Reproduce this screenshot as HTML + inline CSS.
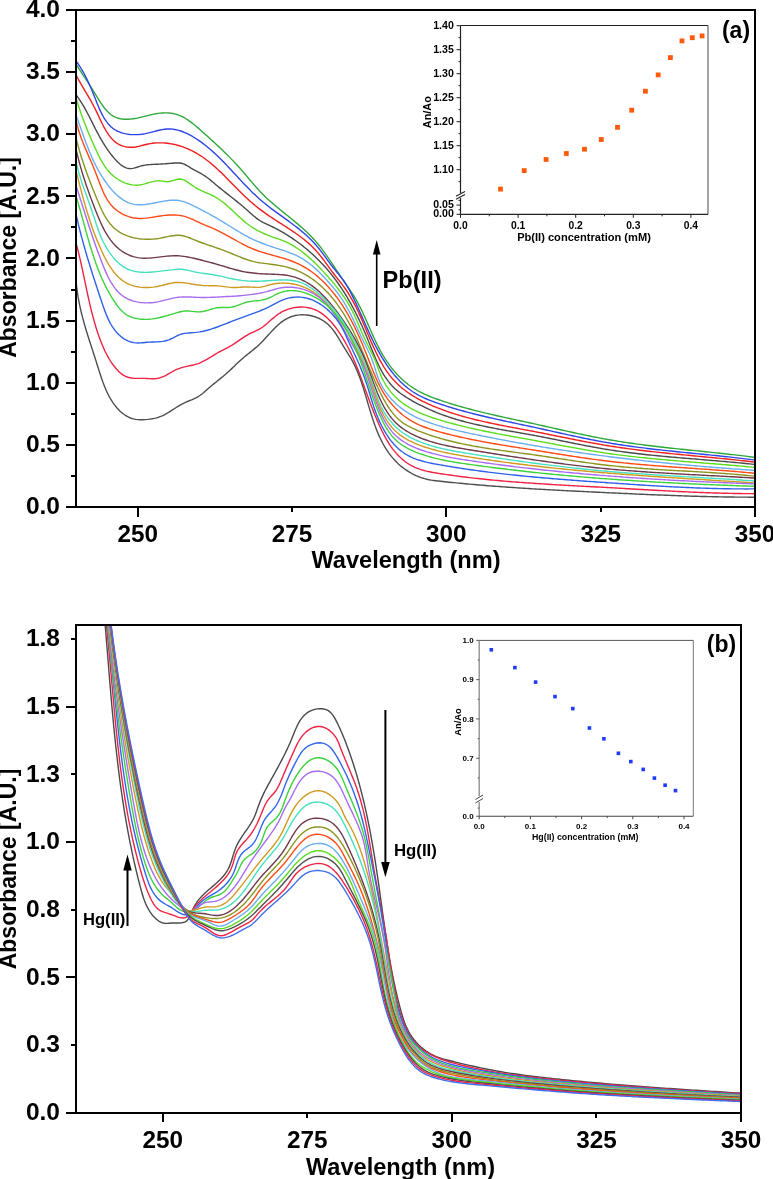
<!DOCTYPE html><html><head><meta charset="utf-8"><style>html,body{margin:0;padding:0;background:#fff;width:773px;height:1179px;overflow:hidden}</style></head><body><svg width="773" height="1179" viewBox="0 0 773 1179" style="display:block;will-change:transform;font-family:'Liberation Sans',sans-serif;font-weight:bold">
<rect width="773" height="1179" fill="#fff"/>
<g clip-path="url(#clipTop)" fill="none" stroke-width="1.4" stroke-linejoin="round">
<path d="M75.92,64.04 L77.13,65.90 L78.32,67.74 L79.50,69.54 L80.67,71.32 L81.83,73.08 L82.97,74.82 L84.11,76.55 L85.25,78.28 L86.37,80.00 L87.50,81.72 L88.62,83.45 L89.74,85.18 L90.86,86.94 L91.98,88.71 L93.11,90.50 L94.24,92.33 L95.38,94.18 L96.53,96.07 L97.69,97.97 L98.87,99.88 L100.07,101.77 L101.31,103.64 L102.58,105.47 L103.88,107.24 L105.24,108.94 L106.64,110.56 L108.10,112.07 L109.62,113.47 L111.20,114.74 L112.86,115.87 L114.59,116.83 L116.41,117.63 L118.30,118.25 L120.25,118.71 L122.26,119.03 L124.31,119.22 L126.40,119.27 L128.51,119.22 L130.64,119.06 L132.77,118.81 L134.90,118.48 L137.02,118.09 L139.13,117.64 L141.23,117.15 L143.33,116.63 L145.43,116.10 L147.53,115.57 L149.63,115.06 L151.73,114.58 L153.84,114.13 L155.96,113.75 L158.08,113.42 L160.20,113.17 L162.32,112.98 L164.43,112.89 L166.52,112.88 L168.60,112.96 L170.66,113.15 L172.69,113.45 L174.69,113.86 L176.65,114.40 L178.58,115.06 L180.48,115.83 L182.34,116.71 L184.17,117.68 L185.98,118.74 L187.76,119.88 L189.51,121.09 L191.24,122.36 L192.95,123.68 L194.64,125.05 L196.32,126.45 L197.98,127.88 L199.63,129.32 L201.26,130.77 L202.89,132.22 L204.51,133.67 L206.12,135.11 L207.72,136.55 L209.32,137.99 L210.90,139.43 L212.48,140.87 L214.05,142.30 L215.61,143.74 L217.16,145.18 L218.71,146.63 L220.24,148.07 L221.77,149.53 L223.28,150.98 L224.79,152.45 L226.29,153.91 L227.78,155.39 L229.26,156.88 L230.72,158.37 L232.18,159.87 L233.64,161.39 L235.08,162.92 L236.51,164.45 L237.93,166.01 L239.34,167.57 L240.74,169.15 L242.13,170.74 L243.52,172.35 L244.89,173.97 L246.27,175.59 L247.64,177.22 L249.02,178.85 L250.39,180.48 L251.77,182.11 L253.16,183.73 L254.56,185.35 L255.97,186.95 L257.39,188.54 L258.83,190.12 L260.28,191.68 L261.75,193.21 L263.25,194.73 L264.76,196.22 L266.30,197.69 L267.85,199.14 L269.42,200.57 L271.01,201.98 L272.61,203.38 L274.22,204.77 L275.85,206.14 L277.48,207.50 L279.12,208.86 L280.76,210.21 L282.42,211.55 L284.07,212.88 L285.73,214.22 L287.38,215.55 L289.04,216.88 L290.69,218.22 L292.34,219.55 L293.98,220.90 L295.62,222.25 L297.24,223.61 L298.86,224.97 L300.47,226.35 L302.06,227.74 L303.64,229.15 L305.20,230.57 L306.74,232.01 L308.27,233.47 L309.77,234.95 L311.25,236.45 L312.71,237.98 L314.15,239.53 L315.55,241.11 L316.93,242.71 L318.29,244.34 L319.61,246.00 L320.92,247.68 L322.21,249.37 L323.48,251.09 L324.73,252.82 L325.97,254.56 L327.19,256.32 L328.41,258.09 L329.61,259.86 L330.81,261.64 L332.00,263.42 L333.19,265.21 L334.38,266.99 L335.56,268.78 L336.75,270.55 L337.94,272.33 L339.14,274.09 L340.35,275.84 L341.56,277.59 L342.76,279.34 L343.97,281.07 L345.18,282.81 L346.38,284.55 L347.57,286.29 L348.75,288.04 L349.92,289.79 L351.07,291.55 L352.21,293.31 L353.32,295.09 L354.42,296.89 L355.49,298.69 L356.54,300.52 L357.56,302.36 L358.55,304.21 L359.53,306.08 L360.48,307.97 L361.41,309.87 L362.33,311.77 L363.23,313.69 L364.12,315.62 L365.00,317.55 L365.87,319.50 L366.74,321.44 L367.60,323.39 L368.45,325.35 L369.31,327.30 L370.17,329.26 L371.03,331.21 L371.89,333.17 L372.76,335.12 L373.64,337.06 L374.54,339.00 L375.44,340.94 L376.36,342.86 L377.30,344.78 L378.25,346.68 L379.23,348.58 L380.23,350.46 L381.26,352.33 L382.31,354.18 L383.39,356.02 L384.50,357.84 L385.64,359.64 L386.82,361.42 L388.04,363.18 L389.28,364.92 L390.57,366.63 L391.88,368.31 L393.24,369.97 L394.62,371.60 L396.04,373.20 L397.49,374.77 L398.97,376.30 L400.49,377.80 L402.04,379.26 L403.62,380.68 L405.23,382.07 L406.88,383.41 L408.55,384.71 L410.26,385.96 L412.00,387.17 L413.76,388.33 L415.56,389.44 L417.39,390.50 L419.24,391.52 L421.12,392.49 L423.02,393.42 L424.94,394.31 L426.89,395.17 L428.85,395.99 L430.82,396.79 L432.80,397.56 L434.80,398.30 L436.81,399.03 L438.82,399.74 L440.83,400.43 L442.85,401.12 L444.88,401.79 L446.90,402.44 L448.93,403.09 L450.96,403.73 L452.99,404.35 L455.03,404.96 L457.07,405.57 L459.11,406.16 L461.15,406.74 L463.20,407.32 L465.24,407.88 L467.29,408.44 L469.35,408.99 L471.40,409.53 L473.46,410.06 L475.51,410.59 L477.57,411.11 L479.63,411.62 L481.70,412.13 L483.76,412.63 L485.83,413.12 L487.89,413.61 L489.96,414.09 L492.03,414.57 L494.10,415.05 L496.17,415.52 L498.25,415.99 L500.32,416.45 L502.39,416.91 L504.47,417.37 L506.54,417.83 L508.62,418.28 L510.70,418.73 L512.77,419.18 L514.85,419.63 L516.93,420.08 L519.01,420.53 L521.08,420.98 L523.16,421.43 L525.24,421.88 L527.32,422.33 L529.40,422.78 L531.47,423.23 L533.55,423.69 L535.63,424.14 L537.70,424.60 L539.78,425.06 L541.85,425.53 L543.93,425.99 L546.00,426.46 L548.07,426.93 L550.15,427.39 L552.22,427.86 L554.29,428.33 L556.37,428.80 L558.44,429.27 L560.51,429.73 L562.59,430.20 L564.66,430.66 L566.74,431.13 L568.81,431.59 L570.89,432.05 L572.96,432.50 L575.04,432.96 L577.11,433.41 L579.19,433.85 L581.27,434.30 L583.35,434.74 L585.43,435.17 L587.50,435.60 L589.59,436.03 L591.67,436.45 L593.75,436.86 L595.83,437.27 L597.92,437.68 L600.00,438.07 L602.09,438.46 L604.18,438.85 L606.27,439.23 L608.36,439.60 L610.45,439.96 L612.54,440.31 L614.64,440.66 L616.73,441.01 L618.83,441.34 L620.93,441.67 L623.02,442.00 L625.12,442.32 L627.23,442.63 L629.33,442.94 L631.43,443.24 L633.53,443.54 L635.64,443.83 L637.74,444.12 L639.85,444.40 L641.96,444.68 L644.06,444.95 L646.17,445.22 L648.28,445.49 L650.39,445.75 L652.50,446.01 L654.61,446.26 L656.72,446.51 L658.83,446.76 L660.95,447.01 L663.06,447.25 L665.17,447.49 L667.29,447.72 L669.40,447.96 L671.51,448.19 L673.63,448.42 L675.74,448.65 L677.86,448.87 L679.98,449.10 L682.09,449.32 L684.21,449.54 L686.32,449.76 L688.44,449.98 L690.55,450.20 L692.67,450.42 L694.79,450.64 L696.90,450.86 L699.02,451.07 L701.13,451.29 L703.25,451.51 L705.36,451.73 L707.48,451.95 L709.59,452.17 L711.71,452.39 L713.82,452.61 L715.94,452.83 L718.05,453.06 L720.16,453.28 L722.28,453.51 L724.39,453.74 L726.50,453.97 L728.61,454.20 L730.72,454.44 L732.83,454.67 L734.94,454.91 L737.05,455.16 L739.16,455.40 L741.27,455.65 L743.38,455.91 L745.48,456.16 L747.59,456.42 L749.69,456.69 L751.80,456.95 L753.90,457.22 L756.00,457.50" stroke="#2FA83A"/>
<path d="M75.99,60.93 L77.31,62.76 L78.57,64.59 L79.78,66.42 L80.93,68.25 L82.04,70.09 L83.11,71.92 L84.13,73.77 L85.12,75.61 L86.07,77.47 L86.99,79.34 L87.89,81.21 L88.76,83.10 L89.61,85.00 L90.45,86.92 L91.27,88.85 L92.08,90.80 L92.89,92.77 L93.69,94.76 L94.49,96.76 L95.30,98.79 L96.11,100.85 L96.94,102.91 L97.79,104.99 L98.66,107.06 L99.55,109.11 L100.48,111.15 L101.45,113.15 L102.47,115.12 L103.53,117.03 L104.65,118.88 L105.83,120.67 L107.07,122.38 L108.38,124.00 L109.77,125.53 L111.24,126.95 L112.80,128.26 L114.45,129.45 L116.19,130.50 L118.03,131.42 L119.95,132.22 L121.93,132.89 L123.97,133.44 L126.06,133.88 L128.19,134.22 L130.33,134.45 L132.50,134.59 L134.66,134.63 L136.82,134.59 L138.97,134.46 L141.12,134.25 L143.26,133.96 L145.40,133.60 L147.53,133.17 L149.66,132.68 L151.78,132.15 L153.90,131.59 L156.01,131.04 L158.11,130.51 L160.21,130.02 L162.30,129.60 L164.39,129.27 L166.47,129.04 L168.55,128.94 L170.62,128.98 L172.68,129.15 L174.73,129.45 L176.77,129.87 L178.80,130.40 L180.81,131.03 L182.81,131.75 L184.78,132.56 L186.74,133.44 L188.68,134.40 L190.59,135.41 L192.48,136.48 L194.34,137.60 L196.17,138.75 L197.97,139.94 L199.75,141.15 L201.50,142.40 L203.22,143.68 L204.92,144.98 L206.60,146.31 L208.26,147.67 L209.89,149.04 L211.51,150.44 L213.10,151.87 L214.68,153.31 L216.25,154.77 L217.79,156.24 L219.33,157.73 L220.85,159.24 L222.36,160.76 L223.86,162.29 L225.35,163.83 L226.83,165.38 L228.31,166.94 L229.78,168.51 L231.24,170.08 L232.70,171.65 L234.16,173.23 L235.62,174.81 L237.08,176.39 L238.53,177.96 L239.99,179.54 L241.46,181.11 L242.93,182.68 L244.40,184.23 L245.88,185.78 L247.37,187.33 L248.87,188.86 L250.37,190.38 L251.89,191.88 L253.42,193.38 L254.97,194.85 L256.53,196.31 L258.10,197.75 L259.69,199.17 L261.30,200.57 L262.93,201.95 L264.58,203.31 L266.24,204.65 L267.92,205.98 L269.61,207.28 L271.31,208.58 L273.02,209.86 L274.74,211.14 L276.47,212.40 L278.20,213.66 L279.93,214.92 L281.67,216.17 L283.41,217.42 L285.14,218.67 L286.88,219.93 L288.61,221.18 L290.33,222.45 L292.05,223.72 L293.76,225.00 L295.45,226.30 L297.14,227.60 L298.81,228.92 L300.47,230.26 L302.11,231.62 L303.73,233.00 L305.33,234.39 L306.91,235.82 L308.47,237.26 L310.01,238.74 L311.52,240.24 L313.00,241.77 L314.45,243.34 L315.87,244.94 L317.26,246.57 L318.62,248.24 L319.97,249.93 L321.29,251.64 L322.59,253.36 L323.89,255.10 L325.17,256.85 L326.45,258.60 L327.73,260.34 L329.01,262.09 L330.30,263.82 L331.59,265.53 L332.90,267.23 L334.23,268.91 L335.57,270.56 L336.92,272.20 L338.27,273.84 L339.60,275.48 L340.91,277.13 L342.19,278.81 L343.43,280.52 L344.62,282.26 L345.78,284.03 L346.89,285.83 L347.98,287.66 L349.03,289.52 L350.05,291.39 L351.05,293.28 L352.02,295.19 L352.98,297.10 L353.92,299.03 L354.84,300.97 L355.76,302.91 L356.66,304.86 L357.56,306.81 L358.45,308.76 L359.34,310.72 L360.21,312.68 L361.09,314.64 L361.96,316.60 L362.83,318.57 L363.70,320.53 L364.57,322.50 L365.45,324.46 L366.32,326.42 L367.20,328.38 L368.09,330.33 L368.98,332.28 L369.88,334.23 L370.79,336.17 L371.71,338.11 L372.64,340.04 L373.58,341.96 L374.54,343.88 L375.51,345.78 L376.50,347.68 L377.51,349.57 L378.53,351.45 L379.58,353.32 L380.64,355.18 L381.73,357.03 L382.84,358.86 L383.97,360.68 L385.13,362.49 L386.32,364.28 L387.53,366.05 L388.77,367.80 L390.04,369.53 L391.33,371.24 L392.66,372.93 L394.01,374.58 L395.40,376.21 L396.81,377.81 L398.26,379.38 L399.73,380.91 L401.24,382.40 L402.78,383.86 L404.36,385.28 L405.97,386.66 L407.62,388.00 L409.30,389.29 L411.01,390.53 L412.76,391.72 L414.55,392.87 L416.38,393.96 L418.24,395.01 L420.13,396.00 L422.06,396.96 L424.01,397.87 L425.98,398.75 L427.97,399.59 L429.99,400.40 L432.01,401.18 L434.05,401.94 L436.10,402.67 L438.15,403.39 L440.21,404.09 L442.27,404.78 L444.33,405.45 L446.39,406.11 L448.46,406.76 L450.52,407.40 L452.58,408.02 L454.65,408.64 L456.72,409.24 L458.78,409.83 L460.85,410.42 L462.92,410.99 L464.99,411.55 L467.07,412.11 L469.14,412.66 L471.21,413.19 L473.29,413.72 L475.36,414.25 L477.44,414.76 L479.51,415.27 L481.59,415.77 L483.67,416.26 L485.75,416.75 L487.83,417.24 L489.91,417.71 L491.99,418.19 L494.07,418.66 L496.15,419.12 L498.23,419.58 L500.32,420.04 L502.40,420.50 L504.48,420.95 L506.57,421.40 L508.65,421.85 L510.74,422.29 L512.83,422.74 L514.91,423.18 L517.00,423.62 L519.09,424.07 L521.17,424.51 L523.26,424.95 L525.35,425.40 L527.44,425.84 L529.53,426.29 L531.62,426.74 L533.71,427.19 L535.80,427.64 L537.89,428.10 L539.98,428.56 L542.07,429.02 L544.16,429.48 L546.25,429.95 L548.34,430.41 L550.43,430.88 L552.53,431.34 L554.62,431.81 L556.71,432.28 L558.80,432.74 L560.90,433.21 L562.99,433.67 L565.09,434.14 L567.18,434.60 L569.28,435.06 L571.38,435.51 L573.47,435.97 L575.57,436.42 L577.67,436.87 L579.77,437.31 L581.87,437.75 L583.97,438.19 L586.07,438.62 L588.18,439.05 L590.28,439.47 L592.38,439.88 L594.49,440.30 L596.59,440.70 L598.70,441.10 L600.81,441.49 L602.92,441.88 L605.03,442.25 L607.14,442.62 L609.25,442.99 L611.36,443.34 L613.47,443.69 L615.59,444.03 L617.70,444.36 L619.82,444.69 L621.94,445.01 L624.06,445.33 L626.17,445.64 L628.29,445.94 L630.41,446.24 L632.54,446.53 L634.66,446.82 L636.78,447.10 L638.90,447.38 L641.03,447.65 L643.15,447.92 L645.28,448.18 L647.40,448.44 L649.53,448.70 L651.65,448.95 L653.78,449.20 L655.91,449.44 L658.04,449.68 L660.16,449.92 L662.29,450.15 L664.42,450.38 L666.55,450.61 L668.68,450.84 L670.81,451.06 L672.94,451.29 L675.07,451.51 L677.20,451.73 L679.33,451.94 L681.47,452.16 L683.60,452.37 L685.73,452.59 L687.86,452.80 L689.99,453.01 L692.12,453.22 L694.26,453.43 L696.39,453.64 L698.52,453.85 L700.65,454.06 L702.78,454.28 L704.92,454.49 L707.05,454.70 L709.18,454.91 L711.31,455.13 L713.44,455.34 L715.57,455.56 L717.70,455.78 L719.84,456.00 L721.97,456.22 L724.10,456.45 L726.23,456.68 L728.36,456.90 L730.48,457.14 L732.61,457.37 L734.74,457.61 L736.87,457.85 L739.00,458.10 L741.13,458.35 L743.25,458.60 L745.38,458.85 L747.50,459.11 L749.63,459.38 L751.75,459.65 L753.88,459.92 L756.00,460.20" stroke="#2E45E6"/>
<path d="M76.03,74.96 L77.03,76.87 L78.04,78.75 L79.07,80.62 L80.12,82.47 L81.18,84.31 L82.24,86.14 L83.31,87.97 L84.38,89.78 L85.46,91.59 L86.53,93.40 L87.60,95.22 L88.67,97.03 L89.72,98.85 L90.77,100.68 L91.80,102.51 L92.81,104.36 L93.80,106.22 L94.78,108.10 L95.73,110.00 L96.65,111.91 L97.57,113.84 L98.47,115.78 L99.37,117.72 L100.27,119.66 L101.19,121.60 L102.13,123.53 L103.10,125.45 L104.10,127.35 L105.14,129.23 L106.23,131.08 L107.38,132.89 L108.58,134.68 L109.86,136.41 L111.22,138.08 L112.65,139.65 L114.18,141.10 L115.80,142.42 L117.51,143.58 L119.30,144.58 L121.17,145.43 L123.10,146.12 L125.09,146.65 L127.12,147.02 L129.19,147.24 L131.28,147.30 L133.38,147.20 L135.49,146.95 L137.61,146.56 L139.72,146.09 L141.84,145.55 L143.95,145.00 L146.07,144.47 L148.19,144.00 L150.31,143.61 L152.43,143.30 L154.55,143.07 L156.66,142.92 L158.77,142.83 L160.88,142.83 L162.98,142.89 L165.07,143.02 L167.16,143.23 L169.23,143.49 L171.30,143.83 L173.35,144.23 L175.40,144.69 L177.43,145.21 L179.44,145.79 L181.44,146.42 L183.43,147.12 L185.39,147.86 L187.34,148.66 L189.27,149.51 L191.18,150.41 L193.07,151.36 L194.93,152.35 L196.77,153.39 L198.59,154.48 L200.38,155.60 L202.15,156.76 L203.89,157.97 L205.60,159.21 L207.29,160.48 L208.95,161.78 L210.60,163.12 L212.22,164.48 L213.83,165.87 L215.42,167.28 L216.99,168.71 L218.55,170.16 L220.09,171.63 L221.63,173.12 L223.15,174.61 L224.67,176.12 L226.17,177.64 L227.67,179.16 L229.17,180.69 L230.66,182.22 L232.15,183.75 L233.64,185.27 L235.14,186.80 L236.63,188.31 L238.13,189.82 L239.63,191.32 L241.13,192.81 L242.65,194.28 L244.17,195.73 L245.71,197.18 L247.25,198.60 L248.80,200.02 L250.37,201.41 L251.95,202.79 L253.54,204.15 L255.15,205.49 L256.77,206.82 L258.41,208.12 L260.07,209.41 L261.75,210.68 L263.45,211.92 L265.16,213.15 L266.89,214.36 L268.64,215.56 L270.39,216.74 L272.16,217.92 L273.94,219.08 L275.72,220.24 L277.51,221.39 L279.30,222.54 L281.10,223.69 L282.89,224.83 L284.69,225.98 L286.47,227.14 L288.26,228.30 L290.04,229.47 L291.81,230.64 L293.57,231.83 L295.31,233.04 L297.05,234.25 L298.76,235.49 L300.46,236.75 L302.14,238.02 L303.80,239.32 L305.44,240.65 L307.06,242.00 L308.64,243.37 L310.20,244.78 L311.73,246.23 L313.23,247.70 L314.70,249.21 L316.13,250.76 L317.52,252.35 L318.89,253.97 L320.23,255.62 L321.55,257.29 L322.84,258.99 L324.13,260.70 L325.40,262.42 L326.66,264.15 L327.92,265.89 L329.17,267.62 L330.43,269.35 L331.70,271.08 L332.98,272.79 L334.27,274.48 L335.58,276.16 L336.90,277.82 L338.22,279.46 L339.54,281.11 L340.84,282.76 L342.13,284.42 L343.38,286.09 L344.60,287.78 L345.79,289.50 L346.94,291.22 L348.07,292.97 L349.17,294.74 L350.24,296.52 L351.29,298.32 L352.31,300.13 L353.31,301.96 L354.29,303.80 L355.25,305.66 L356.20,307.53 L357.12,309.42 L358.03,311.32 L358.93,313.23 L359.81,315.16 L360.69,317.09 L361.55,319.04 L362.40,321.00 L363.25,322.97 L364.09,324.95 L364.93,326.93 L365.77,328.92 L366.60,330.92 L367.44,332.92 L368.28,334.91 L369.12,336.91 L369.97,338.91 L370.82,340.90 L371.68,342.89 L372.55,344.87 L373.44,346.84 L374.33,348.80 L375.24,350.76 L376.17,352.69 L377.11,354.62 L378.07,356.53 L379.06,358.42 L380.06,360.30 L381.09,362.15 L382.14,363.99 L383.22,365.80 L384.32,367.59 L385.46,369.35 L386.62,371.08 L387.82,372.78 L389.05,374.46 L390.32,376.10 L391.63,377.71 L392.97,379.28 L394.35,380.82 L395.77,382.32 L397.24,383.78 L398.75,385.20 L400.29,386.59 L401.88,387.94 L403.50,389.25 L405.15,390.53 L406.84,391.77 L408.56,392.98 L410.31,394.15 L412.08,395.30 L413.89,396.41 L415.72,397.50 L417.57,398.55 L419.44,399.58 L421.33,400.58 L423.25,401.55 L425.17,402.49 L427.12,403.41 L429.08,404.31 L431.05,405.18 L433.03,406.03 L435.02,406.86 L437.01,407.66 L439.02,408.45 L441.02,409.21 L443.03,409.96 L445.04,410.68 L447.06,411.39 L449.08,412.08 L451.10,412.76 L453.13,413.42 L455.16,414.06 L457.19,414.69 L459.22,415.30 L461.26,415.89 L463.29,416.48 L465.34,417.05 L467.38,417.60 L469.42,418.15 L471.47,418.68 L473.52,419.20 L475.57,419.70 L477.63,420.20 L479.69,420.69 L481.74,421.17 L483.80,421.64 L485.86,422.10 L487.93,422.55 L489.99,422.99 L492.06,423.43 L494.13,423.86 L496.19,424.28 L498.26,424.70 L500.34,425.12 L502.41,425.52 L504.48,425.93 L506.56,426.33 L508.63,426.73 L510.71,427.12 L512.79,427.51 L514.86,427.90 L516.94,428.29 L519.02,428.68 L521.10,429.07 L523.18,429.46 L525.26,429.85 L527.34,430.24 L529.42,430.63 L531.50,431.02 L533.58,431.42 L535.66,431.82 L537.74,432.22 L539.82,432.63 L541.90,433.04 L543.98,433.45 L546.06,433.86 L548.14,434.28 L550.22,434.69 L552.30,435.11 L554.38,435.53 L556.46,435.95 L558.54,436.37 L560.62,436.79 L562.70,437.21 L564.78,437.63 L566.86,438.05 L568.94,438.47 L571.03,438.89 L573.11,439.30 L575.19,439.71 L577.27,440.12 L579.36,440.53 L581.44,440.94 L583.53,441.34 L585.61,441.73 L587.70,442.13 L589.78,442.52 L591.87,442.90 L593.96,443.28 L596.05,443.66 L598.13,444.03 L600.22,444.39 L602.31,444.75 L604.41,445.10 L606.50,445.45 L608.59,445.79 L610.68,446.12 L612.78,446.45 L614.87,446.77 L616.97,447.08 L619.07,447.39 L621.16,447.70 L623.26,447.99 L625.36,448.29 L627.46,448.57 L629.56,448.85 L631.66,449.13 L633.76,449.40 L635.86,449.67 L637.96,449.94 L640.07,450.19 L642.17,450.45 L644.27,450.70 L646.38,450.95 L648.48,451.19 L650.59,451.43 L652.69,451.67 L654.80,451.90 L656.91,452.13 L659.01,452.36 L661.12,452.58 L663.23,452.81 L665.34,453.03 L667.44,453.24 L669.55,453.46 L671.66,453.67 L673.77,453.88 L675.88,454.09 L677.99,454.30 L680.10,454.51 L682.21,454.71 L684.32,454.92 L686.43,455.12 L688.54,455.32 L690.65,455.53 L692.76,455.73 L694.87,455.93 L696.98,456.13 L699.09,456.33 L701.20,456.53 L703.31,456.73 L705.42,456.94 L707.53,457.14 L709.64,457.34 L711.75,457.55 L713.86,457.75 L715.97,457.96 L718.08,458.16 L720.19,458.37 L722.30,458.58 L724.40,458.80 L726.51,459.01 L728.62,459.23 L730.73,459.45 L732.84,459.67 L734.95,459.89 L737.05,460.12 L739.16,460.35 L741.27,460.58 L743.37,460.81 L745.48,461.05 L747.58,461.29 L749.69,461.54 L751.79,461.79 L753.90,462.04 L756.00,462.30" stroke="#F01E1E"/>
<path d="M76.02,94.71 L77.25,96.38 L78.45,98.07 L79.62,99.80 L80.76,101.55 L81.87,103.33 L82.96,105.13 L84.02,106.95 L85.06,108.79 L86.09,110.65 L87.09,112.51 L88.09,114.39 L89.07,116.27 L90.03,118.16 L90.99,120.05 L91.95,121.94 L92.90,123.83 L93.85,125.72 L94.80,127.59 L95.75,129.46 L96.71,131.31 L97.67,133.15 L98.65,134.98 L99.64,136.80 L100.64,138.60 L101.67,140.40 L102.72,142.18 L103.80,143.94 L104.90,145.70 L106.04,147.45 L107.21,149.18 L108.42,150.90 L109.68,152.60 L110.97,154.30 L112.32,155.98 L113.71,157.65 L115.16,159.31 L116.66,160.94 L118.22,162.52 L119.84,163.99 L121.51,165.33 L123.24,166.49 L125.03,167.45 L126.87,168.15 L128.77,168.57 L130.74,168.67 L132.75,168.42 L134.82,167.92 L136.90,167.27 L139.00,166.58 L141.08,165.94 L143.15,165.45 L145.20,165.07 L147.24,164.80 L149.28,164.61 L151.32,164.48 L153.36,164.39 L155.41,164.32 L157.48,164.24 L159.57,164.14 L161.68,164.01 L163.80,163.85 L165.93,163.68 L168.06,163.51 L170.17,163.34 L172.28,163.19 L174.35,163.06 L176.40,162.96 L178.40,162.93 L180.36,163.06 L182.27,163.46 L184.12,164.12 L185.94,165.00 L187.75,166.03 L189.54,167.14 L191.35,168.30 L193.19,169.42 L195.05,170.48 L196.94,171.49 L198.82,172.49 L200.70,173.48 L202.54,174.51 L204.34,175.60 L206.08,176.77 L207.77,178.00 L209.43,179.30 L211.05,180.63 L212.65,181.98 L214.25,183.34 L215.85,184.69 L217.47,186.03 L219.08,187.36 L220.71,188.67 L222.34,189.98 L223.98,191.28 L225.62,192.58 L227.26,193.87 L228.91,195.16 L230.55,196.45 L232.20,197.75 L233.84,199.04 L235.48,200.35 L237.12,201.66 L238.75,202.99 L240.37,204.32 L241.99,205.67 L243.60,207.03 L245.20,208.41 L246.79,209.81 L248.37,211.23 L249.95,212.65 L251.53,214.07 L253.12,215.47 L254.74,216.82 L256.38,218.13 L258.06,219.36 L259.78,220.52 L261.56,221.57 L263.38,222.55 L265.23,223.46 L267.11,224.34 L269.00,225.21 L270.88,226.09 L272.76,227.00 L274.63,227.93 L276.48,228.89 L278.33,229.87 L280.17,230.88 L281.99,231.91 L283.81,232.97 L285.61,234.05 L287.41,235.16 L289.19,236.29 L290.95,237.44 L292.71,238.61 L294.45,239.81 L296.17,241.03 L297.89,242.26 L299.58,243.52 L301.27,244.81 L302.94,246.11 L304.59,247.43 L306.22,248.77 L307.84,250.13 L309.45,251.51 L311.03,252.91 L312.60,254.32 L314.15,255.76 L315.68,257.21 L317.20,258.67 L318.69,260.16 L320.17,261.66 L321.62,263.18 L323.06,264.71 L324.47,266.26 L325.87,267.82 L327.24,269.40 L328.59,270.99 L329.93,272.60 L331.24,274.22 L332.53,275.86 L333.81,277.50 L335.06,279.17 L336.30,280.84 L337.52,282.53 L338.72,284.23 L339.91,285.94 L341.07,287.67 L342.22,289.40 L343.35,291.15 L344.47,292.91 L345.57,294.68 L346.66,296.47 L347.73,298.26 L348.78,300.06 L349.82,301.88 L350.85,303.70 L351.86,305.54 L352.86,307.38 L353.84,309.24 L354.81,311.10 L355.77,312.97 L356.72,314.85 L357.65,316.74 L358.57,318.64 L359.48,320.55 L360.38,322.46 L361.27,324.38 L362.15,326.31 L363.01,328.25 L363.87,330.19 L364.72,332.14 L365.55,334.09 L366.38,336.06 L367.20,338.03 L368.01,340.00 L368.82,341.98 L369.62,343.96 L370.41,345.95 L371.21,347.93 L372.00,349.91 L372.81,351.89 L373.62,353.86 L374.44,355.83 L375.27,357.78 L376.11,359.72 L376.98,361.64 L377.86,363.55 L378.77,365.45 L379.70,367.32 L380.66,369.17 L381.65,370.99 L382.67,372.79 L383.72,374.56 L384.82,376.31 L385.95,378.01 L387.13,379.69 L388.35,381.33 L389.62,382.93 L390.94,384.50 L392.31,386.02 L393.74,387.49 L395.22,388.93 L396.77,390.31 L398.37,391.65 L400.02,392.95 L401.72,394.20 L403.45,395.42 L405.22,396.60 L407.03,397.75 L408.85,398.87 L410.70,399.96 L412.57,401.02 L414.44,402.05 L416.32,403.07 L418.21,404.06 L420.10,405.03 L422.00,405.98 L423.90,406.91 L425.80,407.82 L427.72,408.70 L429.64,409.57 L431.56,410.41 L433.49,411.24 L435.43,412.04 L437.37,412.82 L439.32,413.58 L441.27,414.32 L443.23,415.05 L445.20,415.75 L447.18,416.43 L449.16,417.10 L451.14,417.74 L453.13,418.37 L455.13,418.99 L457.13,419.58 L459.14,420.16 L461.15,420.73 L463.17,421.28 L465.19,421.82 L467.22,422.34 L469.25,422.85 L471.28,423.35 L473.32,423.84 L475.36,424.31 L477.41,424.78 L479.46,425.23 L481.51,425.68 L483.56,426.11 L485.62,426.54 L487.68,426.96 L489.74,427.37 L491.81,427.77 L493.87,428.17 L495.94,428.57 L498.01,428.95 L500.09,429.33 L502.16,429.71 L504.24,430.09 L506.31,430.46 L508.39,430.83 L510.47,431.19 L512.54,431.56 L514.62,431.92 L516.70,432.29 L518.78,432.65 L520.86,433.02 L522.93,433.38 L525.01,433.75 L527.09,434.12 L529.16,434.49 L531.24,434.87 L533.31,435.25 L535.38,435.63 L537.46,436.02 L539.52,436.41 L541.59,436.81 L543.66,437.21 L545.72,437.62 L547.79,438.03 L549.85,438.44 L551.91,438.85 L553.97,439.27 L556.03,439.68 L558.09,440.10 L560.15,440.52 L562.21,440.94 L564.27,441.36 L566.33,441.78 L568.39,442.20 L570.44,442.61 L572.50,443.03 L574.56,443.44 L576.62,443.85 L578.68,444.26 L580.73,444.67 L582.79,445.07 L584.85,445.47 L586.91,445.87 L588.97,446.26 L591.03,446.65 L593.10,447.03 L595.16,447.41 L597.22,447.78 L599.29,448.14 L601.35,448.50 L603.42,448.85 L605.49,449.19 L607.56,449.53 L609.63,449.86 L611.71,450.18 L613.78,450.49 L615.86,450.80 L617.93,451.10 L620.01,451.40 L622.09,451.68 L624.17,451.97 L626.25,452.24 L628.34,452.51 L630.42,452.78 L632.51,453.04 L634.59,453.29 L636.68,453.54 L638.77,453.78 L640.86,454.02 L642.95,454.25 L645.04,454.48 L647.13,454.71 L649.22,454.93 L651.31,455.14 L653.40,455.36 L655.50,455.57 L657.59,455.77 L659.69,455.97 L661.78,456.17 L663.88,456.37 L665.97,456.56 L668.07,456.75 L670.17,456.94 L672.26,457.13 L674.36,457.31 L676.46,457.49 L678.56,457.67 L680.66,457.85 L682.75,458.03 L684.85,458.21 L686.95,458.38 L689.05,458.55 L691.15,458.73 L693.25,458.90 L695.35,459.07 L697.44,459.24 L699.54,459.41 L701.64,459.58 L703.74,459.76 L705.83,459.93 L707.93,460.10 L710.03,460.27 L712.12,460.45 L714.22,460.62 L716.32,460.80 L718.41,460.98 L720.51,461.16 L722.60,461.34 L724.69,461.52 L726.79,461.70 L728.88,461.89 L730.97,462.08 L733.06,462.27 L735.15,462.47 L737.24,462.66 L739.33,462.86 L741.42,463.07 L743.50,463.28 L745.59,463.49 L747.67,463.70 L749.76,463.92 L751.84,464.14 L753.92,464.37 L756.00,464.60" stroke="#4A4A4A"/>
<path d="M76.02,98.00 L76.62,100.03 L77.23,102.04 L77.87,104.06 L78.51,106.07 L79.18,108.08 L79.86,110.09 L80.55,112.09 L81.26,114.10 L81.98,116.09 L82.71,118.09 L83.46,120.08 L84.22,122.07 L84.99,124.06 L85.77,126.04 L86.56,128.02 L87.36,129.99 L88.18,131.96 L89.00,133.93 L89.83,135.90 L90.66,137.86 L91.51,139.82 L92.36,141.77 L93.22,143.72 L94.09,145.67 L94.96,147.61 L95.84,149.55 L96.73,151.48 L97.63,153.40 L98.55,155.31 L99.49,157.20 L100.46,159.07 L101.47,160.91 L102.52,162.72 L103.61,164.49 L104.75,166.23 L105.96,167.93 L107.22,169.58 L108.55,171.18 L109.95,172.72 L111.43,174.21 L112.99,175.63 L114.64,176.99 L116.38,178.28 L118.21,179.49 L120.11,180.61 L122.07,181.63 L124.08,182.54 L126.13,183.34 L128.20,184.00 L130.30,184.53 L132.40,184.90 L134.50,185.12 L136.58,185.18 L138.63,185.05 L140.65,184.76 L142.66,184.35 L144.65,183.84 L146.63,183.27 L148.62,182.68 L150.63,182.11 L152.65,181.58 L154.69,181.14 L156.77,180.83 L158.86,180.71 L160.96,180.84 L163.07,181.17 L165.17,181.52 L167.26,181.69 L169.34,181.52 L171.42,181.05 L173.48,180.41 L175.53,179.76 L177.56,179.24 L179.58,179.01 L181.55,179.19 L183.48,179.81 L185.37,180.75 L187.22,181.90 L189.04,183.14 L190.83,184.38 L192.60,185.60 L194.38,186.78 L196.17,187.90 L198.00,188.97 L199.87,189.95 L201.79,190.86 L203.74,191.71 L205.72,192.53 L207.70,193.34 L209.66,194.17 L211.60,195.05 L213.49,196.00 L215.33,197.03 L217.13,198.12 L218.88,199.27 L220.61,200.48 L222.29,201.74 L223.95,203.05 L225.58,204.40 L227.19,205.78 L228.79,207.19 L230.37,208.62 L231.93,210.07 L233.50,211.53 L235.06,213.00 L236.62,214.47 L238.18,215.93 L239.76,217.38 L241.34,218.81 L242.94,220.22 L244.57,221.60 L246.21,222.95 L247.89,224.25 L249.60,225.51 L251.34,226.72 L253.11,227.88 L254.93,228.98 L256.77,230.03 L258.64,231.03 L260.54,231.98 L262.45,232.89 L264.39,233.76 L266.33,234.58 L268.29,235.37 L270.26,236.12 L272.23,236.84 L274.21,237.54 L276.18,238.22 L278.16,238.91 L280.13,239.62 L282.09,240.36 L284.04,241.13 L285.98,241.96 L287.90,242.85 L289.81,243.82 L291.70,244.86 L293.57,245.96 L295.41,247.10 L297.21,248.29 L298.98,249.51 L300.72,250.76 L302.43,252.03 L304.10,253.33 L305.75,254.66 L307.36,256.01 L308.96,257.38 L310.52,258.77 L312.07,260.18 L313.59,261.62 L315.10,263.07 L316.59,264.54 L318.06,266.03 L319.52,267.53 L320.96,269.05 L322.40,270.58 L323.83,272.13 L325.25,273.69 L326.66,275.26 L328.07,276.84 L329.47,278.43 L330.87,280.03 L332.25,281.65 L333.62,283.28 L334.98,284.92 L336.32,286.58 L337.64,288.24 L338.95,289.93 L340.23,291.63 L341.49,293.34 L342.73,295.07 L343.94,296.82 L345.12,298.58 L346.28,300.36 L347.40,302.15 L348.49,303.97 L349.55,305.80 L350.57,307.65 L351.55,309.52 L352.51,311.40 L353.43,313.30 L354.34,315.21 L355.22,317.14 L356.09,319.07 L356.94,321.01 L357.79,322.95 L358.62,324.90 L359.46,326.85 L360.29,328.81 L361.13,330.76 L361.98,332.71 L362.83,334.66 L363.71,336.60 L364.60,338.54 L365.51,340.46 L366.44,342.38 L367.39,344.29 L368.35,346.20 L369.31,348.10 L370.27,350.00 L371.22,351.91 L372.15,353.82 L373.06,355.73 L373.94,357.65 L374.78,359.58 L375.58,361.53 L376.35,363.48 L377.09,365.45 L377.82,367.42 L378.55,369.38 L379.29,371.35 L380.05,373.31 L380.85,375.26 L381.69,377.20 L382.60,379.13 L383.57,381.03 L384.61,382.91 L385.72,384.77 L386.90,386.60 L388.13,388.38 L389.43,390.13 L390.78,391.83 L392.18,393.49 L393.62,395.09 L395.12,396.63 L396.65,398.11 L398.22,399.53 L399.83,400.89 L401.48,402.20 L403.16,403.46 L404.88,404.66 L406.62,405.82 L408.40,406.93 L410.20,407.99 L412.03,409.02 L413.89,410.00 L415.77,410.94 L417.67,411.84 L419.60,412.71 L421.54,413.55 L423.50,414.35 L425.47,415.13 L427.46,415.88 L429.46,416.61 L431.47,417.31 L433.49,417.99 L435.51,418.65 L437.55,419.30 L439.58,419.93 L441.62,420.55 L443.67,421.15 L445.71,421.75 L447.76,422.33 L449.81,422.90 L451.86,423.46 L453.91,424.01 L455.96,424.55 L458.02,425.08 L460.08,425.60 L462.14,426.11 L464.20,426.62 L466.27,427.11 L468.33,427.59 L470.40,428.07 L472.47,428.54 L474.54,429.00 L476.61,429.45 L478.68,429.90 L480.76,430.34 L482.83,430.78 L484.91,431.21 L486.99,431.63 L489.07,432.05 L491.15,432.46 L493.23,432.87 L495.31,433.27 L497.39,433.67 L499.47,434.07 L501.56,434.46 L503.64,434.85 L505.73,435.24 L507.81,435.63 L509.90,436.01 L511.99,436.39 L514.07,436.77 L516.16,437.15 L518.25,437.53 L520.34,437.90 L522.43,438.28 L524.51,438.66 L526.60,439.04 L528.69,439.41 L530.78,439.79 L532.87,440.18 L534.95,440.56 L537.04,440.94 L539.13,441.33 L541.22,441.72 L543.30,442.10 L545.39,442.49 L547.48,442.89 L549.56,443.28 L551.65,443.67 L553.74,444.06 L555.83,444.45 L557.91,444.84 L560.00,445.23 L562.09,445.62 L564.17,446.01 L566.26,446.39 L568.35,446.78 L570.44,447.16 L572.53,447.54 L574.62,447.92 L576.71,448.30 L578.80,448.67 L580.89,449.04 L582.98,449.40 L585.07,449.77 L587.16,450.12 L589.25,450.48 L591.35,450.83 L593.44,451.17 L595.53,451.51 L597.63,451.85 L599.72,452.18 L601.82,452.50 L603.92,452.82 L606.02,453.13 L608.12,453.44 L610.22,453.74 L612.32,454.03 L614.42,454.32 L616.52,454.60 L618.63,454.87 L620.73,455.15 L622.84,455.41 L624.94,455.67 L627.05,455.93 L629.15,456.18 L631.26,456.42 L633.37,456.67 L635.48,456.90 L637.59,457.13 L639.70,457.36 L641.81,457.59 L643.92,457.81 L646.03,458.03 L648.14,458.24 L650.26,458.45 L652.37,458.65 L654.48,458.86 L656.60,459.06 L658.71,459.25 L660.82,459.45 L662.94,459.64 L665.05,459.83 L667.17,460.02 L669.28,460.20 L671.40,460.38 L673.52,460.56 L675.63,460.74 L677.75,460.92 L679.87,461.09 L681.98,461.27 L684.10,461.44 L686.22,461.61 L688.33,461.78 L690.45,461.95 L692.57,462.12 L694.69,462.29 L696.80,462.45 L698.92,462.62 L701.04,462.79 L703.15,462.95 L705.27,463.12 L707.39,463.29 L709.50,463.46 L711.62,463.62 L713.74,463.79 L715.85,463.96 L717.97,464.13 L720.09,464.30 L722.20,464.47 L724.32,464.65 L726.43,464.82 L728.55,465.00 L730.66,465.18 L732.78,465.36 L734.89,465.54 L737.00,465.72 L739.12,465.91 L741.23,466.10 L743.34,466.29 L745.45,466.48 L747.56,466.68 L749.67,466.88 L751.78,467.08 L753.89,467.29 L756.00,467.50" stroke="#5CDC1E"/>
<path d="M75.89,114.75 L76.61,116.71 L77.32,118.68 L78.02,120.65 L78.72,122.63 L79.42,124.60 L80.12,126.58 L80.82,128.56 L81.51,130.54 L82.22,132.52 L82.92,134.50 L83.63,136.48 L84.35,138.46 L85.08,140.43 L85.81,142.40 L86.55,144.36 L87.31,146.32 L88.08,148.28 L88.86,150.23 L89.66,152.17 L90.47,154.10 L91.30,156.03 L92.15,157.94 L93.02,159.85 L93.91,161.75 L94.83,163.63 L95.76,165.51 L96.73,167.37 L97.72,169.22 L98.73,171.05 L99.78,172.87 L100.85,174.68 L101.96,176.47 L103.10,178.24 L104.27,180.00 L105.48,181.74 L106.72,183.46 L108.01,185.16 L109.33,186.84 L110.69,188.50 L112.09,190.12 L113.53,191.70 L115.01,193.23 L116.53,194.70 L118.09,196.10 L119.70,197.43 L121.34,198.67 L123.03,199.83 L124.77,200.88 L126.54,201.82 L128.36,202.64 L130.23,203.34 L132.14,203.91 L134.09,204.33 L136.09,204.61 L138.13,204.75 L140.20,204.78 L142.31,204.70 L144.44,204.53 L146.60,204.28 L148.77,203.96 L150.96,203.60 L153.16,203.20 L155.36,202.77 L157.57,202.34 L159.77,201.91 L161.96,201.50 L164.14,201.12 L166.30,200.78 L168.45,200.51 L170.56,200.31 L172.65,200.20 L174.70,200.18 L176.72,200.28 L178.70,200.51 L180.64,200.86 L182.57,201.34 L184.49,201.93 L186.39,202.62 L188.28,203.39 L190.17,204.23 L192.05,205.11 L193.93,206.03 L195.80,206.97 L197.68,207.91 L199.55,208.86 L201.42,209.82 L203.29,210.79 L205.16,211.76 L207.02,212.75 L208.88,213.75 L210.73,214.77 L212.57,215.80 L214.41,216.84 L216.24,217.90 L218.06,218.98 L219.88,220.08 L221.69,221.18 L223.50,222.29 L225.30,223.41 L227.10,224.53 L228.90,225.65 L230.70,226.77 L232.50,227.89 L234.30,229.00 L236.10,230.10 L237.91,231.19 L239.72,232.27 L241.53,233.32 L243.35,234.36 L245.18,235.38 L247.02,236.38 L248.87,237.34 L250.72,238.28 L252.59,239.19 L254.47,240.06 L256.36,240.90 L258.27,241.71 L260.19,242.49 L262.11,243.24 L264.05,243.97 L266.00,244.69 L267.96,245.38 L269.93,246.06 L271.91,246.73 L273.90,247.39 L275.90,248.05 L277.90,248.70 L279.92,249.35 L281.94,250.01 L283.96,250.68 L285.97,251.36 L287.98,252.06 L289.97,252.80 L291.95,253.57 L293.90,254.37 L295.82,255.23 L297.70,256.14 L299.55,257.10 L301.36,258.12 L303.14,259.19 L304.88,260.31 L306.59,261.48 L308.27,262.70 L309.92,263.96 L311.54,265.25 L313.14,266.59 L314.71,267.96 L316.25,269.36 L317.78,270.79 L319.29,272.25 L320.77,273.73 L322.24,275.23 L323.70,276.75 L325.14,278.29 L326.57,279.85 L327.98,281.41 L329.38,283.00 L330.77,284.59 L332.14,286.20 L333.48,287.83 L334.81,289.47 L336.12,291.12 L337.40,292.79 L338.65,294.48 L339.88,296.19 L341.08,297.91 L342.25,299.65 L343.39,301.41 L344.50,303.19 L345.57,304.98 L346.62,306.79 L347.63,308.62 L348.63,310.46 L349.60,312.31 L350.55,314.17 L351.49,316.04 L352.41,317.92 L353.32,319.81 L354.22,321.71 L355.11,323.61 L355.99,325.51 L356.88,327.41 L357.76,329.32 L358.64,331.22 L359.53,333.13 L360.42,335.03 L361.33,336.93 L362.24,338.82 L363.17,340.70 L364.11,342.58 L365.06,344.46 L366.00,346.34 L366.94,348.21 L367.87,350.10 L368.78,351.99 L369.66,353.89 L370.51,355.80 L371.33,357.74 L372.10,359.69 L372.82,361.66 L373.50,363.65 L374.15,365.65 L374.79,367.67 L375.41,369.68 L376.05,371.69 L376.70,373.70 L377.37,375.69 L378.09,377.66 L378.86,379.61 L379.69,381.54 L380.59,383.43 L381.55,385.30 L382.57,387.13 L383.65,388.93 L384.79,390.69 L385.98,392.42 L387.23,394.12 L388.53,395.78 L389.88,397.40 L391.27,398.98 L392.71,400.52 L394.20,402.03 L395.73,403.49 L397.30,404.91 L398.91,406.29 L400.55,407.62 L402.23,408.91 L403.94,410.15 L405.69,411.34 L407.46,412.49 L409.27,413.59 L411.09,414.64 L412.95,415.64 L414.82,416.60 L416.71,417.51 L418.62,418.38 L420.55,419.22 L422.49,420.03 L424.44,420.80 L426.40,421.55 L428.37,422.28 L430.34,422.98 L432.32,423.66 L434.31,424.31 L436.31,424.95 L438.31,425.56 L440.32,426.16 L442.33,426.74 L444.35,427.30 L446.37,427.85 L448.40,428.38 L450.44,428.90 L452.47,429.41 L454.51,429.90 L456.56,430.38 L458.60,430.86 L460.65,431.32 L462.70,431.78 L464.76,432.23 L466.81,432.68 L468.86,433.12 L470.92,433.56 L472.98,433.99 L475.03,434.42 L477.09,434.85 L479.15,435.28 L481.21,435.70 L483.27,436.12 L485.33,436.54 L487.39,436.95 L489.45,437.36 L491.51,437.77 L493.57,438.17 L495.63,438.58 L497.69,438.98 L499.75,439.37 L501.82,439.77 L503.88,440.16 L505.95,440.55 L508.01,440.93 L510.08,441.32 L512.14,441.70 L514.21,442.07 L516.27,442.45 L518.34,442.82 L520.41,443.19 L522.48,443.56 L524.54,443.92 L526.61,444.28 L528.68,444.64 L530.75,445.00 L532.82,445.35 L534.89,445.70 L536.96,446.05 L539.03,446.40 L541.10,446.74 L543.18,447.08 L545.25,447.42 L547.32,447.75 L549.39,448.09 L551.47,448.42 L553.54,448.75 L555.62,449.07 L557.69,449.39 L559.77,449.71 L561.84,450.03 L563.92,450.35 L565.99,450.66 L568.07,450.97 L570.15,451.28 L572.22,451.59 L574.30,451.89 L576.38,452.19 L578.46,452.49 L580.53,452.78 L582.61,453.08 L584.69,453.37 L586.77,453.66 L588.85,453.95 L590.93,454.23 L593.01,454.51 L595.09,454.79 L597.18,455.07 L599.26,455.35 L601.34,455.62 L603.42,455.89 L605.50,456.16 L607.59,456.43 L609.67,456.69 L611.75,456.95 L613.84,457.22 L615.92,457.47 L618.00,457.73 L620.09,457.98 L622.17,458.23 L624.26,458.48 L626.34,458.73 L628.43,458.98 L630.51,459.22 L632.60,459.46 L634.69,459.70 L636.77,459.94 L638.86,460.17 L640.95,460.41 L643.03,460.64 L645.12,460.87 L647.21,461.09 L649.30,461.32 L651.38,461.54 L653.47,461.76 L655.56,461.98 L657.65,462.20 L659.74,462.41 L661.83,462.63 L663.92,462.84 L666.01,463.05 L668.10,463.26 L670.19,463.46 L672.28,463.67 L674.37,463.87 L676.46,464.07 L678.55,464.27 L680.64,464.47 L682.73,464.66 L684.82,464.85 L686.91,465.05 L689.01,465.24 L691.10,465.42 L693.19,465.61 L695.28,465.79 L697.37,465.98 L699.47,466.16 L701.56,466.34 L703.65,466.52 L705.74,466.69 L707.84,466.87 L709.93,467.04 L712.02,467.21 L714.12,467.38 L716.21,467.55 L718.30,467.72 L720.40,467.88 L722.49,468.04 L724.58,468.21 L726.68,468.37 L728.77,468.53 L730.87,468.68 L732.96,468.84 L735.06,468.99 L737.15,469.15 L739.24,469.30 L741.34,469.45 L743.43,469.60 L745.53,469.74 L747.62,469.89 L749.72,470.03 L751.81,470.18 L753.91,470.32 L756.00,470.46" stroke="#6AAEF0"/>
<path d="M76.04,119.95 L76.50,122.11 L76.99,124.23 L77.52,126.33 L78.09,128.40 L78.69,130.44 L79.32,132.47 L79.98,134.47 L80.66,136.46 L81.37,138.42 L82.11,140.38 L82.86,142.32 L83.63,144.25 L84.41,146.17 L85.21,148.08 L86.02,149.99 L86.84,151.89 L87.67,153.79 L88.50,155.70 L89.34,157.60 L90.17,159.51 L91.01,161.43 L91.84,163.35 L92.66,165.29 L93.48,167.24 L94.29,169.19 L95.08,171.17 L95.86,173.16 L96.62,175.17 L97.38,177.20 L98.13,179.23 L98.89,181.26 L99.66,183.29 L100.43,185.30 L101.23,187.31 L102.06,189.30 L102.91,191.26 L103.81,193.19 L104.74,195.09 L105.73,196.95 L106.77,198.76 L107.87,200.52 L109.03,202.22 L110.27,203.87 L111.58,205.45 L112.98,206.95 L114.46,208.38 L116.02,209.73 L117.66,211.00 L119.37,212.18 L121.14,213.27 L122.97,214.27 L124.86,215.16 L126.79,215.96 L128.77,216.66 L130.79,217.24 L132.84,217.71 L134.92,218.07 L137.02,218.31 L139.14,218.43 L141.27,218.44 L143.41,218.35 L145.56,218.17 L147.72,217.93 L149.87,217.64 L152.03,217.32 L154.18,216.98 L156.32,216.64 L158.45,216.30 L160.58,215.98 L162.70,215.68 L164.81,215.42 L166.92,215.20 L169.01,215.03 L171.10,214.93 L173.18,214.91 L175.25,214.96 L177.32,215.11 L179.37,215.35 L181.41,215.69 L183.44,216.13 L185.44,216.67 L187.42,217.31 L189.38,218.04 L191.31,218.84 L193.24,219.70 L195.16,220.59 L197.07,221.51 L198.98,222.42 L200.90,223.32 L202.83,224.19 L204.78,225.02 L206.72,225.82 L208.67,226.61 L210.62,227.41 L212.57,228.22 L214.50,229.06 L216.42,229.94 L218.32,230.85 L220.21,231.81 L222.09,232.78 L223.96,233.78 L225.82,234.80 L227.67,235.83 L229.51,236.87 L231.35,237.90 L233.18,238.94 L235.01,239.97 L236.85,240.99 L238.68,242.00 L240.52,243.00 L242.37,243.97 L244.23,244.93 L246.10,245.86 L247.98,246.76 L249.88,247.62 L251.80,248.46 L253.74,249.25 L255.70,250.00 L257.67,250.72 L259.67,251.40 L261.68,252.05 L263.70,252.68 L265.74,253.29 L267.78,253.88 L269.83,254.45 L271.88,255.02 L273.94,255.59 L275.99,256.16 L278.05,256.73 L280.09,257.31 L282.13,257.91 L284.17,258.52 L286.19,259.15 L288.19,259.81 L290.19,260.51 L292.16,261.23 L294.11,262.00 L296.04,262.81 L297.95,263.66 L299.83,264.57 L301.68,265.53 L303.51,266.53 L305.31,267.58 L307.09,268.68 L308.84,269.82 L310.56,271.00 L312.26,272.22 L313.94,273.48 L315.58,274.78 L317.21,276.12 L318.80,277.49 L320.37,278.90 L321.92,280.34 L323.44,281.81 L324.94,283.31 L326.41,284.84 L327.85,286.40 L329.27,287.98 L330.67,289.59 L332.04,291.22 L333.39,292.87 L334.71,294.55 L336.01,296.24 L337.28,297.95 L338.53,299.68 L339.75,301.42 L340.95,303.17 L342.13,304.94 L343.28,306.72 L344.41,308.50 L345.51,310.30 L346.60,312.11 L347.66,313.92 L348.70,315.75 L349.72,317.58 L350.72,319.42 L351.70,321.27 L352.66,323.13 L353.61,325.00 L354.54,326.87 L355.46,328.75 L356.36,330.64 L357.24,332.54 L358.12,334.44 L358.98,336.35 L359.83,338.27 L360.67,340.19 L361.50,342.12 L362.31,344.06 L363.13,346.00 L363.93,347.95 L364.72,349.90 L365.51,351.86 L366.30,353.82 L367.08,355.79 L367.85,357.77 L368.63,359.74 L369.40,361.73 L370.17,363.71 L370.94,365.70 L371.72,367.69 L372.50,369.67 L373.30,371.65 L374.10,373.62 L374.93,375.59 L375.77,377.54 L376.63,379.49 L377.51,381.42 L378.42,383.34 L379.35,385.23 L380.32,387.11 L381.32,388.97 L382.36,390.81 L383.43,392.62 L384.54,394.41 L385.70,396.17 L386.89,397.90 L388.12,399.60 L389.39,401.27 L390.70,402.91 L392.04,404.52 L393.42,406.09 L394.84,407.62 L396.30,409.12 L397.79,410.57 L399.32,411.99 L400.89,413.37 L402.49,414.70 L404.12,415.99 L405.79,417.24 L407.49,418.43 L409.23,419.59 L411.00,420.69 L412.80,421.74 L414.64,422.74 L416.51,423.69 L418.41,424.59 L420.33,425.44 L422.28,426.25 L424.25,427.02 L426.25,427.76 L428.26,428.46 L430.28,429.13 L432.32,429.77 L434.36,430.39 L436.42,430.99 L438.48,431.58 L440.54,432.14 L442.60,432.70 L444.66,433.25 L446.72,433.78 L448.78,434.30 L450.84,434.82 L452.91,435.32 L454.97,435.81 L457.03,436.30 L459.09,436.77 L461.16,437.24 L463.22,437.69 L465.29,438.14 L467.35,438.58 L469.41,439.01 L471.48,439.44 L473.55,439.86 L475.61,440.27 L477.68,440.67 L479.74,441.07 L481.81,441.46 L483.88,441.84 L485.95,442.22 L488.02,442.60 L490.08,442.97 L492.15,443.33 L494.22,443.69 L496.29,444.05 L498.36,444.40 L500.44,444.74 L502.51,445.09 L504.58,445.43 L506.65,445.77 L508.72,446.11 L510.80,446.44 L512.87,446.77 L514.95,447.10 L517.02,447.43 L519.10,447.76 L521.17,448.09 L523.25,448.41 L525.33,448.74 L527.41,449.07 L529.48,449.39 L531.56,449.72 L533.64,450.05 L535.72,450.38 L537.80,450.71 L539.88,451.04 L541.97,451.38 L544.05,451.71 L546.13,452.04 L548.22,452.38 L550.30,452.71 L552.38,453.05 L554.47,453.38 L556.56,453.71 L558.64,454.04 L560.73,454.38 L562.82,454.71 L564.90,455.03 L566.99,455.36 L569.08,455.69 L571.17,456.01 L573.26,456.33 L575.35,456.65 L577.44,456.97 L579.53,457.28 L581.62,457.59 L583.72,457.90 L585.81,458.20 L587.90,458.50 L589.99,458.79 L592.09,459.09 L594.18,459.37 L596.28,459.66 L598.37,459.93 L600.47,460.21 L602.56,460.47 L604.66,460.74 L606.75,460.99 L608.85,461.25 L610.95,461.49 L613.04,461.73 L615.14,461.97 L617.24,462.20 L619.34,462.43 L621.43,462.65 L623.53,462.87 L625.63,463.08 L627.73,463.29 L629.83,463.49 L631.93,463.69 L634.03,463.89 L636.13,464.08 L638.23,464.27 L640.33,464.46 L642.43,464.64 L644.53,464.82 L646.63,465.00 L648.73,465.17 L650.84,465.34 L652.94,465.51 L655.04,465.68 L657.14,465.84 L659.24,466.00 L661.35,466.16 L663.45,466.32 L665.55,466.47 L667.66,466.63 L669.76,466.78 L671.86,466.93 L673.96,467.08 L676.07,467.23 L678.17,467.38 L680.27,467.52 L682.38,467.67 L684.48,467.81 L686.59,467.96 L688.69,468.10 L690.79,468.25 L692.90,468.39 L695.00,468.54 L697.11,468.68 L699.21,468.83 L701.31,468.97 L703.42,469.12 L705.52,469.27 L707.63,469.42 L709.73,469.57 L711.83,469.72 L713.94,469.87 L716.04,470.02 L718.14,470.18 L720.25,470.33 L722.35,470.49 L724.46,470.65 L726.56,470.82 L728.66,470.98 L730.77,471.15 L732.87,471.32 L734.97,471.49 L737.08,471.67 L739.18,471.85 L741.28,472.03 L743.39,472.21 L745.49,472.40 L747.59,472.59 L749.69,472.79 L751.80,472.99 L753.90,473.19 L756.00,473.40" stroke="#FF4A14"/>
<path d="M76.02,137.95 L76.56,140.07 L77.10,142.17 L77.65,144.25 L78.22,146.32 L78.79,148.37 L79.38,150.40 L79.97,152.43 L80.58,154.43 L81.19,156.43 L81.81,158.42 L82.45,160.40 L83.09,162.37 L83.75,164.33 L84.41,166.28 L85.09,168.23 L85.77,170.18 L86.46,172.12 L87.16,174.06 L87.88,176.00 L88.60,177.93 L89.33,179.87 L90.07,181.81 L90.82,183.75 L91.58,185.70 L92.34,187.65 L93.12,189.61 L93.91,191.57 L94.70,193.54 L95.50,195.52 L96.32,197.51 L97.14,199.51 L97.97,201.51 L98.82,203.52 L99.68,205.53 L100.57,207.53 L101.49,209.51 L102.44,211.46 L103.42,213.39 L104.44,215.29 L105.51,217.14 L106.63,218.94 L107.79,220.70 L109.02,222.39 L110.30,224.02 L111.65,225.57 L113.07,227.05 L114.57,228.44 L116.13,229.74 L117.78,230.95 L119.49,232.08 L121.27,233.11 L123.10,234.06 L124.99,234.92 L126.92,235.70 L128.90,236.40 L130.91,237.02 L132.96,237.56 L135.03,238.02 L137.12,238.41 L139.23,238.73 L141.35,238.97 L143.47,239.15 L145.60,239.25 L147.73,239.29 L149.86,239.26 L151.99,239.16 L154.11,239.00 L156.23,238.78 L158.34,238.49 L160.44,238.14 L162.53,237.74 L164.61,237.31 L166.68,236.86 L168.73,236.43 L170.78,236.03 L172.81,235.70 L174.83,235.44 L176.83,235.30 L178.83,235.29 L180.81,235.43 L182.77,235.74 L184.73,236.21 L186.68,236.80 L188.62,237.50 L190.57,238.26 L192.52,239.07 L194.47,239.89 L196.44,240.70 L198.42,241.48 L200.40,242.24 L202.40,242.97 L204.40,243.69 L206.40,244.40 L208.40,245.09 L210.40,245.77 L212.40,246.45 L214.39,247.13 L216.37,247.82 L218.34,248.51 L220.31,249.20 L222.27,249.91 L224.22,250.64 L226.18,251.38 L228.13,252.14 L230.09,252.93 L232.05,253.73 L234.01,254.55 L235.97,255.36 L237.94,256.17 L239.91,256.97 L241.88,257.75 L243.87,258.50 L245.85,259.22 L247.85,259.90 L249.85,260.53 L251.87,261.11 L253.89,261.63 L255.92,262.08 L257.96,262.48 L260.01,262.83 L262.06,263.14 L264.13,263.42 L266.19,263.68 L268.26,263.93 L270.34,264.18 L272.41,264.44 L274.49,264.71 L276.57,265.01 L278.65,265.35 L280.72,265.73 L282.79,266.15 L284.85,266.62 L286.91,267.14 L288.95,267.71 L290.97,268.32 L292.97,268.99 L294.96,269.71 L296.91,270.48 L298.84,271.31 L300.74,272.19 L302.61,273.11 L304.45,274.09 L306.27,275.12 L308.05,276.19 L309.81,277.31 L311.54,278.48 L313.24,279.68 L314.92,280.93 L316.56,282.22 L318.18,283.54 L319.77,284.90 L321.34,286.30 L322.87,287.73 L324.38,289.20 L325.86,290.69 L327.32,292.22 L328.75,293.78 L330.15,295.36 L331.53,296.97 L332.88,298.60 L334.21,300.25 L335.50,301.93 L336.78,303.63 L338.02,305.34 L339.25,307.08 L340.44,308.83 L341.61,310.59 L342.76,312.37 L343.88,314.15 L344.98,315.95 L346.05,317.76 L347.10,319.58 L348.13,321.41 L349.14,323.25 L350.13,325.10 L351.10,326.95 L352.05,328.81 L352.99,330.68 L353.91,332.56 L354.82,334.45 L355.71,336.34 L356.59,338.24 L357.46,340.14 L358.32,342.05 L359.17,343.96 L360.00,345.88 L360.84,347.80 L361.66,349.73 L362.48,351.66 L363.30,353.59 L364.11,355.52 L364.91,357.46 L365.72,359.40 L366.53,361.34 L367.33,363.28 L368.14,365.22 L368.95,367.17 L369.76,369.11 L370.58,371.05 L371.40,372.99 L372.23,374.93 L373.06,376.87 L373.90,378.81 L374.76,380.75 L375.62,382.68 L376.49,384.61 L377.38,386.53 L378.28,388.45 L379.19,390.37 L380.12,392.29 L381.06,394.19 L382.02,396.09 L383.01,397.98 L384.02,399.85 L385.06,401.70 L386.12,403.52 L387.22,405.32 L388.35,407.09 L389.53,408.83 L390.74,410.53 L392.00,412.18 L393.30,413.80 L394.65,415.36 L396.05,416.87 L397.51,418.33 L399.02,419.73 L400.60,421.07 L402.23,422.34 L403.93,423.54 L405.70,424.67 L407.53,425.73 L409.41,426.72 L411.33,427.67 L413.28,428.57 L415.24,429.44 L417.20,430.28 L419.17,431.10 L421.14,431.89 L423.12,432.65 L425.10,433.40 L427.08,434.12 L429.07,434.82 L431.06,435.49 L433.06,436.15 L435.06,436.79 L437.06,437.41 L439.07,438.01 L441.08,438.60 L443.10,439.17 L445.12,439.72 L447.15,440.26 L449.17,440.78 L451.21,441.29 L453.24,441.79 L455.28,442.27 L457.32,442.74 L459.37,443.20 L461.41,443.64 L463.47,444.08 L465.52,444.50 L467.58,444.91 L469.64,445.31 L471.70,445.70 L473.76,446.08 L475.83,446.45 L477.90,446.81 L479.97,447.17 L482.04,447.51 L484.12,447.85 L486.20,448.19 L488.27,448.51 L490.35,448.83 L492.43,449.14 L494.52,449.45 L496.60,449.76 L498.69,450.06 L500.77,450.35 L502.86,450.64 L504.95,450.93 L507.04,451.22 L509.12,451.50 L511.21,451.78 L513.30,452.07 L515.39,452.35 L517.48,452.62 L519.57,452.90 L521.66,453.18 L523.75,453.46 L525.84,453.75 L527.93,454.03 L530.02,454.31 L532.11,454.60 L534.20,454.89 L536.28,455.19 L538.37,455.49 L540.45,455.79 L542.54,456.09 L544.62,456.40 L546.71,456.71 L548.79,457.02 L550.87,457.33 L552.95,457.64 L555.03,457.95 L557.11,458.27 L559.19,458.58 L561.27,458.90 L563.35,459.21 L565.43,459.53 L567.51,459.84 L569.59,460.16 L571.67,460.47 L573.75,460.78 L575.83,461.08 L577.91,461.39 L579.99,461.69 L582.07,461.99 L584.15,462.28 L586.23,462.58 L588.31,462.86 L590.39,463.15 L592.47,463.43 L594.55,463.70 L596.64,463.97 L598.72,464.24 L600.80,464.50 L602.89,464.75 L604.98,465.00 L607.06,465.23 L609.15,465.47 L611.24,465.70 L613.33,465.92 L615.42,466.13 L617.51,466.34 L619.60,466.54 L621.70,466.74 L623.79,466.94 L625.88,467.12 L627.98,467.31 L630.07,467.49 L632.17,467.66 L634.26,467.83 L636.36,468.00 L638.46,468.16 L640.56,468.32 L642.65,468.47 L644.75,468.62 L646.85,468.77 L648.95,468.91 L651.05,469.05 L653.15,469.19 L655.25,469.33 L657.35,469.46 L659.46,469.59 L661.56,469.72 L663.66,469.85 L665.76,469.98 L667.86,470.10 L669.97,470.23 L672.07,470.35 L674.17,470.47 L676.27,470.59 L678.38,470.71 L680.48,470.83 L682.58,470.95 L684.68,471.07 L686.79,471.18 L688.89,471.30 L690.99,471.42 L693.09,471.54 L695.20,471.66 L697.30,471.79 L699.40,471.91 L701.50,472.03 L703.60,472.16 L705.71,472.29 L707.81,472.42 L709.91,472.55 L712.01,472.68 L714.11,472.82 L716.21,472.95 L718.31,473.10 L720.41,473.24 L722.50,473.39 L724.60,473.54 L726.70,473.69 L728.80,473.85 L730.89,474.01 L732.99,474.17 L735.08,474.34 L737.18,474.52 L739.27,474.69 L741.37,474.88 L743.46,475.06 L745.55,475.26 L747.64,475.45 L749.73,475.66 L751.82,475.87 L753.91,476.08 L756.00,476.30" stroke="#8C9420"/>
<path d="M76.02,148.96 L76.50,151.09 L76.99,153.20 L77.50,155.30 L78.01,157.38 L78.54,159.45 L79.08,161.50 L79.62,163.54 L80.18,165.57 L80.75,167.59 L81.33,169.60 L81.92,171.60 L82.52,173.59 L83.14,175.57 L83.76,177.55 L84.39,179.52 L85.03,181.49 L85.68,183.45 L86.35,185.41 L87.02,187.37 L87.70,189.33 L88.39,191.29 L89.09,193.24 L89.80,195.20 L90.52,197.16 L91.25,199.13 L91.99,201.09 L92.74,203.07 L93.50,205.05 L94.26,207.03 L95.04,209.02 L95.82,211.02 L96.62,213.03 L97.43,215.04 L98.25,217.04 L99.09,219.04 L99.96,221.04 L100.85,223.01 L101.76,224.98 L102.70,226.92 L103.68,228.84 L104.69,230.73 L105.73,232.59 L106.82,234.42 L107.94,236.21 L109.11,237.96 L110.33,239.66 L111.59,241.31 L112.91,242.92 L114.28,244.46 L115.71,245.95 L117.19,247.37 L118.74,248.73 L120.36,250.01 L122.04,251.22 L123.78,252.36 L125.59,253.41 L127.45,254.37 L129.36,255.23 L131.32,255.99 L133.31,256.64 L135.34,257.18 L137.40,257.61 L139.48,257.91 L141.58,258.10 L143.70,258.20 L145.83,258.22 L147.96,258.16 L150.10,258.04 L152.24,257.86 L154.38,257.65 L156.51,257.41 L158.63,257.16 L160.75,256.89 L162.87,256.63 L164.97,256.39 L167.07,256.16 L169.16,255.97 L171.25,255.83 L173.33,255.74 L175.41,255.71 L177.47,255.76 L179.54,255.89 L181.59,256.08 L183.64,256.33 L185.69,256.64 L187.74,256.99 L189.78,257.39 L191.82,257.82 L193.86,258.28 L195.90,258.77 L197.94,259.27 L199.98,259.78 L202.02,260.29 L204.07,260.81 L206.11,261.34 L208.15,261.87 L210.19,262.42 L212.23,262.98 L214.26,263.54 L216.29,264.13 L218.32,264.72 L220.35,265.32 L222.37,265.92 L224.39,266.53 L226.41,267.14 L228.44,267.75 L230.46,268.35 L232.49,268.93 L234.52,269.50 L236.55,270.04 L238.60,270.55 L240.64,271.03 L242.70,271.46 L244.76,271.84 L246.82,272.19 L248.90,272.50 L250.97,272.78 L253.06,273.02 L255.14,273.24 L257.24,273.43 L259.33,273.59 L261.43,273.74 L263.53,273.86 L265.63,273.96 L267.73,274.06 L269.84,274.13 L271.94,274.21 L274.05,274.28 L276.15,274.36 L278.25,274.46 L280.34,274.59 L282.44,274.76 L284.52,274.99 L286.60,275.27 L288.67,275.63 L290.73,276.07 L292.78,276.59 L294.81,277.18 L296.82,277.86 L298.80,278.60 L300.76,279.42 L302.69,280.30 L304.59,281.25 L306.44,282.26 L308.26,283.33 L310.03,284.46 L311.76,285.64 L313.45,286.87 L315.11,288.15 L316.73,289.48 L318.31,290.85 L319.86,292.26 L321.38,293.70 L322.87,295.19 L324.33,296.70 L325.77,298.24 L327.18,299.81 L328.58,301.40 L329.95,303.02 L331.30,304.65 L332.63,306.29 L333.95,307.95 L335.25,309.62 L336.54,311.30 L337.82,312.98 L339.08,314.68 L340.33,316.38 L341.56,318.10 L342.78,319.82 L343.98,321.56 L345.17,323.30 L346.34,325.05 L347.49,326.82 L348.63,328.59 L349.75,330.37 L350.85,332.17 L351.94,333.97 L353.01,335.78 L354.06,337.60 L355.09,339.44 L356.10,341.28 L357.10,343.13 L358.07,345.00 L359.03,346.87 L359.97,348.76 L360.88,350.65 L361.78,352.56 L362.66,354.47 L363.51,356.40 L364.35,358.34 L365.16,360.29 L365.95,362.25 L366.73,364.22 L367.48,366.19 L368.23,368.18 L368.96,370.16 L369.69,372.16 L370.41,374.15 L371.12,376.15 L371.84,378.14 L372.55,380.13 L373.27,382.13 L374.00,384.11 L374.74,386.09 L375.48,388.06 L376.25,390.03 L377.02,391.98 L377.82,393.93 L378.64,395.86 L379.49,397.77 L380.36,399.67 L381.26,401.56 L382.19,403.42 L383.16,405.27 L384.16,407.10 L385.20,408.90 L386.29,410.68 L387.42,412.43 L388.60,414.16 L389.82,415.85 L391.10,417.51 L392.43,419.12 L393.81,420.68 L395.25,422.19 L396.75,423.64 L398.30,425.03 L399.89,426.36 L401.54,427.64 L403.23,428.86 L404.96,430.04 L406.74,431.16 L408.54,432.23 L410.38,433.26 L412.25,434.24 L414.15,435.18 L416.07,436.08 L418.01,436.94 L419.97,437.75 L421.94,438.53 L423.93,439.28 L425.93,439.99 L427.93,440.66 L429.94,441.31 L431.95,441.93 L433.97,442.52 L436.00,443.08 L438.04,443.62 L440.07,444.13 L442.12,444.62 L444.17,445.09 L446.22,445.55 L448.28,445.98 L450.34,446.40 L452.40,446.80 L454.47,447.19 L456.54,447.57 L458.61,447.94 L460.68,448.30 L462.76,448.65 L464.83,449.00 L466.91,449.34 L468.99,449.69 L471.07,450.02 L473.14,450.36 L475.22,450.70 L477.30,451.04 L479.38,451.38 L481.46,451.71 L483.54,452.05 L485.62,452.39 L487.70,452.72 L489.78,453.06 L491.86,453.39 L493.95,453.72 L496.03,454.05 L498.11,454.38 L500.19,454.71 L502.27,455.04 L504.35,455.36 L506.44,455.69 L508.52,456.01 L510.60,456.34 L512.69,456.66 L514.77,456.98 L516.85,457.30 L518.94,457.61 L521.02,457.93 L523.11,458.24 L525.19,458.55 L527.28,458.86 L529.36,459.17 L531.45,459.47 L533.53,459.78 L535.62,460.08 L537.71,460.38 L539.79,460.68 L541.88,460.97 L543.97,461.27 L546.06,461.56 L548.14,461.85 L550.23,462.13 L552.32,462.42 L554.41,462.70 L556.50,462.98 L558.59,463.25 L560.68,463.53 L562.77,463.80 L564.86,464.07 L566.95,464.33 L569.04,464.59 L571.13,464.85 L573.22,465.11 L575.31,465.36 L577.40,465.61 L579.50,465.86 L581.59,466.11 L583.68,466.35 L585.77,466.58 L587.87,466.82 L589.96,467.05 L592.06,467.28 L594.15,467.50 L596.25,467.72 L598.34,467.94 L600.44,468.15 L602.53,468.36 L604.63,468.56 L606.72,468.77 L608.82,468.96 L610.92,469.16 L613.02,469.35 L615.11,469.54 L617.21,469.72 L619.31,469.90 L621.41,470.08 L623.51,470.25 L625.61,470.42 L627.71,470.59 L629.81,470.75 L631.91,470.91 L634.01,471.07 L636.11,471.23 L638.21,471.38 L640.31,471.53 L642.41,471.68 L644.51,471.82 L646.61,471.97 L648.71,472.11 L650.82,472.25 L652.92,472.38 L655.02,472.52 L657.12,472.65 L659.23,472.78 L661.33,472.91 L663.43,473.04 L665.53,473.17 L667.64,473.29 L669.74,473.41 L671.84,473.53 L673.95,473.66 L676.05,473.77 L678.16,473.89 L680.26,474.01 L682.36,474.12 L684.47,474.24 L686.57,474.35 L688.68,474.47 L690.78,474.58 L692.88,474.69 L694.99,474.80 L697.09,474.92 L699.20,475.03 L701.30,475.14 L703.41,475.25 L705.51,475.36 L707.62,475.47 L709.72,475.58 L711.82,475.69 L713.93,475.80 L716.03,475.91 L718.14,476.02 L720.24,476.13 L722.35,476.25 L724.45,476.36 L726.55,476.47 L728.66,476.59 L730.76,476.70 L732.87,476.82 L734.97,476.94 L737.07,477.06 L739.18,477.18 L741.28,477.30 L743.38,477.42 L745.49,477.54 L747.59,477.67 L749.69,477.80 L751.80,477.93 L753.90,478.06 L756.00,478.19" stroke="#6E3A4A"/>
<path d="M76.00,160.50 L76.38,162.55 L76.81,164.59 L77.27,166.63 L77.76,168.67 L78.28,170.71 L78.84,172.75 L79.42,174.79 L80.03,176.82 L80.66,178.86 L81.31,180.89 L81.98,182.92 L82.66,184.95 L83.36,186.97 L84.07,189.00 L84.79,191.01 L85.51,193.03 L86.24,195.04 L86.98,197.05 L87.71,199.06 L88.44,201.06 L89.17,203.05 L89.89,205.04 L90.60,207.03 L91.30,209.01 L91.99,210.99 L92.66,212.96 L93.31,214.92 L93.95,216.88 L94.58,218.83 L95.21,220.79 L95.84,222.73 L96.48,224.68 L97.13,226.63 L97.80,228.57 L98.50,230.52 L99.23,232.47 L99.99,234.42 L100.79,236.37 L101.64,238.33 L102.54,240.30 L103.49,242.26 L104.50,244.22 L105.56,246.16 L106.67,248.09 L107.83,249.99 L109.04,251.85 L110.31,253.67 L111.63,255.44 L112.99,257.16 L114.41,258.81 L115.88,260.40 L117.40,261.91 L118.96,263.34 L120.58,264.68 L122.25,265.92 L123.96,267.05 L125.72,268.08 L127.53,268.99 L129.39,269.78 L131.29,270.44 L133.23,270.99 L135.21,271.44 L137.23,271.79 L139.28,272.04 L141.35,272.21 L143.45,272.30 L145.57,272.33 L147.71,272.29 L149.86,272.19 L152.02,272.05 L154.19,271.87 L156.36,271.66 L158.53,271.42 L160.70,271.16 L162.86,270.89 L165.01,270.61 L167.15,270.34 L169.27,270.08 L171.37,269.84 L173.45,269.63 L175.49,269.44 L177.51,269.30 L179.51,269.24 L181.49,269.28 L183.47,269.47 L185.46,269.78 L187.45,270.18 L189.46,270.64 L191.47,271.12 L193.51,271.61 L195.56,272.06 L197.64,272.47 L199.73,272.82 L201.84,273.14 L203.96,273.44 L206.08,273.72 L208.20,274.01 L210.32,274.30 L212.43,274.61 L214.54,274.95 L216.62,275.33 L218.69,275.74 L220.76,276.18 L222.81,276.64 L224.86,277.12 L226.91,277.59 L228.96,278.06 L231.01,278.52 L233.07,278.95 L235.14,279.36 L237.23,279.73 L239.32,280.06 L241.42,280.36 L243.52,280.61 L245.63,280.83 L247.74,281.01 L249.86,281.14 L251.97,281.23 L254.08,281.27 L256.19,281.27 L258.29,281.23 L260.39,281.15 L262.49,281.05 L264.60,280.93 L266.70,280.80 L268.80,280.65 L270.91,280.51 L273.02,280.37 L275.14,280.24 L277.26,280.12 L279.39,280.04 L281.52,279.98 L283.66,279.95 L285.80,279.98 L287.93,280.07 L290.05,280.22 L292.15,280.45 L294.23,280.78 L296.28,281.19 L298.30,281.72 L300.29,282.37 L302.24,283.12 L304.15,283.97 L306.02,284.91 L307.86,285.94 L309.67,287.04 L311.44,288.20 L313.18,289.43 L314.89,290.70 L316.57,292.01 L318.21,293.36 L319.82,294.73 L321.41,296.14 L322.97,297.58 L324.49,299.05 L325.99,300.54 L327.46,302.06 L328.91,303.61 L330.32,305.18 L331.71,306.77 L333.08,308.39 L334.42,310.02 L335.74,311.68 L337.03,313.36 L338.30,315.05 L339.55,316.76 L340.78,318.49 L341.98,320.23 L343.16,321.98 L344.33,323.75 L345.47,325.53 L346.59,327.32 L347.70,329.12 L348.78,330.93 L349.85,332.75 L350.90,334.58 L351.93,336.43 L352.94,338.28 L353.94,340.14 L354.92,342.01 L355.88,343.89 L356.83,345.78 L357.76,347.68 L358.67,349.58 L359.57,351.49 L360.45,353.41 L361.32,355.34 L362.18,357.27 L363.02,359.21 L363.85,361.16 L364.66,363.11 L365.47,365.07 L366.26,367.04 L367.03,369.00 L367.80,370.98 L368.55,372.96 L369.29,374.94 L370.02,376.92 L370.74,378.91 L371.45,380.91 L372.15,382.90 L372.84,384.90 L373.53,386.90 L374.20,388.91 L374.88,390.91 L375.57,392.90 L376.27,394.89 L376.99,396.86 L377.73,398.83 L378.50,400.78 L379.30,402.71 L380.15,404.62 L381.04,406.51 L381.98,408.38 L382.98,410.21 L384.05,412.02 L385.17,413.80 L386.34,415.55 L387.55,417.29 L388.80,418.99 L390.09,420.67 L391.42,422.31 L392.80,423.90 L394.23,425.44 L395.71,426.93 L397.25,428.35 L398.83,429.72 L400.47,431.03 L402.15,432.28 L403.88,433.48 L405.64,434.62 L407.44,435.72 L409.27,436.77 L411.14,437.77 L413.03,438.72 L414.95,439.64 L416.89,440.51 L418.85,441.34 L420.83,442.13 L422.81,442.89 L424.81,443.61 L426.82,444.30 L428.83,444.96 L430.85,445.59 L432.88,446.19 L434.91,446.76 L436.95,447.31 L438.99,447.83 L441.04,448.33 L443.09,448.81 L445.15,449.27 L447.21,449.71 L449.28,450.13 L451.34,450.54 L453.42,450.94 L455.49,451.32 L457.57,451.69 L459.65,452.05 L461.73,452.40 L463.81,452.75 L465.89,453.08 L467.98,453.42 L470.06,453.75 L472.15,454.08 L474.24,454.41 L476.32,454.74 L478.41,455.07 L480.50,455.39 L482.59,455.72 L484.67,456.04 L486.76,456.36 L488.85,456.68 L490.94,457.00 L493.03,457.31 L495.12,457.63 L497.21,457.94 L499.30,458.25 L501.39,458.56 L503.48,458.87 L505.58,459.17 L507.67,459.48 L509.76,459.78 L511.85,460.08 L513.95,460.38 L516.04,460.67 L518.13,460.97 L520.23,461.26 L522.32,461.55 L524.41,461.84 L526.51,462.13 L528.60,462.41 L530.70,462.70 L532.79,462.98 L534.89,463.25 L536.99,463.53 L539.08,463.80 L541.18,464.07 L543.28,464.34 L545.37,464.61 L547.47,464.88 L549.57,465.14 L551.67,465.40 L553.77,465.66 L555.87,465.91 L557.96,466.16 L560.06,466.41 L562.16,466.66 L564.26,466.91 L566.36,467.15 L568.46,467.39 L570.56,467.63 L572.66,467.86 L574.77,468.09 L576.87,468.32 L578.97,468.55 L581.07,468.77 L583.17,468.99 L585.27,469.21 L587.38,469.42 L589.48,469.64 L591.58,469.85 L593.69,470.05 L595.79,470.26 L597.89,470.46 L600.00,470.65 L602.10,470.85 L604.20,471.04 L606.31,471.23 L608.41,471.41 L610.52,471.59 L612.62,471.77 L614.73,471.95 L616.83,472.12 L618.94,472.29 L621.05,472.46 L623.15,472.63 L625.26,472.79 L627.36,472.95 L629.47,473.11 L631.58,473.27 L633.68,473.42 L635.79,473.57 L637.90,473.72 L640.01,473.87 L642.11,474.01 L644.22,474.16 L646.33,474.30 L648.44,474.44 L650.54,474.58 L652.65,474.72 L654.76,474.85 L656.87,474.99 L658.98,475.12 L661.08,475.25 L663.19,475.38 L665.30,475.51 L667.41,475.64 L669.52,475.77 L671.63,475.90 L673.74,476.02 L675.85,476.15 L677.95,476.27 L680.06,476.40 L682.17,476.52 L684.28,476.64 L686.39,476.76 L688.50,476.89 L690.61,477.01 L692.72,477.13 L694.83,477.25 L696.94,477.38 L699.05,477.50 L701.16,477.62 L703.27,477.74 L705.38,477.86 L707.49,477.99 L709.60,478.11 L711.71,478.24 L713.82,478.36 L715.93,478.49 L718.04,478.61 L720.14,478.74 L722.25,478.87 L724.36,478.99 L726.47,479.12 L728.58,479.25 L730.69,479.39 L732.80,479.52 L734.91,479.65 L737.02,479.79 L739.13,479.93 L741.24,480.07 L743.35,480.21 L745.46,480.35 L747.57,480.49 L749.68,480.64 L751.78,480.79 L753.89,480.94 L756.00,481.09" stroke="#45E0C0"/>
<path d="M75.91,170.21 L76.44,172.30 L76.96,174.39 L77.49,176.47 L78.02,178.54 L78.54,180.62 L79.07,182.68 L79.60,184.75 L80.13,186.81 L80.67,188.86 L81.21,190.91 L81.75,192.96 L82.29,195.00 L82.85,197.04 L83.40,199.07 L83.96,201.10 L84.53,203.13 L85.11,205.16 L85.70,207.18 L86.29,209.19 L86.89,211.21 L87.50,213.22 L88.12,215.23 L88.76,217.23 L89.40,219.24 L90.06,221.24 L90.72,223.24 L91.40,225.23 L92.10,227.23 L92.81,229.22 L93.53,231.21 L94.27,233.20 L95.02,235.18 L95.80,237.17 L96.58,239.15 L97.39,241.13 L98.21,243.11 L99.06,245.09 L99.92,247.07 L100.80,249.05 L101.70,251.03 L102.62,253.00 L103.57,254.97 L104.54,256.94 L105.54,258.88 L106.57,260.81 L107.63,262.71 L108.73,264.58 L109.87,266.42 L111.05,268.21 L112.28,269.95 L113.55,271.64 L114.87,273.28 L116.25,274.84 L117.68,276.34 L119.16,277.76 L120.71,279.10 L122.32,280.36 L124.00,281.52 L125.75,282.58 L127.56,283.54 L129.45,284.40 L131.41,285.14 L133.43,285.78 L135.50,286.32 L137.61,286.76 L139.76,287.09 L141.93,287.34 L144.13,287.48 L146.34,287.54 L148.55,287.50 L150.76,287.38 L152.95,287.17 L155.13,286.87 L157.28,286.50 L159.40,286.05 L161.49,285.56 L163.56,285.04 L165.62,284.51 L167.66,284.00 L169.69,283.53 L171.73,283.12 L173.76,282.79 L175.80,282.57 L177.85,282.48 L179.92,282.50 L181.99,282.61 L184.07,282.81 L186.16,283.08 L188.26,283.39 L190.36,283.73 L192.47,284.09 L194.58,284.44 L196.70,284.77 L198.82,285.07 L200.94,285.32 L203.06,285.49 L205.18,285.60 L207.30,285.66 L209.42,285.69 L211.53,285.71 L213.65,285.74 L215.76,285.80 L217.87,285.91 L219.98,286.09 L222.09,286.33 L224.19,286.59 L226.30,286.87 L228.40,287.13 L230.51,287.34 L232.62,287.48 L234.72,287.52 L236.84,287.46 L238.95,287.34 L241.07,287.18 L243.19,287.03 L245.31,286.93 L247.43,286.91 L249.55,287.00 L251.67,287.15 L253.78,287.30 L255.88,287.41 L257.96,287.42 L260.03,287.27 L262.08,286.93 L264.12,286.44 L266.15,285.86 L268.19,285.26 L270.24,284.68 L272.32,284.20 L274.41,283.80 L276.52,283.49 L278.64,283.26 L280.77,283.12 L282.90,283.07 L285.03,283.10 L287.16,283.22 L289.29,283.42 L291.40,283.70 L293.50,284.06 L295.58,284.50 L297.64,285.01 L299.68,285.61 L301.69,286.28 L303.66,287.03 L305.60,287.85 L307.51,288.74 L309.37,289.71 L311.19,290.75 L312.97,291.85 L314.71,293.01 L316.41,294.24 L318.07,295.52 L319.70,296.86 L321.30,298.25 L322.86,299.68 L324.39,301.16 L325.89,302.69 L327.36,304.25 L328.79,305.84 L330.20,307.47 L331.58,309.13 L332.94,310.82 L334.27,312.53 L335.58,314.26 L336.86,316.01 L338.12,317.77 L339.36,319.55 L340.58,321.33 L341.78,323.12 L342.96,324.92 L344.13,326.73 L345.27,328.54 L346.39,330.36 L347.50,332.19 L348.59,334.03 L349.66,335.87 L350.72,337.72 L351.75,339.57 L352.77,341.43 L353.77,343.30 L354.76,345.18 L355.73,347.06 L356.68,348.95 L357.62,350.84 L358.54,352.74 L359.45,354.65 L360.34,356.56 L361.22,358.48 L362.08,360.40 L362.93,362.33 L363.76,364.27 L364.59,366.21 L365.39,368.16 L366.19,370.11 L366.97,372.07 L367.73,374.03 L368.49,376.00 L369.23,377.97 L369.96,379.95 L370.68,381.94 L371.38,383.92 L372.08,385.92 L372.77,387.91 L373.45,389.91 L374.13,391.91 L374.81,393.91 L375.51,395.91 L376.21,397.91 L376.94,399.90 L377.68,401.89 L378.45,403.87 L379.25,405.84 L380.09,407.80 L380.97,409.75 L381.88,411.68 L382.85,413.61 L383.86,415.51 L384.93,417.39 L386.04,419.24 L387.21,421.05 L388.43,422.82 L389.70,424.55 L391.02,426.23 L392.40,427.85 L393.84,429.41 L395.33,430.90 L396.88,432.32 L398.48,433.67 L400.13,434.96 L401.83,436.18 L403.58,437.35 L405.36,438.45 L407.19,439.51 L409.04,440.51 L410.93,441.46 L412.85,442.36 L414.79,443.23 L416.76,444.05 L418.74,444.83 L420.75,445.58 L422.76,446.29 L424.78,446.98 L426.81,447.64 L428.85,448.27 L430.89,448.88 L432.94,449.46 L434.99,450.02 L437.05,450.56 L439.11,451.08 L441.17,451.58 L443.24,452.06 L445.32,452.52 L447.40,452.97 L449.48,453.40 L451.56,453.82 L453.65,454.22 L455.74,454.62 L457.83,455.00 L459.92,455.37 L462.02,455.74 L464.12,456.09 L466.21,456.44 L468.31,456.79 L470.41,457.13 L472.51,457.46 L474.61,457.79 L476.71,458.12 L478.82,458.45 L480.92,458.77 L483.02,459.09 L485.12,459.41 L487.22,459.72 L489.33,460.03 L491.43,460.33 L493.53,460.64 L495.64,460.94 L497.74,461.23 L499.85,461.53 L501.95,461.82 L504.06,462.10 L506.16,462.39 L508.27,462.67 L510.38,462.94 L512.48,463.22 L514.59,463.49 L516.70,463.76 L518.81,464.03 L520.91,464.29 L523.02,464.55 L525.13,464.81 L527.24,465.06 L529.35,465.32 L531.46,465.57 L533.57,465.81 L535.68,466.06 L537.79,466.30 L539.90,466.54 L542.01,466.78 L544.12,467.01 L546.24,467.24 L548.35,467.47 L550.46,467.70 L552.57,467.92 L554.69,468.15 L556.80,468.37 L558.91,468.58 L561.02,468.80 L563.14,469.01 L565.25,469.22 L567.37,469.43 L569.48,469.64 L571.60,469.84 L573.71,470.05 L575.83,470.25 L577.94,470.44 L580.06,470.64 L582.17,470.84 L584.29,471.03 L586.40,471.22 L588.52,471.41 L590.64,471.59 L592.75,471.78 L594.87,471.96 L596.99,472.14 L599.11,472.32 L601.22,472.50 L603.34,472.68 L605.46,472.85 L607.58,473.03 L609.69,473.20 L611.81,473.37 L613.93,473.54 L616.05,473.71 L618.17,473.87 L620.29,474.04 L622.41,474.20 L624.52,474.36 L626.64,474.52 L628.76,474.68 L630.88,474.84 L633.00,474.99 L635.12,475.15 L637.24,475.30 L639.36,475.46 L641.48,475.61 L643.60,475.76 L645.72,475.91 L647.84,476.06 L649.96,476.21 L652.08,476.35 L654.20,476.50 L656.32,476.64 L658.44,476.79 L660.57,476.93 L662.69,477.07 L664.81,477.22 L666.93,477.36 L669.05,477.50 L671.17,477.64 L673.29,477.77 L675.41,477.91 L677.53,478.05 L679.65,478.19 L681.78,478.32 L683.90,478.46 L686.02,478.60 L688.14,478.73 L690.26,478.87 L692.38,479.00 L694.50,479.13 L696.62,479.27 L698.75,479.40 L700.87,479.53 L702.99,479.67 L705.11,479.80 L707.23,479.93 L709.35,480.06 L711.47,480.20 L713.59,480.33 L715.72,480.46 L717.84,480.59 L719.96,480.72 L722.08,480.86 L724.20,480.99 L726.32,481.12 L728.44,481.25 L730.56,481.38 L732.68,481.52 L734.80,481.65 L736.92,481.78 L739.04,481.92 L741.16,482.05 L743.29,482.18 L745.41,482.32 L747.53,482.45 L749.65,482.59 L751.77,482.72 L753.89,482.86 L756.01,483.00" stroke="#D09A20"/>
<path d="M75.82,184.99 L76.49,187.06 L77.17,189.13 L77.83,191.19 L78.49,193.24 L79.15,195.29 L79.80,197.33 L80.45,199.36 L81.10,201.39 L81.74,203.42 L82.39,205.44 L83.03,207.45 L83.67,209.47 L84.31,211.48 L84.95,213.48 L85.59,215.48 L86.23,217.49 L86.87,219.48 L87.52,221.48 L88.17,223.48 L88.82,225.47 L89.47,227.47 L90.13,229.46 L90.79,231.46 L91.46,233.45 L92.13,235.45 L92.81,237.45 L93.50,239.45 L94.19,241.45 L94.89,243.45 L95.59,245.46 L96.31,247.47 L97.03,249.48 L97.76,251.50 L98.51,253.52 L99.26,255.55 L100.02,257.58 L100.79,259.62 L101.58,261.66 L102.38,263.71 L103.19,265.76 L104.02,267.81 L104.87,269.85 L105.75,271.87 L106.65,273.88 L107.58,275.86 L108.55,277.81 L109.56,279.73 L110.61,281.61 L111.71,283.44 L112.85,285.21 L114.05,286.93 L115.30,288.59 L116.61,290.18 L117.98,291.69 L119.42,293.13 L120.92,294.48 L122.50,295.74 L124.16,296.91 L125.89,297.97 L127.71,298.93 L129.61,299.78 L131.58,300.52 L133.62,301.15 L135.72,301.68 L137.86,302.11 L140.04,302.44 L142.25,302.67 L144.48,302.81 L146.72,302.86 L148.95,302.82 L151.18,302.70 L153.39,302.49 L155.57,302.20 L157.71,301.83 L159.81,301.39 L161.88,300.90 L163.92,300.39 L165.95,299.85 L167.96,299.32 L169.97,298.81 L171.98,298.34 L174.00,297.92 L176.04,297.57 L178.09,297.31 L180.16,297.13 L182.25,297.02 L184.35,296.97 L186.47,296.97 L188.59,297.00 L190.73,297.07 L192.87,297.15 L195.01,297.24 L197.16,297.33 L199.30,297.41 L201.44,297.46 L203.58,297.48 L205.71,297.46 L207.84,297.42 L209.96,297.36 L212.08,297.28 L214.20,297.18 L216.31,297.08 L218.43,296.97 L220.54,296.86 L222.65,296.76 L224.77,296.67 L226.89,296.57 L229.00,296.47 L231.12,296.36 L233.24,296.24 L235.36,296.10 L237.48,295.95 L239.60,295.78 L241.72,295.59 L243.83,295.38 L245.95,295.16 L248.07,294.92 L250.18,294.65 L252.29,294.37 L254.39,294.07 L256.49,293.75 L258.59,293.41 L260.67,293.03 L262.76,292.60 L264.83,292.13 L266.90,291.61 L268.95,291.03 L271.01,290.42 L273.06,289.80 L275.12,289.21 L277.18,288.65 L279.26,288.17 L281.35,287.77 L283.46,287.48 L285.58,287.28 L287.70,287.18 L289.83,287.18 L291.96,287.27 L294.08,287.45 L296.19,287.72 L298.28,288.08 L300.36,288.53 L302.42,289.06 L304.45,289.68 L306.45,290.38 L308.41,291.17 L310.34,292.03 L312.22,292.97 L314.05,293.99 L315.84,295.09 L317.57,296.26 L319.25,297.50 L320.87,298.80 L322.44,300.17 L323.97,301.60 L325.45,303.09 L326.89,304.63 L328.29,306.22 L329.65,307.85 L330.97,309.53 L332.27,311.24 L333.52,312.99 L334.75,314.78 L335.96,316.58 L337.14,318.42 L338.29,320.27 L339.43,322.14 L340.55,324.02 L341.65,325.92 L342.74,327.82 L343.82,329.72 L344.90,331.62 L345.96,333.51 L347.02,335.40 L348.08,337.28 L349.15,339.14 L350.21,340.98 L351.28,342.80 L352.34,344.61 L353.41,346.40 L354.46,348.20 L355.51,349.99 L356.54,351.79 L357.55,353.59 L358.54,355.41 L359.51,357.25 L360.45,359.11 L361.36,361.00 L362.24,362.92 L363.09,364.86 L363.91,366.82 L364.70,368.81 L365.48,370.81 L366.23,372.83 L366.96,374.85 L367.68,376.88 L368.38,378.92 L369.08,380.96 L369.76,383.00 L370.43,385.04 L371.10,387.07 L371.76,389.09 L372.43,391.10 L373.10,393.11 L373.77,395.12 L374.46,397.11 L375.16,399.11 L375.87,401.10 L376.61,403.08 L377.36,405.06 L378.14,407.03 L378.95,409.00 L379.79,410.97 L380.67,412.94 L381.58,414.89 L382.53,416.84 L383.52,418.77 L384.56,420.67 L385.64,422.55 L386.76,424.40 L387.94,426.21 L389.16,427.97 L390.44,429.68 L391.77,431.34 L393.16,432.94 L394.61,434.48 L396.12,435.94 L397.69,437.34 L399.31,438.66 L400.99,439.92 L402.72,441.12 L404.49,442.26 L406.30,443.33 L408.15,444.36 L410.04,445.33 L411.95,446.26 L413.90,447.13 L415.87,447.97 L417.86,448.76 L419.87,449.51 L421.89,450.23 L423.93,450.91 L425.97,451.57 L428.02,452.19 L430.07,452.79 L432.13,453.36 L434.19,453.91 L436.26,454.43 L438.33,454.93 L440.40,455.41 L442.48,455.87 L444.56,456.31 L446.65,456.74 L448.74,457.15 L450.83,457.54 L452.92,457.92 L455.02,458.28 L457.11,458.64 L459.21,458.98 L461.31,459.32 L463.42,459.65 L465.52,459.97 L467.63,460.29 L469.73,460.60 L471.84,460.91 L473.94,461.22 L476.05,461.52 L478.15,461.82 L480.26,462.12 L482.37,462.42 L484.48,462.71 L486.58,463.00 L488.69,463.29 L490.80,463.58 L492.91,463.86 L495.02,464.14 L497.13,464.42 L499.24,464.70 L501.35,464.97 L503.46,465.25 L505.57,465.52 L507.68,465.78 L509.79,466.05 L511.91,466.31 L514.02,466.57 L516.13,466.83 L518.24,467.08 L520.36,467.33 L522.47,467.58 L524.58,467.83 L526.70,468.08 L528.81,468.32 L530.93,468.56 L533.04,468.80 L535.16,469.04 L537.27,469.27 L539.39,469.50 L541.50,469.73 L543.62,469.96 L545.73,470.19 L547.85,470.41 L549.97,470.63 L552.08,470.85 L554.20,471.07 L556.32,471.28 L558.44,471.50 L560.56,471.71 L562.67,471.92 L564.79,472.12 L566.91,472.33 L569.03,472.53 L571.15,472.73 L573.27,472.93 L575.39,473.13 L577.51,473.32 L579.63,473.51 L581.75,473.70 L583.87,473.89 L585.99,474.08 L588.11,474.26 L590.23,474.45 L592.35,474.63 L594.47,474.81 L596.59,474.98 L598.72,475.16 L600.84,475.33 L602.96,475.50 L605.08,475.67 L607.20,475.84 L609.33,476.01 L611.45,476.17 L613.57,476.34 L615.69,476.50 L617.82,476.66 L619.94,476.81 L622.06,476.97 L624.19,477.12 L626.31,477.28 L628.44,477.43 L630.56,477.58 L632.68,477.72 L634.81,477.87 L636.93,478.01 L639.06,478.16 L641.18,478.30 L643.31,478.44 L645.43,478.57 L647.56,478.71 L649.68,478.85 L651.81,478.98 L653.93,479.11 L656.06,479.24 L658.18,479.37 L660.31,479.50 L662.43,479.62 L664.56,479.75 L666.68,479.87 L668.81,479.99 L670.94,480.11 L673.06,480.23 L675.19,480.35 L677.31,480.46 L679.44,480.58 L681.57,480.69 L683.69,480.80 L685.82,480.91 L687.95,481.02 L690.07,481.13 L692.20,481.24 L694.33,481.34 L696.45,481.45 L698.58,481.55 L700.71,481.65 L702.83,481.75 L704.96,481.85 L707.09,481.95 L709.21,482.04 L711.34,482.14 L713.47,482.23 L715.59,482.33 L717.72,482.42 L719.85,482.51 L721.97,482.60 L724.10,482.69 L726.23,482.78 L728.35,482.86 L730.48,482.95 L732.61,483.03 L734.74,483.12 L736.86,483.20 L738.99,483.28 L741.12,483.36 L743.24,483.44 L745.37,483.52 L747.50,483.60 L749.62,483.68 L751.75,483.75 L753.88,483.83 L756.00,483.90" stroke="#A86CF0"/>
<path d="M75.99,196.01 L76.62,198.03 L77.24,200.07 L77.86,202.11 L78.46,204.16 L79.06,206.21 L79.65,208.27 L80.24,210.33 L80.82,212.40 L81.40,214.47 L81.97,216.54 L82.54,218.62 L83.11,220.70 L83.68,222.78 L84.25,224.86 L84.83,226.95 L85.40,229.03 L85.97,231.12 L86.55,233.20 L87.14,235.29 L87.73,237.37 L88.32,239.46 L88.92,241.54 L89.53,243.61 L90.15,245.69 L90.77,247.76 L91.41,249.83 L92.05,251.90 L92.71,253.96 L93.38,256.01 L94.06,258.06 L94.76,260.10 L95.47,262.14 L96.19,264.17 L96.94,266.20 L97.70,268.21 L98.47,270.22 L99.27,272.22 L100.08,274.21 L100.92,276.19 L101.78,278.16 L102.66,280.12 L103.56,282.07 L104.48,284.01 L105.43,285.94 L106.40,287.85 L107.40,289.76 L108.43,291.65 L109.48,293.53 L110.57,295.39 L111.68,297.24 L112.82,299.07 L113.99,300.89 L115.19,302.69 L116.43,304.48 L117.71,306.22 L119.05,307.92 L120.46,309.54 L121.94,311.08 L123.51,312.52 L125.18,313.83 L126.96,315.01 L128.85,316.03 L130.86,316.90 L132.95,317.62 L135.11,318.21 L137.30,318.66 L139.51,318.99 L141.71,319.21 L143.89,319.32 L146.06,319.34 L148.20,319.27 L150.34,319.11 L152.46,318.87 L154.56,318.56 L156.66,318.19 L158.75,317.77 L160.83,317.29 L162.90,316.77 L164.97,316.22 L167.04,315.64 L169.11,315.04 L171.17,314.43 L173.24,313.81 L175.31,313.19 L177.39,312.58 L179.48,312.01 L181.57,311.51 L183.67,311.14 L185.78,310.94 L187.90,310.93 L190.03,311.09 L192.17,311.33 L194.31,311.60 L196.44,311.81 L198.56,311.89 L200.66,311.78 L202.75,311.48 L204.84,311.03 L206.91,310.48 L208.99,309.87 L211.06,309.25 L213.15,308.65 L215.23,308.14 L217.34,307.74 L219.46,307.51 L221.59,307.45 L223.73,307.48 L225.87,307.53 L227.99,307.52 L230.10,307.38 L232.18,307.05 L234.24,306.54 L236.27,305.90 L238.30,305.17 L240.33,304.41 L242.36,303.64 L244.40,302.92 L246.46,302.29 L248.54,301.79 L250.64,301.42 L252.76,301.13 L254.89,300.90 L257.02,300.69 L259.15,300.45 L261.27,300.16 L263.37,299.78 L265.46,299.26 L267.51,298.57 L269.54,297.73 L271.55,296.77 L273.55,295.75 L275.55,294.73 L277.55,293.74 L279.58,292.86 L281.62,292.11 L283.70,291.52 L285.79,291.08 L287.90,290.78 L290.02,290.62 L292.15,290.59 L294.28,290.69 L296.41,290.90 L298.53,291.22 L300.65,291.65 L302.75,292.18 L304.83,292.81 L306.89,293.52 L308.92,294.31 L310.92,295.18 L312.88,296.11 L314.80,297.11 L316.68,298.17 L318.51,299.28 L320.30,300.43 L322.04,301.64 L323.73,302.90 L325.38,304.20 L326.99,305.54 L328.56,306.93 L330.08,308.37 L331.57,309.84 L333.02,311.35 L334.43,312.91 L335.80,314.49 L337.14,316.12 L338.44,317.78 L339.71,319.47 L340.94,321.19 L342.14,322.95 L343.31,324.73 L344.45,326.54 L345.56,328.37 L346.65,330.24 L347.70,332.12 L348.73,334.03 L349.74,335.96 L350.71,337.90 L351.67,339.87 L352.60,341.85 L353.51,343.85 L354.40,345.86 L355.27,347.89 L356.12,349.92 L356.96,351.97 L357.77,354.02 L358.57,356.09 L359.36,358.16 L360.13,360.23 L360.89,362.31 L361.63,364.39 L362.37,366.47 L363.09,368.55 L363.80,370.62 L364.51,372.70 L365.21,374.77 L365.90,376.83 L366.59,378.88 L367.27,380.93 L367.94,382.97 L368.62,384.99 L369.29,387.01 L369.97,389.01 L370.64,391.00 L371.32,392.99 L372.01,394.96 L372.70,396.93 L373.40,398.90 L374.12,400.87 L374.85,402.84 L375.60,404.81 L376.37,406.79 L377.15,408.77 L377.96,410.76 L378.80,412.76 L379.66,414.76 L380.55,416.77 L381.48,418.77 L382.44,420.76 L383.43,422.73 L384.47,424.69 L385.55,426.61 L386.68,428.50 L387.86,430.35 L389.08,432.15 L390.37,433.90 L391.70,435.59 L393.10,437.22 L394.56,438.78 L396.08,440.26 L397.67,441.67 L399.31,443.01 L401.01,444.28 L402.77,445.48 L404.56,446.62 L406.41,447.70 L408.29,448.72 L410.21,449.68 L412.16,450.60 L414.14,451.47 L416.14,452.29 L418.17,453.07 L420.21,453.81 L422.27,454.52 L424.34,455.19 L426.41,455.83 L428.49,456.44 L430.57,457.02 L432.65,457.58 L434.74,458.11 L436.84,458.62 L438.94,459.11 L441.04,459.58 L443.14,460.02 L445.25,460.45 L447.36,460.86 L449.47,461.25 L451.59,461.63 L453.71,462.00 L455.83,462.35 L457.95,462.69 L460.07,463.03 L462.20,463.35 L464.32,463.67 L466.45,463.98 L468.58,464.28 L470.71,464.58 L472.83,464.88 L474.96,465.18 L477.09,465.47 L479.22,465.76 L481.35,466.05 L483.49,466.34 L485.62,466.62 L487.75,466.90 L489.88,467.18 L492.01,467.45 L494.15,467.73 L496.28,468.00 L498.41,468.27 L500.55,468.53 L502.68,468.79 L504.82,469.05 L506.95,469.31 L509.09,469.57 L511.22,469.82 L513.36,470.07 L515.50,470.32 L517.64,470.57 L519.77,470.81 L521.91,471.05 L524.05,471.29 L526.19,471.52 L528.33,471.76 L530.47,471.99 L532.60,472.22 L534.74,472.45 L536.88,472.67 L539.02,472.90 L541.17,473.12 L543.31,473.33 L545.45,473.55 L547.59,473.76 L549.73,473.98 L551.87,474.19 L554.02,474.39 L556.16,474.60 L558.30,474.80 L560.44,475.00 L562.59,475.20 L564.73,475.40 L566.88,475.59 L569.02,475.79 L571.16,475.98 L573.31,476.17 L575.45,476.35 L577.60,476.54 L579.74,476.72 L581.89,476.90 L584.04,477.08 L586.18,477.26 L588.33,477.43 L590.47,477.60 L592.62,477.78 L594.77,477.95 L596.91,478.11 L599.06,478.28 L601.21,478.44 L603.36,478.60 L605.50,478.77 L607.65,478.92 L609.80,479.08 L611.95,479.24 L614.10,479.39 L616.24,479.54 L618.39,479.69 L620.54,479.84 L622.69,479.98 L624.84,480.13 L626.99,480.27 L629.14,480.41 L631.29,480.55 L633.44,480.69 L635.59,480.83 L637.74,480.96 L639.89,481.10 L642.04,481.23 L644.18,481.36 L646.33,481.49 L648.49,481.61 L650.64,481.74 L652.79,481.86 L654.94,481.99 L657.09,482.11 L659.24,482.23 L661.39,482.35 L663.54,482.46 L665.69,482.58 L667.84,482.69 L669.99,482.81 L672.14,482.92 L674.29,483.03 L676.44,483.14 L678.59,483.24 L680.74,483.35 L682.89,483.45 L685.04,483.56 L687.20,483.66 L689.35,483.76 L691.50,483.86 L693.65,483.96 L695.80,484.06 L697.95,484.15 L700.10,484.25 L702.25,484.34 L704.40,484.44 L706.55,484.53 L708.70,484.62 L710.85,484.71 L713.00,484.80 L715.15,484.88 L717.30,484.97 L719.45,485.06 L721.60,485.14 L723.75,485.22 L725.90,485.30 L728.05,485.39 L730.20,485.47 L732.35,485.55 L734.50,485.62 L736.65,485.70 L738.80,485.78 L740.95,485.85 L743.10,485.93 L745.25,486.00 L747.40,486.07 L749.55,486.15 L751.70,486.22 L753.84,486.29 L755.99,486.36" stroke="#3CD23C"/>
<path d="M76.00,214.00 L76.49,216.18 L76.98,218.36 L77.49,220.52 L78.00,222.68 L78.51,224.83 L79.04,226.97 L79.57,229.11 L80.11,231.23 L80.65,233.36 L81.20,235.47 L81.76,237.58 L82.33,239.68 L82.90,241.78 L83.48,243.87 L84.06,245.96 L84.65,248.05 L85.25,250.13 L85.85,252.21 L86.46,254.28 L87.07,256.35 L87.69,258.42 L88.31,260.49 L88.94,262.56 L89.58,264.62 L90.22,266.68 L90.86,268.75 L91.51,270.81 L92.17,272.87 L92.83,274.94 L93.49,277.00 L94.16,279.07 L94.83,281.14 L95.50,283.21 L96.19,285.28 L96.87,287.35 L97.56,289.43 L98.25,291.51 L98.94,293.60 L99.64,295.69 L100.35,297.78 L101.05,299.88 L101.76,301.99 L102.47,304.10 L103.19,306.21 L103.93,308.31 L104.68,310.42 L105.46,312.50 L106.27,314.58 L107.13,316.63 L108.02,318.65 L108.96,320.64 L109.97,322.59 L111.03,324.51 L112.16,326.38 L113.37,328.19 L114.66,329.96 L116.03,331.66 L117.49,333.29 L119.03,334.83 L120.65,336.28 L122.34,337.62 L124.11,338.83 L125.95,339.91 L127.85,340.85 L129.82,341.63 L131.85,342.24 L133.94,342.66 L136.09,342.89 L138.28,342.94 L140.51,342.86 L142.77,342.70 L145.04,342.49 L147.30,342.29 L149.56,342.13 L151.79,342.04 L154.00,341.96 L156.19,341.89 L158.35,341.79 L160.48,341.63 L162.59,341.39 L164.67,341.03 L166.71,340.53 L168.72,339.86 L170.70,339.01 L172.66,338.04 L174.61,337.01 L176.57,336.00 L178.56,335.09 L180.58,334.33 L182.66,333.78 L184.77,333.40 L186.91,333.13 L189.07,332.93 L191.22,332.76 L193.38,332.60 L195.53,332.41 L197.67,332.17 L199.81,331.87 L201.93,331.49 L204.05,331.04 L206.16,330.53 L208.25,329.96 L210.34,329.35 L212.42,328.68 L214.50,327.98 L216.56,327.25 L218.63,326.49 L220.68,325.71 L222.74,324.92 L224.79,324.12 L226.83,323.31 L228.87,322.51 L230.91,321.72 L232.95,320.94 L234.99,320.17 L237.03,319.41 L239.06,318.65 L241.10,317.90 L243.14,317.16 L245.17,316.41 L247.21,315.67 L249.25,314.92 L251.30,314.17 L253.34,313.42 L255.38,312.65 L257.42,311.87 L259.45,311.08 L261.47,310.26 L263.49,309.42 L265.48,308.54 L267.46,307.63 L269.43,306.68 L271.37,305.69 L273.29,304.67 L275.20,303.62 L277.12,302.58 L279.06,301.58 L281.04,300.65 L283.06,299.80 L285.14,299.06 L287.26,298.43 L289.42,297.91 L291.60,297.51 L293.79,297.23 L295.98,297.08 L298.17,297.05 L300.33,297.15 L302.48,297.37 L304.60,297.72 L306.69,298.18 L308.76,298.75 L310.80,299.43 L312.81,300.21 L314.79,301.09 L316.73,302.07 L318.63,303.13 L320.50,304.28 L322.33,305.50 L324.11,306.81 L325.85,308.18 L327.54,309.62 L329.18,311.13 L330.78,312.69 L332.32,314.31 L333.81,315.97 L335.24,317.68 L336.61,319.43 L337.93,321.21 L339.18,323.03 L340.37,324.87 L341.49,326.73 L342.55,328.61 L343.53,330.51 L344.46,332.41 L345.35,334.33 L346.21,336.25 L347.07,338.19 L347.94,340.13 L348.83,342.08 L349.74,344.04 L350.67,346.01 L351.61,347.98 L352.56,349.96 L353.51,351.95 L354.46,353.95 L355.40,355.95 L356.34,357.96 L357.26,359.98 L358.16,362.00 L359.05,364.03 L359.92,366.07 L360.76,368.11 L361.59,370.15 L362.40,372.20 L363.19,374.25 L363.96,376.31 L364.71,378.36 L365.44,380.42 L366.15,382.48 L366.84,384.53 L367.50,386.59 L368.15,388.65 L368.79,390.70 L369.42,392.76 L370.04,394.81 L370.66,396.87 L371.29,398.93 L371.93,400.99 L372.57,403.05 L373.24,405.11 L373.92,407.18 L374.64,409.25 L375.38,411.32 L376.16,413.39 L376.97,415.46 L377.82,417.53 L378.71,419.60 L379.63,421.65 L380.59,423.69 L381.60,425.72 L382.64,427.72 L383.72,429.69 L384.85,431.64 L386.01,433.56 L387.22,435.44 L388.47,437.28 L389.76,439.08 L391.10,440.83 L392.48,442.53 L393.91,444.18 L395.38,445.77 L396.90,447.30 L398.47,448.77 L400.08,450.16 L401.74,451.49 L403.45,452.73 L405.21,453.90 L407.02,454.99 L408.88,456.00 L410.77,456.94 L412.71,457.81 L414.69,458.61 L416.70,459.35 L418.74,460.04 L420.81,460.68 L422.91,461.28 L425.03,461.83 L427.16,462.34 L429.32,462.83 L431.49,463.28 L433.66,463.71 L435.85,464.12 L438.04,464.52 L440.23,464.91 L442.42,465.29 L444.61,465.67 L446.80,466.04 L448.98,466.40 L451.17,466.76 L453.35,467.12 L455.54,467.46 L457.72,467.81 L459.90,468.14 L462.08,468.48 L464.26,468.80 L466.44,469.13 L468.62,469.44 L470.80,469.75 L472.97,470.06 L475.15,470.36 L477.33,470.66 L479.50,470.95 L481.67,471.24 L483.85,471.53 L486.02,471.80 L488.19,472.08 L490.36,472.35 L492.53,472.62 L494.70,472.88 L496.87,473.14 L499.04,473.39 L501.21,473.64 L503.38,473.89 L505.55,474.13 L507.71,474.37 L509.88,474.61 L512.05,474.84 L514.21,475.07 L516.38,475.29 L518.54,475.52 L520.71,475.73 L522.88,475.95 L525.04,476.16 L527.21,476.37 L529.37,476.58 L531.54,476.78 L533.70,476.98 L535.87,477.18 L538.03,477.38 L540.19,477.57 L542.36,477.76 L544.52,477.95 L546.69,478.14 L548.85,478.32 L551.02,478.50 L553.19,478.68 L555.35,478.86 L557.52,479.04 L559.68,479.21 L561.85,479.38 L564.02,479.55 L566.18,479.72 L568.35,479.89 L570.52,480.05 L572.68,480.22 L574.85,480.38 L577.02,480.54 L579.19,480.70 L581.36,480.86 L583.53,481.02 L585.70,481.18 L587.87,481.34 L590.05,481.49 L592.22,481.65 L594.39,481.80 L596.57,481.95 L598.74,482.11 L600.92,482.26 L603.09,482.41 L605.27,482.57 L607.45,482.72 L609.63,482.87 L611.81,483.02 L613.99,483.17 L616.17,483.32 L618.35,483.47 L620.53,483.62 L622.72,483.77 L624.90,483.92 L627.08,484.06 L629.27,484.21 L631.45,484.36 L633.64,484.50 L635.82,484.64 L638.01,484.79 L640.20,484.93 L642.38,485.07 L644.57,485.20 L646.76,485.34 L648.95,485.47 L651.14,485.61 L653.33,485.74 L655.52,485.87 L657.70,486.00 L659.89,486.13 L662.08,486.25 L664.27,486.37 L666.46,486.49 L668.65,486.61 L670.84,486.73 L673.03,486.84 L675.22,486.95 L677.41,487.06 L679.60,487.17 L681.79,487.28 L683.98,487.38 L686.17,487.48 L688.36,487.57 L690.55,487.67 L692.74,487.76 L694.93,487.85 L697.11,487.93 L699.30,488.02 L701.49,488.10 L703.68,488.17 L705.86,488.24 L708.05,488.31 L710.24,488.38 L712.42,488.44 L714.61,488.50 L716.79,488.56 L718.98,488.61 L721.16,488.66 L723.34,488.70 L725.52,488.74 L727.71,488.78 L729.89,488.81 L732.07,488.84 L734.25,488.87 L736.43,488.89 L738.60,488.90 L740.78,488.92 L742.96,488.92 L745.13,488.93 L747.31,488.93 L749.48,488.92 L751.65,488.91 L753.82,488.90 L755.99,488.88" stroke="#2F60E8"/>
<path d="M76.00,243.00 L76.59,245.15 L77.17,247.31 L77.73,249.47 L78.28,251.63 L78.81,253.79 L79.34,255.96 L79.85,258.13 L80.35,260.30 L80.85,262.47 L81.33,264.65 L81.81,266.83 L82.28,269.00 L82.75,271.18 L83.21,273.36 L83.67,275.54 L84.13,277.72 L84.58,279.90 L85.04,282.08 L85.49,284.26 L85.95,286.44 L86.40,288.62 L86.86,290.80 L87.33,292.97 L87.80,295.15 L88.27,297.32 L88.75,299.49 L89.24,301.66 L89.74,303.83 L90.24,306.00 L90.76,308.16 L91.29,310.32 L91.83,312.47 L92.38,314.62 L92.95,316.77 L93.53,318.92 L94.12,321.06 L94.74,323.19 L95.37,325.33 L96.02,327.45 L96.69,329.58 L97.37,331.69 L98.08,333.81 L98.82,335.91 L99.57,338.01 L100.35,340.11 L101.15,342.19 L101.99,344.27 L102.85,346.34 L103.75,348.39 L104.68,350.43 L105.65,352.44 L106.67,354.44 L107.73,356.41 L108.84,358.35 L110.00,360.26 L111.21,362.14 L112.49,363.98 L113.82,365.79 L115.22,367.55 L116.68,369.27 L118.21,370.93 L119.83,372.49 L121.52,373.91 L123.31,375.15 L125.20,376.18 L127.19,376.98 L129.26,377.56 L131.41,377.96 L133.61,378.21 L135.85,378.35 L138.11,378.40 L140.39,378.41 L142.68,378.40 L144.97,378.42 L147.26,378.50 L149.54,378.61 L151.79,378.69 L154.01,378.69 L156.19,378.55 L158.31,378.21 L160.38,377.65 L162.40,376.91 L164.39,376.02 L166.35,375.03 L168.30,373.96 L170.25,372.86 L172.20,371.75 L174.17,370.69 L176.17,369.69 L178.21,368.81 L180.29,368.06 L182.41,367.42 L184.56,366.88 L186.73,366.39 L188.90,365.93 L191.07,365.47 L193.23,364.98 L195.37,364.43 L197.47,363.80 L199.53,363.05 L201.54,362.19 L203.52,361.22 L205.47,360.18 L207.39,359.08 L209.30,357.93 L211.20,356.76 L213.10,355.58 L215.01,354.40 L216.92,353.25 L218.86,352.14 L220.81,351.08 L222.79,350.07 L224.78,349.09 L226.76,348.09 L228.71,347.07 L230.64,345.98 L232.52,344.83 L234.38,343.63 L236.22,342.39 L238.05,341.13 L239.87,339.86 L241.71,338.60 L243.56,337.37 L245.43,336.17 L247.34,335.03 L249.30,333.96 L251.30,332.96 L253.34,332.03 L255.38,331.10 L257.40,330.15 L259.36,329.12 L261.24,327.98 L263.05,326.73 L264.80,325.39 L266.50,323.99 L268.17,322.54 L269.83,321.07 L271.49,319.59 L273.16,318.12 L274.86,316.69 L276.61,315.32 L278.42,314.02 L280.30,312.81 L282.26,311.72 L284.30,310.73 L286.39,309.85 L288.53,309.09 L290.71,308.45 L292.93,307.92 L295.16,307.51 L297.41,307.23 L299.67,307.07 L301.91,307.03 L304.15,307.13 L306.35,307.35 L308.52,307.71 L310.65,308.20 L312.73,308.83 L314.75,309.60 L316.71,310.49 L318.62,311.50 L320.47,312.62 L322.27,313.85 L324.01,315.17 L325.71,316.59 L327.36,318.08 L328.96,319.65 L330.51,321.28 L332.02,322.97 L333.48,324.71 L334.90,326.50 L336.28,328.32 L337.62,330.17 L338.92,332.04 L340.18,333.92 L341.41,335.82 L342.60,337.73 L343.75,339.65 L344.88,341.59 L345.97,343.53 L347.03,345.49 L348.07,347.46 L349.07,349.43 L350.05,351.42 L351.01,353.42 L351.95,355.43 L352.86,357.44 L353.75,359.46 L354.63,361.49 L355.48,363.53 L356.32,365.58 L357.15,367.63 L357.96,369.68 L358.76,371.75 L359.55,373.81 L360.33,375.88 L361.11,377.96 L361.87,380.04 L362.63,382.12 L363.39,384.21 L364.15,386.30 L364.90,388.39 L365.66,390.48 L366.42,392.58 L367.18,394.67 L367.94,396.76 L368.71,398.86 L369.48,400.95 L370.26,403.04 L371.05,405.13 L371.85,407.21 L372.66,409.30 L373.47,411.37 L374.30,413.44 L375.14,415.51 L375.99,417.57 L376.86,419.62 L377.74,421.67 L378.64,423.70 L379.55,425.73 L380.48,427.75 L381.43,429.76 L382.40,431.75 L383.39,433.73 L384.41,435.70 L385.47,437.65 L386.55,439.58 L387.68,441.49 L388.85,443.37 L390.06,445.23 L391.33,447.06 L392.65,448.86 L394.02,450.62 L395.46,452.36 L396.95,454.05 L398.52,455.71 L400.14,457.31 L401.81,458.85 L403.54,460.32 L405.32,461.72 L407.15,463.03 L409.02,464.25 L410.93,465.37 L412.89,466.39 L414.88,467.32 L416.90,468.16 L418.95,468.93 L421.03,469.62 L423.14,470.24 L425.27,470.81 L427.41,471.32 L429.58,471.79 L431.75,472.22 L433.94,472.62 L436.14,472.99 L438.34,473.34 L440.55,473.69 L442.75,474.02 L444.96,474.35 L447.17,474.67 L449.37,474.99 L451.58,475.30 L453.79,475.60 L456.00,475.90 L458.21,476.19 L460.42,476.48 L462.63,476.76 L464.84,477.03 L467.05,477.30 L469.26,477.57 L471.48,477.83 L473.69,478.08 L475.90,478.33 L478.12,478.57 L480.33,478.81 L482.55,479.04 L484.76,479.27 L486.98,479.50 L489.19,479.72 L491.41,479.93 L493.63,480.14 L495.84,480.35 L498.06,480.55 L500.28,480.75 L502.50,480.95 L504.71,481.14 L506.93,481.33 L509.15,481.51 L511.37,481.69 L513.59,481.87 L515.81,482.04 L518.03,482.21 L520.25,482.38 L522.47,482.54 L524.69,482.71 L526.91,482.86 L529.13,483.02 L531.36,483.17 L533.58,483.32 L535.80,483.47 L538.02,483.62 L540.24,483.76 L542.47,483.91 L544.69,484.04 L546.91,484.18 L549.13,484.32 L551.36,484.45 L553.58,484.59 L555.80,484.72 L558.03,484.85 L560.25,484.97 L562.48,485.10 L564.70,485.23 L566.92,485.35 L569.15,485.48 L571.37,485.60 L573.59,485.72 L575.82,485.85 L578.04,485.97 L580.27,486.09 L582.49,486.21 L584.71,486.33 L586.94,486.45 L589.16,486.57 L591.39,486.69 L593.61,486.81 L595.83,486.93 L598.06,487.05 L600.28,487.17 L602.51,487.30 L604.73,487.42 L606.95,487.54 L609.18,487.67 L611.40,487.79 L613.62,487.92 L615.85,488.04 L618.07,488.17 L620.29,488.30 L622.51,488.42 L624.74,488.55 L626.96,488.68 L629.18,488.81 L631.41,488.93 L633.63,489.06 L635.85,489.19 L638.07,489.31 L640.30,489.44 L642.52,489.57 L644.74,489.69 L646.97,489.82 L649.19,489.94 L651.41,490.06 L653.63,490.19 L655.86,490.31 L658.08,490.43 L660.30,490.55 L662.53,490.67 L664.75,490.79 L666.97,490.90 L669.20,491.02 L671.42,491.13 L673.64,491.25 L675.86,491.36 L678.09,491.47 L680.31,491.57 L682.54,491.68 L684.76,491.78 L686.98,491.88 L689.21,491.98 L691.43,492.08 L693.66,492.18 L695.88,492.27 L698.10,492.36 L700.33,492.45 L702.55,492.54 L704.78,492.62 L707.00,492.70 L709.23,492.78 L711.45,492.86 L713.68,492.93 L715.90,493.00 L718.13,493.07 L720.36,493.13 L722.58,493.19 L724.81,493.25 L727.04,493.30 L729.26,493.36 L731.49,493.40 L733.72,493.45 L735.94,493.49 L738.17,493.53 L740.40,493.56 L742.63,493.59 L744.86,493.61 L747.08,493.64 L749.31,493.65 L751.54,493.67 L753.77,493.68 L756.00,493.68" stroke="#F02244"/>
<path d="M76.01,281.00 L76.25,283.45 L76.51,285.87 L76.81,288.27 L77.13,290.65 L77.47,293.00 L77.83,295.32 L78.22,297.63 L78.64,299.92 L79.07,302.18 L79.52,304.43 L79.99,306.66 L80.48,308.88 L80.99,311.08 L81.52,313.26 L82.06,315.44 L82.62,317.60 L83.19,319.75 L83.78,321.89 L84.38,324.02 L84.99,326.15 L85.61,328.27 L86.24,330.39 L86.88,332.50 L87.53,334.61 L88.19,336.72 L88.86,338.82 L89.53,340.93 L90.21,343.04 L90.89,345.16 L91.58,347.27 L92.27,349.40 L92.96,351.53 L93.66,353.66 L94.35,355.81 L95.04,357.96 L95.74,360.13 L96.43,362.30 L97.11,364.49 L97.80,366.70 L98.49,368.90 L99.19,371.12 L99.90,373.33 L100.62,375.55 L101.36,377.75 L102.12,379.95 L102.90,382.14 L103.72,384.31 L104.56,386.46 L105.44,388.59 L106.36,390.69 L107.33,392.76 L108.34,394.81 L109.40,396.81 L110.51,398.78 L111.68,400.71 L112.91,402.59 L114.21,404.42 L115.57,406.19 L117.01,407.92 L118.51,409.58 L120.10,411.16 L121.76,412.65 L123.49,414.03 L125.31,415.30 L127.20,416.43 L129.17,417.42 L131.22,418.25 L133.35,418.91 L135.56,419.38 L137.84,419.66 L140.18,419.78 L142.56,419.77 L144.95,419.63 L147.34,419.42 L149.70,419.14 L152.02,418.80 L154.29,418.37 L156.51,417.85 L158.66,417.21 L160.76,416.44 L162.79,415.54 L164.77,414.55 L166.71,413.48 L168.62,412.34 L170.52,411.15 L172.39,409.94 L174.27,408.72 L176.16,407.50 L178.06,406.31 L179.99,405.16 L181.95,404.08 L183.97,403.07 L186.02,402.15 L188.11,401.27 L190.20,400.41 L192.28,399.54 L194.34,398.62 L196.35,397.63 L198.30,396.52 L200.17,395.29 L201.97,393.94 L203.72,392.51 L205.45,391.02 L207.16,389.51 L208.87,388.01 L210.61,386.53 L212.35,385.07 L214.11,383.63 L215.88,382.20 L217.64,380.77 L219.41,379.35 L221.17,377.91 L222.93,376.47 L224.68,375.01 L226.41,373.52 L228.12,372.01 L229.81,370.46 L231.47,368.88 L233.12,367.27 L234.77,365.66 L236.41,364.05 L238.06,362.47 L239.73,360.93 L241.41,359.43 L243.12,357.98 L244.84,356.56 L246.58,355.16 L248.32,353.78 L250.06,352.39 L251.79,351.00 L253.52,349.60 L255.24,348.16 L256.94,346.69 L258.61,345.17 L260.27,343.60 L261.89,341.96 L263.50,340.29 L265.09,338.57 L266.67,336.84 L268.25,335.09 L269.83,333.35 L271.41,331.62 L273.02,329.91 L274.64,328.24 L276.28,326.62 L277.95,325.05 L279.67,323.56 L281.42,322.15 L283.22,320.83 L285.07,319.63 L286.98,318.53 L288.96,317.57 L291.00,316.75 L293.12,316.08 L295.29,315.55 L297.50,315.16 L299.75,314.91 L302.03,314.81 L304.32,314.84 L306.61,315.00 L308.89,315.31 L311.16,315.74 L313.39,316.30 L315.59,316.99 L317.74,317.81 L319.82,318.75 L321.83,319.82 L323.76,321.01 L325.59,322.32 L327.33,323.74 L328.97,325.27 L330.52,326.90 L332.00,328.61 L333.41,330.39 L334.76,332.24 L336.07,334.14 L337.33,336.09 L338.56,338.06 L339.77,340.06 L340.96,342.06 L342.15,344.07 L343.34,346.06 L344.55,348.03 L345.76,349.99 L346.97,351.93 L348.18,353.86 L349.36,355.79 L350.52,357.73 L351.64,359.68 L352.72,361.66 L353.76,363.65 L354.75,365.67 L355.70,367.70 L356.62,369.75 L357.50,371.82 L358.35,373.90 L359.17,376.00 L359.96,378.11 L360.73,380.24 L361.47,382.38 L362.19,384.53 L362.90,386.68 L363.59,388.85 L364.26,391.03 L364.93,393.21 L365.58,395.40 L366.23,397.60 L366.88,399.80 L367.52,402.00 L368.17,404.20 L368.82,406.41 L369.47,408.62 L370.14,410.82 L370.81,413.02 L371.50,415.23 L372.20,417.42 L372.92,419.61 L373.65,421.79 L374.41,423.96 L375.19,426.12 L376.00,428.27 L376.83,430.40 L377.69,432.51 L378.58,434.61 L379.51,436.68 L380.47,438.74 L381.47,440.76 L382.50,442.77 L383.58,444.74 L384.70,446.69 L385.86,448.60 L387.08,450.49 L388.34,452.34 L389.65,454.15 L391.02,455.92 L392.44,457.66 L393.91,459.35 L395.45,461.00 L397.05,462.61 L398.71,464.17 L400.43,465.68 L402.22,467.14 L404.05,468.54 L405.94,469.88 L407.88,471.16 L409.86,472.37 L411.88,473.51 L413.94,474.58 L416.03,475.57 L418.15,476.48 L420.30,477.30 L422.47,478.04 L424.66,478.68 L426.87,479.24 L429.09,479.70 L431.32,480.10 L433.56,480.44 L435.80,480.73 L438.05,481.00 L440.31,481.25 L442.56,481.49 L444.82,481.73 L447.07,481.97 L449.33,482.21 L451.58,482.44 L453.84,482.66 L456.10,482.89 L458.36,483.11 L460.62,483.32 L462.88,483.54 L465.14,483.75 L467.40,483.96 L469.66,484.16 L471.93,484.36 L474.19,484.56 L476.45,484.76 L478.72,484.95 L480.98,485.14 L483.25,485.32 L485.51,485.51 L487.78,485.69 L490.05,485.87 L492.31,486.05 L494.58,486.22 L496.85,486.39 L499.12,486.56 L501.39,486.73 L503.66,486.89 L505.93,487.05 L508.20,487.21 L510.47,487.37 L512.74,487.52 L515.01,487.67 L517.28,487.83 L519.55,487.97 L521.82,488.12 L524.09,488.27 L526.37,488.41 L528.64,488.55 L530.91,488.69 L533.18,488.83 L535.46,488.96 L537.73,489.10 L540.00,489.23 L542.28,489.36 L544.55,489.49 L546.83,489.62 L549.10,489.75 L551.37,489.87 L553.65,490.00 L555.92,490.12 L558.20,490.24 L560.47,490.36 L562.75,490.48 L565.02,490.60 L567.30,490.72 L569.57,490.83 L571.85,490.95 L574.12,491.06 L576.39,491.18 L578.67,491.29 L580.94,491.40 L583.22,491.52 L585.49,491.63 L587.77,491.74 L590.04,491.85 L592.32,491.96 L594.59,492.07 L596.86,492.18 L599.14,492.29 L601.41,492.39 L603.68,492.50 L605.96,492.61 L608.23,492.72 L610.50,492.83 L612.78,492.93 L615.05,493.04 L617.32,493.15 L619.59,493.25 L621.87,493.36 L624.14,493.46 L626.41,493.57 L628.68,493.67 L630.95,493.78 L633.22,493.88 L635.49,493.98 L637.77,494.08 L640.04,494.19 L642.31,494.28 L644.58,494.38 L646.85,494.48 L649.12,494.58 L651.39,494.68 L653.66,494.77 L655.94,494.86 L658.21,494.96 L660.48,495.05 L662.75,495.14 L665.02,495.23 L667.29,495.31 L669.56,495.40 L671.83,495.49 L674.10,495.57 L676.38,495.65 L678.65,495.73 L680.92,495.81 L683.19,495.89 L685.46,495.96 L687.74,496.03 L690.01,496.11 L692.28,496.18 L694.55,496.24 L696.82,496.31 L699.10,496.37 L701.37,496.44 L703.64,496.49 L705.92,496.55 L708.19,496.61 L710.46,496.66 L712.74,496.71 L715.01,496.76 L717.29,496.81 L719.56,496.85 L721.84,496.89 L724.11,496.93 L726.39,496.97 L728.66,497.00 L730.94,497.03 L733.22,497.06 L735.49,497.09 L737.77,497.11 L740.05,497.13 L742.33,497.15 L744.60,497.16 L746.88,497.17 L749.16,497.18 L751.44,497.19 L753.72,497.19 L756.00,497.19" stroke="#4E4E4E"/>
</g>
<defs><clipPath id="clipTop"><rect x="76.0" y="10.0" width="679.0" height="497.0"/></clipPath><clipPath id="clipBot"><rect x="76.0" y="625.4" width="665.0" height="487.4"/></clipPath></defs>
<rect x="76.0" y="10.0" width="679.0" height="497.0" fill="none" stroke="#000" stroke-width="2"/>
<line x1="66.0" y1="507" x2="76.0" y2="507" stroke="#000" stroke-width="2"/>
<text x="60" y="514.2" font-size="24.5" text-anchor="end" >0.0</text>
<line x1="71.0" y1="476" x2="76.0" y2="476" stroke="#000" stroke-width="2"/>
<line x1="66.0" y1="445" x2="76.0" y2="445" stroke="#000" stroke-width="2"/>
<text x="60" y="452.075" font-size="24.5" text-anchor="end" >0.5</text>
<line x1="71.0" y1="414" x2="76.0" y2="414" stroke="#000" stroke-width="2"/>
<line x1="66.0" y1="383" x2="76.0" y2="383" stroke="#000" stroke-width="2"/>
<text x="60" y="389.95" font-size="24.5" text-anchor="end" >1.0</text>
<line x1="71.0" y1="352" x2="76.0" y2="352" stroke="#000" stroke-width="2"/>
<line x1="66.0" y1="321" x2="76.0" y2="321" stroke="#000" stroke-width="2"/>
<text x="60" y="327.825" font-size="24.5" text-anchor="end" >1.5</text>
<line x1="71.0" y1="290" x2="76.0" y2="290" stroke="#000" stroke-width="2"/>
<line x1="66.0" y1="258" x2="76.0" y2="258" stroke="#000" stroke-width="2"/>
<text x="60" y="265.7" font-size="24.5" text-anchor="end" >2.0</text>
<line x1="71.0" y1="227" x2="76.0" y2="227" stroke="#000" stroke-width="2"/>
<line x1="66.0" y1="196" x2="76.0" y2="196" stroke="#000" stroke-width="2"/>
<text x="60" y="203.575" font-size="24.5" text-anchor="end" >2.5</text>
<line x1="71.0" y1="165" x2="76.0" y2="165" stroke="#000" stroke-width="2"/>
<line x1="66.0" y1="134" x2="76.0" y2="134" stroke="#000" stroke-width="2"/>
<text x="60" y="141.45" font-size="24.5" text-anchor="end" >3.0</text>
<line x1="71.0" y1="103" x2="76.0" y2="103" stroke="#000" stroke-width="2"/>
<line x1="66.0" y1="72" x2="76.0" y2="72" stroke="#000" stroke-width="2"/>
<text x="60" y="79.325" font-size="24.5" text-anchor="end" >3.5</text>
<line x1="71.0" y1="41" x2="76.0" y2="41" stroke="#000" stroke-width="2"/>
<line x1="66.0" y1="10" x2="76.0" y2="10" stroke="#000" stroke-width="2"/>
<text x="60" y="17.2" font-size="24.5" text-anchor="end" >4.0</text>
<line x1="138" y1="507.0" x2="138" y2="517.0" stroke="#000" stroke-width="2"/>
<text x="137.73" y="541.8" font-size="24.3" text-anchor="middle" >250</text>
<line x1="292" y1="507.0" x2="292" y2="512.0" stroke="#000" stroke-width="2"/>
<text x="292.05" y="541.8" font-size="24.3" text-anchor="middle" >275</text>
<line x1="446" y1="507.0" x2="446" y2="517.0" stroke="#000" stroke-width="2"/>
<text x="446.36" y="541.8" font-size="24.3" text-anchor="middle" >300</text>
<line x1="601" y1="507.0" x2="601" y2="512.0" stroke="#000" stroke-width="2"/>
<text x="600.68" y="541.8" font-size="24.3" text-anchor="middle" >325</text>
<line x1="755" y1="507.0" x2="755" y2="517.0" stroke="#000" stroke-width="2"/>
<text x="755.0" y="541.8" font-size="24.3" text-anchor="middle" >350</text>
<text x="406" y="568" font-size="23.6" text-anchor="middle" >Wavelength (nm)</text>
<text transform="translate(16.2,257.5) rotate(-90)" x="0" y="0" font-size="23" text-anchor="middle">Absorbance [A.U.]</text>
<text x="736" y="37.5" font-size="23" text-anchor="middle" >(a)</text>
<line x1="376.7" y1="326" x2="376.7" y2="252" stroke="#000" stroke-width="1.6"/>
<path d="M376.7,240 L380.5,254.5 L372.9,254.5 Z" fill="#000"/>
<text x="382.6" y="287.5" font-size="23.6" text-anchor="start" >Pb(II)</text>
<rect x="460.5" y="25.5" width="247.5" height="188.8" fill="#fff" stroke="none"/>
<line x1="460.5" y1="25.5" x2="708.0" y2="25.5" stroke="#222" stroke-width="1.2"/>
<line x1="708.0" y1="25.5" x2="708.0" y2="214.3" stroke="#666" stroke-width="1.2"/>
<line x1="460.5" y1="25.5" x2="460.5" y2="214.3" stroke="#222" stroke-width="1.2"/>
<line x1="460.5" y1="214.3" x2="708.0" y2="214.3" stroke="#222" stroke-width="1.2"/>
<line x1="456.5" y1="169.70" x2="460.5" y2="169.70" stroke="#222" stroke-width="1"/>
<text x="453.8" y="172.79999999999998" font-size="10.6" text-anchor="end" >1.10</text>
<line x1="456.5" y1="145.70" x2="460.5" y2="145.70" stroke="#222" stroke-width="1"/>
<text x="453.8" y="148.79999999999995" font-size="10.6" text-anchor="end" >1.15</text>
<line x1="456.5" y1="121.70" x2="460.5" y2="121.70" stroke="#222" stroke-width="1"/>
<text x="453.8" y="124.79999999999994" font-size="10.6" text-anchor="end" >1.20</text>
<line x1="456.5" y1="97.70" x2="460.5" y2="97.70" stroke="#222" stroke-width="1"/>
<text x="453.8" y="100.80000000000003" font-size="10.6" text-anchor="end" >1.25</text>
<line x1="456.5" y1="73.70" x2="460.5" y2="73.70" stroke="#222" stroke-width="1"/>
<text x="453.8" y="76.80000000000001" font-size="10.6" text-anchor="end" >1.30</text>
<line x1="456.5" y1="49.70" x2="460.5" y2="49.70" stroke="#222" stroke-width="1"/>
<text x="453.8" y="52.79999999999999" font-size="10.6" text-anchor="end" >1.35</text>
<line x1="456.5" y1="25.70" x2="460.5" y2="25.70" stroke="#222" stroke-width="1"/>
<text x="453.8" y="28.79999999999996" font-size="10.6" text-anchor="end" >1.40</text>
<line x1="458.5" y1="181.70" x2="460.5" y2="181.70" stroke="#222" stroke-width="1"/>
<line x1="458.5" y1="157.70" x2="460.5" y2="157.70" stroke="#222" stroke-width="1"/>
<line x1="458.5" y1="133.70" x2="460.5" y2="133.70" stroke="#222" stroke-width="1"/>
<line x1="458.5" y1="109.70" x2="460.5" y2="109.70" stroke="#222" stroke-width="1"/>
<line x1="458.5" y1="85.70" x2="460.5" y2="85.70" stroke="#222" stroke-width="1"/>
<line x1="458.5" y1="61.70" x2="460.5" y2="61.70" stroke="#222" stroke-width="1"/>
<line x1="458.5" y1="37.70" x2="460.5" y2="37.70" stroke="#222" stroke-width="1"/>
<line x1="456.5" y1="205.1" x2="460.5" y2="205.1" stroke="#222" stroke-width="1"/>
<text x="453.8" y="208.2" font-size="10.6" text-anchor="end" >0.05</text>
<line x1="456.5" y1="214.3" x2="460.5" y2="214.3" stroke="#222" stroke-width="1"/>
<text x="453.8" y="217.4" font-size="10.6" text-anchor="end" >0.00</text>
<line x1="458.5" y1="200.4" x2="460.5" y2="200.4" stroke="#222" stroke-width="1"/>
<line x1="458.5" y1="209.8" x2="460.5" y2="209.8" stroke="#222" stroke-width="1"/>
<rect x="456.5" y="193.2" width="8" height="4.8" fill="#fff"/>
<line x1="456.0" y1="196.2" x2="465.0" y2="191.4" stroke="#222" stroke-width="1.1"/>
<line x1="456.0" y1="199.2" x2="465.0" y2="194.4" stroke="#222" stroke-width="1.1"/>
<line x1="460.50" y1="214.3" x2="460.50" y2="217.8" stroke="#222" stroke-width="1"/>
<text x="460.5" y="228.5" font-size="10.3" text-anchor="middle" >0.0</text>
<line x1="489.30" y1="214.3" x2="489.30" y2="216.3" stroke="#222" stroke-width="1"/>
<line x1="518.10" y1="214.3" x2="518.10" y2="217.8" stroke="#222" stroke-width="1"/>
<text x="518.1" y="228.5" font-size="10.3" text-anchor="middle" >0.1</text>
<line x1="546.90" y1="214.3" x2="546.90" y2="216.3" stroke="#222" stroke-width="1"/>
<line x1="575.70" y1="214.3" x2="575.70" y2="217.8" stroke="#222" stroke-width="1"/>
<text x="575.7" y="228.5" font-size="10.3" text-anchor="middle" >0.2</text>
<line x1="604.50" y1="214.3" x2="604.50" y2="216.3" stroke="#222" stroke-width="1"/>
<line x1="633.30" y1="214.3" x2="633.30" y2="217.8" stroke="#222" stroke-width="1"/>
<text x="633.3" y="228.5" font-size="10.3" text-anchor="middle" >0.3</text>
<line x1="662.10" y1="214.3" x2="662.10" y2="216.3" stroke="#222" stroke-width="1"/>
<line x1="690.90" y1="214.3" x2="690.90" y2="217.8" stroke="#222" stroke-width="1"/>
<text x="690.9" y="228.5" font-size="10.3" text-anchor="middle" >0.4</text>
<text x="584" y="240.8" font-size="11.1" text-anchor="middle" >Pb(II) concentration (mM)</text>
<text transform="translate(431.2,112.2) rotate(-90)" font-size="10.9" text-anchor="middle">An/Ao</text>
<rect x="498.10" y="186.70" width="4.8" height="4.8" fill="#FF5A0A"/>
<rect x="521.80" y="168.20" width="4.8" height="4.8" fill="#FF5A0A"/>
<rect x="543.70" y="157.10" width="4.8" height="4.8" fill="#FF5A0A"/>
<rect x="563.90" y="151.10" width="4.8" height="4.8" fill="#FF5A0A"/>
<rect x="582.10" y="146.80" width="4.8" height="4.8" fill="#FF5A0A"/>
<rect x="598.90" y="137.10" width="4.8" height="4.8" fill="#FF5A0A"/>
<rect x="615.10" y="124.90" width="4.8" height="4.8" fill="#FF5A0A"/>
<rect x="629.30" y="107.80" width="4.8" height="4.8" fill="#FF5A0A"/>
<rect x="643.00" y="88.80" width="4.8" height="4.8" fill="#FF5A0A"/>
<rect x="655.80" y="72.50" width="4.8" height="4.8" fill="#FF5A0A"/>
<rect x="668.00" y="55.20" width="4.8" height="4.8" fill="#FF5A0A"/>
<rect x="679.60" y="38.50" width="4.8" height="4.8" fill="#FF5A0A"/>
<rect x="689.90" y="35.30" width="4.8" height="4.8" fill="#FF5A0A"/>
<rect x="699.70" y="33.50" width="4.8" height="4.8" fill="#FF5A0A"/>
<g clip-path="url(#clipBot)" fill="none" stroke-width="1.4" stroke-linejoin="round">
<path d="M102.97,599.93 L103.27,603.21 L103.56,606.49 L103.85,609.76 L104.14,613.04 L104.43,616.31 L104.71,619.58 L104.99,622.86 L105.26,626.13 L105.54,629.40 L105.81,632.67 L106.08,635.94 L106.34,639.20 L106.61,642.47 L106.88,645.74 L107.14,649.00 L107.41,652.26 L107.67,655.53 L107.93,658.79 L108.20,662.05 L108.46,665.31 L108.73,668.57 L108.99,671.83 L109.26,675.08 L109.52,678.34 L109.79,681.59 L110.06,684.85 L110.34,688.10 L110.61,691.36 L110.89,694.61 L111.17,697.86 L111.45,701.11 L111.73,704.36 L112.02,707.60 L112.31,710.85 L112.61,714.10 L112.91,717.34 L113.21,720.59 L113.52,723.83 L113.84,727.08 L114.15,730.32 L114.48,733.56 L114.81,736.80 L115.14,740.04 L115.48,743.28 L115.83,746.51 L116.18,749.75 L116.54,752.99 L116.91,756.22 L117.28,759.46 L117.66,762.69 L118.05,765.92 L118.44,769.16 L118.85,772.39 L119.26,775.62 L119.68,778.85 L120.11,782.07 L120.54,785.30 L120.99,788.53 L121.45,791.76 L121.91,794.98 L122.39,798.21 L122.87,801.43 L123.37,804.65 L123.88,807.88 L124.39,811.10 L124.92,814.32 L125.46,817.54 L126.01,820.76 L126.57,823.98 L127.15,827.19 L127.73,830.41 L128.33,833.63 L128.94,836.84 L129.57,840.06 L130.21,843.27 L130.86,846.48 L131.52,849.70 L132.20,852.91 L132.89,856.12 L133.60,859.33 L134.32,862.54 L135.06,865.75 L135.81,868.96 L136.57,872.16 L137.35,875.37 L138.15,878.58 L138.96,881.78 L139.79,884.99 L140.64,888.19 L141.51,891.39 L142.44,894.55 L143.43,897.68 L144.51,900.75 L145.71,903.75 L147.04,906.66 L148.53,909.47 L150.20,912.15 L152.06,914.70 L154.14,917.09 L156.47,919.31 L159.05,921.26 L161.88,922.70 L164.96,923.36 L168.26,923.29 L171.71,922.98 L175.22,922.88 L178.66,922.93 L181.89,922.79 L184.75,922.10 L187.10,920.55 L188.96,918.14 L190.50,915.13 L191.88,911.81 L193.28,908.46 L194.85,905.35 L196.61,902.50 L198.53,899.87 L200.61,897.44 L202.81,895.15 L205.11,892.96 L207.49,890.84 L209.94,888.75 L212.41,886.65 L214.88,884.52 L217.32,882.34 L219.68,880.09 L221.93,877.75 L224.04,875.31 L225.96,872.74 L227.67,870.02 L229.13,867.15 L230.36,864.13 L231.44,861.01 L232.43,857.83 L233.40,854.63 L234.42,851.45 L235.55,848.33 L236.86,845.32 L238.36,842.41 L240.01,839.60 L241.77,836.85 L243.61,834.15 L245.48,831.47 L247.34,828.80 L249.16,826.10 L250.89,823.37 L252.51,820.57 L253.96,817.69 L255.24,814.71 L256.40,811.67 L257.50,808.59 L258.59,805.50 L259.74,802.42 L260.99,799.38 L262.32,796.38 L263.73,793.42 L265.20,790.48 L266.72,787.57 L268.28,784.68 L269.86,781.81 L271.46,778.95 L273.06,776.11 L274.64,773.28 L276.21,770.45 L277.75,767.62 L279.28,764.78 L280.79,761.94 L282.27,759.08 L283.73,756.21 L285.16,753.31 L286.57,750.39 L287.95,747.43 L289.30,744.44 L290.63,741.41 L291.92,738.34 L293.18,735.22 L294.45,732.08 L295.75,728.97 L297.13,725.92 L298.64,722.98 L300.30,720.20 L302.17,717.62 L304.29,715.27 L306.69,713.20 L309.41,711.46 L312.46,710.08 L315.72,709.13 L319.06,708.66 L322.35,708.71 L325.48,709.36 L328.31,710.64 L330.74,712.60 L332.79,715.11 L334.58,717.96 L336.21,720.94 L337.74,723.94 L339.19,726.95 L340.57,729.96 L341.89,732.98 L343.15,736.00 L344.38,739.04 L345.57,742.08 L346.73,745.13 L347.87,748.19 L348.98,751.25 L350.06,754.33 L351.12,757.41 L352.16,760.50 L353.17,763.59 L354.16,766.70 L355.13,769.81 L356.08,772.92 L357.00,776.05 L357.90,779.18 L358.78,782.31 L359.65,785.45 L360.49,788.60 L361.31,791.75 L362.11,794.91 L362.89,798.08 L363.66,801.24 L364.41,804.42 L365.14,807.60 L365.85,810.78 L366.55,813.97 L367.23,817.16 L367.90,820.35 L368.55,823.55 L369.19,826.76 L369.81,829.96 L370.42,833.17 L371.02,836.39 L371.61,839.60 L372.18,842.82 L372.74,846.04 L373.29,849.27 L373.83,852.50 L374.36,855.72 L374.88,858.96 L375.39,862.19 L375.89,865.42 L376.38,868.66 L376.87,871.90 L377.35,875.13 L377.82,878.37 L378.28,881.61 L378.74,884.85 L379.20,888.09 L379.65,891.34 L380.10,894.58 L380.55,897.82 L381.00,901.06 L381.44,904.30 L381.89,907.55 L382.34,910.79 L382.79,914.03 L383.24,917.27 L383.70,920.51 L384.15,923.74 L384.62,926.98 L385.09,930.22 L385.56,933.45 L386.04,936.68 L386.53,939.91 L387.03,943.14 L387.54,946.37 L388.06,949.59 L388.58,952.81 L389.12,956.03 L389.67,959.25 L390.24,962.47 L390.81,965.68 L391.41,968.89 L392.01,972.09 L392.64,975.29 L393.28,978.49 L393.93,981.68 L394.61,984.88 L395.30,988.06 L396.01,991.25 L396.75,994.42 L397.50,997.60 L398.28,1000.77 L399.08,1003.93 L399.90,1007.09 L400.75,1010.25 L401.63,1013.39 L402.56,1016.52 L403.57,1019.62 L404.66,1022.68 L405.86,1025.69 L407.19,1028.65 L408.65,1031.55 L410.28,1034.37 L412.08,1037.11 L414.06,1039.76 L416.20,1042.30 L418.49,1044.72 L420.92,1047.00 L423.48,1049.14 L426.15,1051.11 L428.92,1052.90 L431.78,1054.50 L434.72,1055.89 L437.71,1057.10 L440.77,1058.16 L443.86,1059.10 L446.99,1059.96 L450.13,1060.77 L453.29,1061.55 L456.46,1062.33 L459.63,1063.10 L462.80,1063.85 L465.98,1064.60 L469.17,1065.33 L472.36,1066.05 L475.56,1066.76 L478.76,1067.45 L481.96,1068.12 L485.17,1068.78 L488.39,1069.42 L491.60,1070.04 L494.82,1070.64 L498.04,1071.22 L501.26,1071.78 L504.49,1072.32 L507.72,1072.83 L510.95,1073.33 L514.18,1073.81 L517.41,1074.27 L520.64,1074.72 L523.88,1075.16 L527.12,1075.58 L530.36,1075.99 L533.60,1076.38 L536.84,1076.77 L540.08,1077.15 L543.32,1077.52 L546.57,1077.88 L549.81,1078.24 L553.06,1078.59 L556.31,1078.94 L559.55,1079.28 L562.80,1079.62 L566.05,1079.95 L569.30,1080.28 L572.55,1080.60 L575.80,1080.92 L579.05,1081.23 L582.30,1081.54 L585.56,1081.85 L588.81,1082.15 L592.06,1082.44 L595.32,1082.73 L598.57,1083.02 L601.83,1083.31 L605.08,1083.59 L608.34,1083.86 L611.60,1084.14 L614.85,1084.41 L618.11,1084.67 L621.37,1084.94 L624.63,1085.19 L627.89,1085.45 L631.15,1085.71 L634.40,1085.96 L637.66,1086.20 L640.92,1086.45 L644.18,1086.69 L647.44,1086.93 L650.70,1087.17 L653.96,1087.40 L657.22,1087.64 L660.48,1087.87 L663.74,1088.10 L667.01,1088.33 L670.27,1088.55 L673.53,1088.77 L676.79,1089.00 L680.05,1089.22 L683.31,1089.44 L686.57,1089.65 L689.83,1089.87 L693.09,1090.09 L696.35,1090.30 L699.61,1090.51 L702.87,1090.73 L706.13,1090.94 L709.39,1091.15 L712.65,1091.36 L715.91,1091.57 L719.17,1091.78 L722.43,1091.99 L725.69,1092.20 L728.94,1092.41 L732.20,1092.62 L735.46,1092.83 L738.72,1093.04 L741.97,1093.25" stroke="#4A4A4A"/>
<path d="M103.52,600.05 L103.91,603.17 L104.28,606.29 L104.65,609.41 L105.01,612.53 L105.36,615.65 L105.71,618.78 L106.04,621.91 L106.38,625.03 L106.71,628.17 L107.03,631.30 L107.35,634.43 L107.66,637.56 L107.97,640.70 L108.27,643.84 L108.57,646.97 L108.87,650.11 L109.16,653.25 L109.45,656.39 L109.74,659.53 L110.03,662.68 L110.31,665.82 L110.60,668.96 L110.88,672.11 L111.16,675.25 L111.44,678.40 L111.72,681.54 L112.00,684.69 L112.28,687.83 L112.56,690.98 L112.84,694.12 L113.13,697.27 L113.41,700.42 L113.70,703.56 L113.99,706.71 L114.28,709.85 L114.57,713.00 L114.87,716.14 L115.17,719.29 L115.48,722.43 L115.79,725.58 L116.10,728.72 L116.42,731.86 L116.74,735.00 L117.07,738.14 L117.41,741.28 L117.75,744.42 L118.09,747.56 L118.45,750.69 L118.81,753.83 L119.18,756.96 L119.55,760.10 L119.94,763.23 L120.33,766.36 L120.73,769.49 L121.14,772.61 L121.56,775.74 L121.99,778.86 L122.43,781.98 L122.88,785.10 L123.34,788.22 L123.81,791.34 L124.29,794.45 L124.78,797.56 L125.28,800.67 L125.80,803.78 L126.33,806.89 L126.87,809.99 L127.43,813.09 L127.99,816.19 L128.58,819.28 L129.17,822.37 L129.78,825.47 L130.41,828.55 L131.05,831.64 L131.70,834.72 L132.37,837.80 L133.06,840.87 L133.76,843.95 L134.48,847.01 L135.22,850.08 L135.97,853.14 L136.74,856.20 L137.53,859.26 L138.34,862.31 L139.16,865.36 L140.01,868.41 L140.87,871.45 L141.76,874.49 L142.67,877.51 L143.62,880.53 L144.62,883.53 L145.67,886.52 L146.78,889.48 L147.96,892.42 L149.22,895.33 L150.56,898.21 L152.00,901.05 L153.55,903.82 L155.31,906.38 L157.35,908.56 L159.74,910.26 L162.46,911.57 L165.42,912.64 L168.55,913.64 L171.74,914.72 L174.92,915.94 L178.01,917.09 L180.94,917.88 L183.65,918.05 L186.07,917.30 L188.19,915.54 L190.12,913.12 L192.01,910.43 L193.97,907.81 L196.02,905.34 L198.15,902.99 L200.35,900.75 L202.61,898.60 L204.93,896.51 L207.29,894.47 L209.68,892.45 L212.10,890.44 L214.51,888.42 L216.90,886.36 L219.23,884.26 L221.49,882.10 L223.65,879.85 L225.67,877.51 L227.54,875.05 L229.23,872.47 L230.71,869.73 L231.95,866.83 L232.97,863.77 L233.85,860.62 L234.74,857.46 L235.75,854.38 L237.01,851.45 L238.62,848.75 L240.50,846.23 L242.56,843.83 L244.71,841.49 L246.86,839.15 L248.90,836.74 L250.79,834.24 L252.53,831.66 L254.15,828.99 L255.66,826.25 L257.08,823.46 L258.41,820.61 L259.69,817.73 L260.91,814.82 L262.11,811.89 L263.30,808.96 L264.55,806.06 L265.94,803.25 L267.54,800.59 L269.44,798.12 L271.55,795.79 L273.68,793.46 L275.62,791.01 L277.32,788.39 L278.80,785.62 L280.14,782.76 L281.38,779.84 L282.60,776.92 L283.82,774.01 L285.05,771.12 L286.29,768.23 L287.53,765.36 L288.79,762.48 L290.06,759.61 L291.35,756.73 L292.65,753.84 L293.96,750.93 L295.29,748.01 L296.68,745.11 L298.15,742.26 L299.76,739.49 L301.54,736.86 L303.54,734.39 L305.79,732.13 L308.33,730.12 L311.13,728.44 L314.08,727.20 L317.12,726.50 L320.16,726.46 L323.14,727.06 L326.01,728.23 L328.73,729.89 L331.25,731.95 L333.53,734.33 L335.53,736.95 L337.19,739.73 L338.51,742.58 L339.62,745.47 L340.71,748.38 L341.83,751.28 L342.99,754.19 L344.18,757.10 L345.39,760.02 L346.62,762.94 L347.85,765.86 L349.09,768.79 L350.32,771.73 L351.54,774.67 L352.74,777.62 L353.91,780.58 L355.04,783.54 L356.14,786.52 L357.19,789.50 L358.19,792.50 L359.14,795.50 L360.05,798.51 L360.92,801.53 L361.74,804.56 L362.53,807.60 L363.28,810.65 L364.00,813.70 L364.69,816.76 L365.35,819.83 L365.99,822.90 L366.60,825.98 L367.19,829.07 L367.76,832.16 L368.31,835.25 L368.85,838.35 L369.38,841.46 L369.90,844.57 L370.41,847.68 L370.91,850.80 L371.42,853.92 L371.92,857.05 L372.43,860.17 L372.94,863.30 L373.46,866.43 L373.98,869.56 L374.52,872.70 L375.07,875.83 L375.63,878.97 L376.20,882.10 L376.77,885.23 L377.35,888.37 L377.94,891.50 L378.52,894.63 L379.11,897.75 L379.70,900.88 L380.29,903.99 L380.87,907.11 L381.46,910.22 L382.03,913.32 L382.60,916.42 L383.17,919.51 L383.72,922.60 L384.27,925.68 L384.80,928.75 L385.32,931.81 L385.83,934.87 L386.32,937.91 L386.80,940.95 L387.26,943.97 L387.72,947.00 L388.17,950.02 L388.61,953.04 L389.06,956.05 L389.50,959.07 L389.95,962.10 L390.41,965.13 L390.88,968.16 L391.36,971.21 L391.85,974.26 L392.36,977.33 L392.90,980.41 L393.45,983.51 L394.03,986.62 L394.64,989.75 L395.29,992.90 L395.96,996.08 L396.67,999.28 L397.43,1002.50 L398.23,1005.73 L399.08,1008.96 L399.99,1012.18 L400.97,1015.37 L402.02,1018.52 L403.14,1021.63 L404.35,1024.68 L405.66,1027.66 L407.05,1030.55 L408.55,1033.35 L410.16,1036.05 L411.88,1038.62 L413.73,1041.07 L415.70,1043.38 L417.81,1045.53 L420.04,1047.54 L422.39,1049.41 L424.85,1051.15 L427.42,1052.76 L430.07,1054.26 L432.82,1055.66 L435.63,1056.95 L438.52,1058.15 L441.46,1059.27 L444.45,1060.32 L447.49,1061.30 L450.55,1062.22 L453.64,1063.10 L456.74,1063.93 L459.85,1064.73 L462.96,1065.50 L466.07,1066.25 L469.18,1066.97 L472.29,1067.66 L475.40,1068.33 L478.51,1068.98 L481.62,1069.61 L484.73,1070.21 L487.84,1070.79 L490.95,1071.35 L494.06,1071.89 L497.17,1072.42 L500.29,1072.92 L503.40,1073.41 L506.51,1073.88 L509.63,1074.34 L512.74,1074.78 L515.86,1075.21 L518.97,1075.62 L522.09,1076.03 L525.21,1076.42 L528.33,1076.80 L531.45,1077.17 L534.57,1077.53 L537.69,1077.88 L540.81,1078.22 L543.94,1078.56 L547.06,1078.89 L550.19,1079.21 L553.32,1079.53 L556.45,1079.85 L559.58,1080.16 L562.71,1080.47 L565.84,1080.78 L568.97,1081.08 L572.11,1081.38 L575.25,1081.67 L578.38,1081.97 L581.52,1082.26 L584.66,1082.55 L587.80,1082.83 L590.94,1083.11 L594.08,1083.39 L597.23,1083.67 L600.37,1083.94 L603.51,1084.21 L606.66,1084.47 L609.80,1084.74 L612.95,1085.00 L616.10,1085.26 L619.24,1085.52 L622.39,1085.77 L625.54,1086.02 L628.69,1086.27 L631.84,1086.51 L634.99,1086.76 L638.14,1087.00 L641.28,1087.24 L644.43,1087.47 L647.58,1087.70 L650.73,1087.94 L653.88,1088.16 L657.03,1088.39 L660.18,1088.61 L663.33,1088.84 L666.48,1089.06 L669.63,1089.27 L672.78,1089.49 L675.93,1089.70 L679.08,1089.91 L682.23,1090.12 L685.38,1090.33 L688.53,1090.53 L691.67,1090.74 L694.82,1090.94 L697.97,1091.14 L701.11,1091.33 L704.26,1091.53 L707.40,1091.72 L710.54,1091.92 L713.69,1092.11 L716.83,1092.30 L719.97,1092.48 L723.11,1092.67 L726.25,1092.85 L729.39,1093.03 L732.53,1093.21 L735.66,1093.39 L738.80,1093.57 L741.93,1093.75" stroke="#F02244"/>
<path d="M104.20,600.01 L104.61,603.05 L105.02,606.09 L105.42,609.13 L105.81,612.18 L106.19,615.22 L106.57,618.26 L106.93,621.31 L107.30,624.35 L107.65,627.40 L108.00,630.44 L108.35,633.49 L108.69,636.54 L109.02,639.58 L109.35,642.63 L109.68,645.68 L110.00,648.73 L110.32,651.78 L110.64,654.83 L110.95,657.88 L111.26,660.93 L111.56,663.98 L111.87,667.03 L112.17,670.08 L112.47,673.13 L112.77,676.18 L113.07,679.23 L113.37,682.28 L113.67,685.33 L113.97,688.38 L114.27,691.43 L114.57,694.48 L114.87,697.53 L115.18,700.57 L115.48,703.62 L115.79,706.67 L116.10,709.72 L116.41,712.76 L116.73,715.81 L117.04,718.86 L117.37,721.90 L117.69,724.95 L118.02,727.99 L118.36,731.03 L118.70,734.07 L119.04,737.12 L119.39,740.16 L119.75,743.20 L120.11,746.23 L120.48,749.27 L120.85,752.31 L121.24,755.34 L121.63,758.38 L122.02,761.41 L122.43,764.44 L122.84,767.47 L123.27,770.50 L123.70,773.53 L124.14,776.56 L124.59,779.58 L125.05,782.61 L125.52,785.63 L126.00,788.65 L126.49,791.67 L127.00,794.69 L127.51,797.70 L128.04,800.72 L128.58,803.73 L129.13,806.74 L129.70,809.75 L130.27,812.76 L130.86,815.76 L131.47,818.77 L132.09,821.77 L132.72,824.77 L133.37,827.77 L134.03,830.76 L134.71,833.75 L135.40,836.74 L136.11,839.73 L136.84,842.72 L137.58,845.70 L138.34,848.69 L139.12,851.66 L139.91,854.64 L140.72,857.62 L141.55,860.59 L142.40,863.56 L143.27,866.52 L144.16,869.49 L145.06,872.45 L145.99,875.41 L146.95,878.35 L147.96,881.27 L149.05,884.13 L150.24,886.92 L151.55,889.63 L153.01,892.22 L154.63,894.69 L156.45,897.00 L158.48,899.15 L160.75,901.12 L163.27,902.88 L166.00,904.49 L168.83,906.07 L171.65,907.72 L174.36,909.52 L177.00,911.32 L179.61,912.95 L182.25,914.22 L184.93,914.91 L187.55,914.73 L190.05,913.58 L192.38,911.72 L194.56,909.46 L196.65,907.00 L198.74,904.53 L200.92,902.23 L203.25,900.22 L205.70,898.46 L208.24,896.88 L210.83,895.39 L213.43,893.91 L216.01,892.38 L218.52,890.71 L220.95,888.88 L223.27,886.90 L225.47,884.76 L227.53,882.47 L229.42,880.05 L231.14,877.48 L232.67,874.78 L233.98,871.94 L235.09,869.00 L236.10,866.01 L237.09,863.03 L238.16,860.12 L239.40,857.35 L240.90,854.78 L242.76,852.46 L245.05,850.45 L247.63,848.63 L250.14,846.77 L252.32,844.66 L254.17,842.31 L255.74,839.75 L257.10,837.03 L258.32,834.20 L259.46,831.30 L260.58,828.38 L261.75,825.48 L263.04,822.65 L264.50,819.94 L266.21,817.38 L268.15,814.98 L270.22,812.67 L272.30,810.38 L274.27,808.03 L276.04,805.57 L277.61,803.00 L279.01,800.32 L280.28,797.58 L281.45,794.77 L282.55,791.92 L283.62,789.05 L284.69,786.18 L285.79,783.32 L286.95,780.48 L288.16,777.67 L289.41,774.89 L290.71,772.12 L292.04,769.37 L293.41,766.64 L294.80,763.92 L296.21,761.21 L297.63,758.51 L299.12,755.85 L300.74,753.28 L302.56,750.87 L304.67,748.66 L307.14,746.71 L310.04,745.07 L313.28,743.83 L316.66,743.04 L319.94,742.80 L322.93,743.16 L325.61,744.08 L328.00,745.50 L330.16,747.32 L332.12,749.48 L333.91,751.90 L335.58,754.50 L337.17,757.20 L338.70,759.94 L340.20,762.68 L341.66,765.44 L343.09,768.20 L344.47,770.97 L345.82,773.75 L347.13,776.55 L348.40,779.35 L349.64,782.16 L350.83,784.98 L351.99,787.82 L353.11,790.66 L354.19,793.52 L355.23,796.39 L356.24,799.27 L357.20,802.16 L358.13,805.07 L359.02,807.98 L359.88,810.91 L360.71,813.85 L361.51,816.79 L362.29,819.75 L363.04,822.71 L363.76,825.68 L364.47,828.66 L365.16,831.64 L365.83,834.62 L366.49,837.61 L367.14,840.61 L367.77,843.60 L368.40,846.60 L369.03,849.60 L369.65,852.60 L370.27,855.60 L370.88,858.60 L371.49,861.60 L372.10,864.60 L372.71,867.60 L373.31,870.61 L373.90,873.61 L374.50,876.61 L375.08,879.62 L375.67,882.62 L376.24,885.63 L376.82,888.63 L377.39,891.64 L377.95,894.65 L378.50,897.66 L379.05,900.67 L379.60,903.69 L380.14,906.70 L380.67,909.72 L381.19,912.73 L381.71,915.75 L382.22,918.77 L382.72,921.80 L383.22,924.82 L383.71,927.84 L384.19,930.87 L384.66,933.90 L385.12,936.93 L385.57,939.97 L386.02,943.00 L386.47,946.04 L386.91,949.07 L387.35,952.11 L387.79,955.15 L388.24,958.18 L388.69,961.22 L389.15,964.25 L389.62,967.28 L390.10,970.31 L390.59,973.33 L391.09,976.36 L391.62,979.37 L392.16,982.39 L392.72,985.40 L393.31,988.40 L393.92,991.40 L394.55,994.39 L395.22,997.38 L395.91,1000.36 L396.64,1003.33 L397.40,1006.29 L398.19,1009.25 L399.03,1012.19 L399.92,1015.12 L400.86,1018.03 L401.88,1020.92 L402.98,1023.77 L404.17,1026.58 L405.47,1029.35 L406.87,1032.07 L408.40,1034.74 L410.06,1037.35 L411.86,1039.89 L413.78,1042.34 L415.81,1044.70 L417.95,1046.94 L420.19,1049.06 L422.53,1051.04 L424.95,1052.86 L427.44,1054.55 L430.01,1056.10 L432.65,1057.53 L435.35,1058.84 L438.11,1060.05 L440.92,1061.15 L443.78,1062.17 L446.68,1063.11 L449.61,1063.97 L452.58,1064.77 L455.57,1065.51 L458.58,1066.21 L461.60,1066.87 L464.63,1067.49 L467.67,1068.10 L470.70,1068.69 L473.73,1069.27 L476.77,1069.83 L479.80,1070.39 L482.83,1070.92 L485.86,1071.45 L488.90,1071.96 L491.93,1072.46 L494.96,1072.95 L497.99,1073.43 L501.02,1073.89 L504.05,1074.35 L507.08,1074.79 L510.11,1075.23 L513.14,1075.65 L516.17,1076.07 L519.20,1076.47 L522.23,1076.87 L525.26,1077.26 L528.30,1077.64 L531.33,1078.01 L534.36,1078.38 L537.40,1078.73 L540.43,1079.08 L543.47,1079.43 L546.50,1079.76 L549.54,1080.10 L552.58,1080.42 L555.62,1080.74 L558.66,1081.06 L561.70,1081.37 L564.75,1081.67 L567.79,1081.97 L570.84,1082.27 L573.88,1082.56 L576.93,1082.84 L579.98,1083.13 L583.03,1083.40 L586.08,1083.68 L589.13,1083.95 L592.18,1084.21 L595.23,1084.47 L598.29,1084.73 L601.34,1084.99 L604.40,1085.24 L607.45,1085.48 L610.51,1085.73 L613.56,1085.97 L616.62,1086.21 L619.68,1086.44 L622.74,1086.67 L625.80,1086.90 L628.85,1087.13 L631.91,1087.35 L634.97,1087.57 L638.03,1087.79 L641.09,1088.00 L644.15,1088.22 L647.21,1088.43 L650.27,1088.64 L653.33,1088.84 L656.39,1089.05 L659.45,1089.25 L662.51,1089.46 L665.57,1089.66 L668.63,1089.86 L671.69,1090.05 L674.75,1090.25 L677.81,1090.45 L680.87,1090.64 L683.93,1090.83 L686.99,1091.03 L690.04,1091.22 L693.10,1091.41 L696.16,1091.60 L699.22,1091.79 L702.27,1091.98 L705.33,1092.17 L708.38,1092.36 L711.44,1092.55 L714.49,1092.74 L717.54,1092.93 L720.60,1093.12 L723.65,1093.32 L726.70,1093.51 L729.75,1093.70 L732.80,1093.89 L735.85,1094.09 L738.89,1094.28 L741.94,1094.48" stroke="#3366EE"/>
<path d="M105.20,599.99 L105.47,602.96 L105.75,605.94 L106.03,608.91 L106.31,611.88 L106.60,614.85 L106.89,617.82 L107.18,620.79 L107.47,623.76 L107.76,626.73 L108.06,629.71 L108.36,632.68 L108.66,635.65 L108.97,638.62 L109.28,641.60 L109.59,644.57 L109.90,647.54 L110.22,650.51 L110.54,653.48 L110.87,656.46 L111.19,659.43 L111.52,662.40 L111.85,665.37 L112.19,668.34 L112.53,671.31 L112.87,674.28 L113.21,677.26 L113.56,680.23 L113.91,683.20 L114.26,686.17 L114.62,689.14 L114.98,692.10 L115.35,695.07 L115.71,698.04 L116.08,701.01 L116.46,703.98 L116.84,706.94 L117.22,709.91 L117.60,712.88 L117.99,715.84 L118.38,718.81 L118.78,721.77 L119.18,724.73 L119.58,727.70 L119.99,730.66 L120.40,733.62 L120.81,736.58 L121.23,739.54 L121.65,742.50 L122.08,745.46 L122.51,748.41 L122.94,751.37 L123.38,754.33 L123.82,757.28 L124.26,760.24 L124.71,763.19 L125.17,766.14 L125.62,769.09 L126.08,772.04 L126.55,774.99 L127.02,777.94 L127.49,780.89 L127.97,783.83 L128.46,786.78 L128.94,789.72 L129.43,792.66 L129.93,795.60 L130.43,798.54 L130.94,801.48 L131.45,804.42 L131.96,807.35 L132.49,810.29 L133.02,813.22 L133.57,816.15 L134.12,819.08 L134.70,822.01 L135.28,824.93 L135.89,827.85 L136.51,830.77 L137.15,833.69 L137.81,836.60 L138.50,839.51 L139.21,842.42 L139.94,845.32 L140.70,848.22 L141.49,851.12 L142.31,854.01 L143.16,856.90 L144.05,859.79 L144.96,862.67 L145.92,865.55 L146.92,868.41 L147.97,871.25 L149.09,874.05 L150.28,876.81 L151.56,879.51 L152.93,882.15 L154.41,884.70 L156.00,887.17 L157.72,889.54 L159.57,891.79 L161.57,893.93 L163.72,895.94 L165.99,897.87 L168.33,899.79 L170.68,901.77 L173.00,903.89 L175.29,906.09 L177.62,908.16 L180.04,909.91 L182.63,911.13 L185.36,911.75 L188.15,911.78 L190.90,911.26 L193.52,910.21 L195.99,908.73 L198.36,906.94 L200.69,904.97 L203.01,902.94 L205.39,900.98 L207.86,899.22 L210.47,897.78 L213.26,896.76 L216.13,895.95 L218.89,895.02 L221.43,893.70 L223.72,891.98 L225.81,889.93 L227.74,887.62 L229.53,885.13 L231.22,882.54 L232.85,879.91 L234.46,877.31 L236.04,874.77 L237.49,872.19 L238.79,869.50 L240.01,866.77 L241.28,864.10 L242.74,861.60 L244.51,859.37 L246.67,857.47 L249.09,855.79 L251.58,854.14 L253.94,852.34 L256.04,850.27 L257.87,847.94 L259.47,845.40 L260.84,842.70 L262.04,839.88 L263.08,836.97 L264.07,834.07 L265.12,831.23 L266.36,828.55 L267.89,826.10 L269.81,823.94 L271.99,821.97 L274.25,820.04 L276.36,817.96 L278.19,815.65 L279.76,813.12 L281.12,810.42 L282.32,807.61 L283.40,804.74 L284.43,801.85 L285.45,798.99 L286.49,796.20 L287.56,793.46 L288.68,790.76 L289.85,788.10 L291.09,785.46 L292.40,782.83 L293.81,780.21 L295.31,777.57 L296.91,774.92 L298.64,772.25 L300.48,769.63 L302.44,767.12 L304.51,764.77 L306.71,762.66 L309.03,760.84 L311.47,759.37 L314.03,758.32 L316.71,757.75 L319.51,757.71 L322.42,758.25 L325.32,759.26 L328.11,760.67 L330.68,762.38 L332.98,764.31 L335.03,766.45 L336.86,768.76 L338.50,771.22 L339.99,773.80 L341.35,776.48 L342.61,779.23 L343.81,782.03 L344.97,784.85 L346.13,787.66 L347.29,790.46 L348.45,793.25 L349.61,796.02 L350.77,798.79 L351.92,801.55 L353.06,804.31 L354.18,807.06 L355.29,809.82 L356.37,812.58 L357.43,815.35 L358.46,818.12 L359.46,820.90 L360.42,823.70 L361.35,826.51 L362.23,829.33 L363.07,832.17 L363.86,835.04 L364.61,837.92 L365.31,840.82 L365.98,843.74 L366.61,846.67 L367.22,849.61 L367.80,852.56 L368.36,855.52 L368.91,858.48 L369.44,861.45 L369.97,864.42 L370.49,867.39 L371.02,870.35 L371.54,873.31 L372.08,876.27 L372.62,879.22 L373.16,882.17 L373.70,885.12 L374.25,888.06 L374.80,891.01 L375.36,893.94 L375.92,896.88 L376.48,899.81 L377.04,902.74 L377.61,905.67 L378.17,908.59 L378.74,911.52 L379.31,914.44 L379.88,917.36 L380.46,920.28 L381.03,923.20 L381.60,926.12 L382.17,929.04 L382.75,931.96 L383.32,934.87 L383.89,937.79 L384.46,940.71 L385.03,943.63 L385.60,946.54 L386.17,949.46 L386.73,952.38 L387.30,955.30 L387.86,958.23 L388.41,961.15 L388.97,964.08 L389.52,967.00 L390.07,969.93 L390.62,972.87 L391.16,975.80 L391.69,978.74 L392.23,981.68 L392.76,984.62 L393.28,987.57 L393.80,990.51 L394.31,993.47 L394.82,996.42 L395.32,999.39 L395.83,1002.35 L396.35,1005.31 L396.91,1008.26 L397.52,1011.20 L398.22,1014.11 L399.02,1017.00 L399.94,1019.86 L400.98,1022.67 L402.14,1025.45 L403.42,1028.17 L404.81,1030.84 L406.32,1033.46 L407.93,1036.00 L409.64,1038.48 L411.45,1040.89 L413.35,1043.21 L415.35,1045.45 L417.43,1047.59 L419.59,1049.64 L421.84,1051.59 L424.15,1053.43 L426.54,1055.17 L429.00,1056.78 L431.52,1058.27 L434.10,1059.65 L436.74,1060.93 L439.42,1062.10 L442.16,1063.18 L444.93,1064.17 L447.75,1065.08 L450.60,1065.92 L453.48,1066.70 L456.39,1067.41 L459.32,1068.07 L462.28,1068.69 L465.24,1069.27 L468.22,1069.82 L471.20,1070.34 L474.19,1070.84 L477.17,1071.33 L480.16,1071.82 L483.14,1072.29 L486.11,1072.76 L489.09,1073.21 L492.06,1073.67 L495.03,1074.11 L498.00,1074.54 L500.97,1074.97 L503.93,1075.39 L506.90,1075.80 L509.86,1076.21 L512.82,1076.60 L515.78,1077.00 L518.74,1077.38 L521.70,1077.76 L524.66,1078.13 L527.62,1078.49 L530.57,1078.85 L533.53,1079.20 L536.49,1079.55 L539.45,1079.89 L542.40,1080.22 L545.36,1080.55 L548.32,1080.87 L551.28,1081.19 L554.24,1081.50 L557.20,1081.81 L560.16,1082.11 L563.13,1082.41 L566.09,1082.70 L569.06,1082.99 L572.03,1083.27 L575.00,1083.55 L577.97,1083.82 L580.94,1084.09 L583.91,1084.36 L586.89,1084.62 L589.86,1084.88 L592.84,1085.13 L595.81,1085.38 L598.79,1085.63 L601.77,1085.87 L604.75,1086.11 L607.73,1086.34 L610.72,1086.58 L613.70,1086.80 L616.68,1087.03 L619.67,1087.25 L622.65,1087.47 L625.63,1087.69 L628.62,1087.91 L631.61,1088.12 L634.59,1088.33 L637.58,1088.54 L640.57,1088.74 L643.55,1088.94 L646.54,1089.14 L649.53,1089.34 L652.51,1089.54 L655.50,1089.74 L658.49,1089.93 L661.48,1090.12 L664.46,1090.31 L667.45,1090.50 L670.44,1090.69 L673.42,1090.88 L676.41,1091.06 L679.39,1091.25 L682.38,1091.43 L685.36,1091.61 L688.35,1091.79 L691.33,1091.98 L694.32,1092.16 L697.30,1092.34 L700.28,1092.52 L703.26,1092.70 L706.24,1092.88 L709.22,1093.06 L712.20,1093.24 L715.18,1093.42 L718.15,1093.60 L721.13,1093.78 L724.10,1093.97 L727.07,1094.15 L730.05,1094.33 L733.02,1094.52 L735.99,1094.70 L738.95,1094.89 L741.92,1095.07" stroke="#3CD23C"/>
<path d="M105.89,599.94 L106.15,602.87 L106.41,605.80 L106.67,608.72 L106.94,611.65 L107.22,614.57 L107.50,617.49 L107.78,620.41 L108.07,623.33 L108.37,626.25 L108.67,629.17 L108.97,632.08 L109.28,635.00 L109.59,637.91 L109.91,640.82 L110.23,643.73 L110.55,646.64 L110.88,649.55 L111.21,652.46 L111.55,655.36 L111.89,658.27 L112.24,661.17 L112.59,664.08 L112.95,666.98 L113.30,669.88 L113.67,672.78 L114.03,675.68 L114.40,678.58 L114.78,681.48 L115.16,684.38 L115.54,687.28 L115.93,690.18 L116.31,693.07 L116.71,695.97 L117.10,698.86 L117.51,701.76 L117.91,704.65 L118.32,707.55 L118.73,710.44 L119.14,713.33 L119.56,716.22 L119.98,719.11 L120.41,722.01 L120.84,724.90 L121.27,727.79 L121.70,730.68 L122.14,733.57 L122.58,736.46 L123.03,739.35 L123.47,742.24 L123.93,745.13 L124.38,748.02 L124.84,750.91 L125.30,753.80 L125.76,756.69 L126.22,759.58 L126.69,762.47 L127.16,765.36 L127.64,768.25 L128.11,771.13 L128.59,774.03 L129.07,776.92 L129.56,779.81 L130.05,782.70 L130.54,785.59 L131.03,788.48 L131.52,791.37 L132.02,794.26 L132.52,797.15 L133.02,800.05 L133.53,802.94 L134.04,805.83 L134.55,808.72 L135.07,811.61 L135.61,814.50 L136.16,817.39 L136.72,820.27 L137.30,823.14 L137.90,826.01 L138.51,828.88 L139.16,831.73 L139.82,834.58 L140.52,837.43 L141.24,840.26 L142.00,843.08 L142.78,845.89 L143.61,848.69 L144.47,851.48 L145.37,854.26 L146.32,857.02 L147.30,859.76 L148.34,862.49 L149.43,865.19 L150.57,867.87 L151.77,870.53 L153.03,873.15 L154.35,875.74 L155.74,878.30 L157.19,880.82 L158.72,883.30 L160.33,885.74 L162.01,888.13 L163.77,890.48 L165.61,892.77 L167.53,895.01 L169.54,897.18 L171.63,899.28 L173.79,901.31 L176.04,903.25 L178.37,905.11 L180.78,906.87 L183.27,908.54 L185.82,909.99 L188.38,911.00 L190.92,911.29 L193.37,910.63 L195.76,909.13 L198.15,907.16 L200.60,905.13 L203.19,903.43 L205.97,902.42 L208.90,901.97 L211.86,901.76 L214.77,901.42 L217.55,900.71 L220.20,899.65 L222.71,898.28 L225.11,896.63 L227.38,894.76 L229.53,892.71 L231.57,890.52 L233.50,888.24 L235.33,885.90 L237.07,883.52 L238.74,881.10 L240.34,878.65 L241.89,876.19 L243.42,873.71 L244.92,871.23 L246.43,868.74 L247.94,866.26 L249.48,863.80 L251.05,861.35 L252.67,858.93 L254.33,856.53 L256.01,854.14 L257.72,851.76 L259.44,849.40 L261.18,847.05 L262.92,844.70 L264.65,842.35 L266.39,840.00 L268.10,837.65 L269.80,835.29 L271.47,832.92 L273.11,830.55 L274.71,828.15 L276.26,825.71 L277.73,823.21 L279.13,820.63 L280.44,817.96 L281.68,815.24 L282.89,812.52 L284.11,809.87 L285.38,807.35 L286.71,804.98 L288.09,802.66 L289.48,800.29 L290.86,797.76 L292.23,795.09 L293.62,792.31 L295.05,789.50 L296.55,786.71 L298.13,783.98 L299.82,781.38 L301.63,778.97 L303.61,776.79 L305.75,774.91 L308.10,773.37 L310.66,772.24 L313.41,771.51 L316.27,771.18 L319.19,771.23 L322.11,771.64 L324.95,772.40 L327.65,773.48 L330.15,774.88 L332.41,776.57 L334.44,778.52 L336.27,780.69 L337.94,783.05 L339.46,785.57 L340.88,788.20 L342.20,790.92 L343.48,793.69 L344.73,796.48 L345.98,799.25 L347.24,801.98 L348.51,804.68 L349.79,807.36 L351.06,810.02 L352.32,812.66 L353.56,815.29 L354.78,817.92 L355.97,820.55 L357.13,823.18 L358.25,825.82 L359.32,828.47 L360.34,831.14 L361.30,833.84 L362.19,836.57 L363.01,839.33 L363.76,842.13 L364.43,844.97 L365.04,847.84 L365.60,850.73 L366.11,853.65 L366.60,856.58 L367.06,859.53 L367.52,862.48 L367.98,865.43 L368.45,868.38 L368.95,871.31 L369.47,874.23 L370.02,877.14 L370.59,880.04 L371.19,882.93 L371.80,885.80 L372.43,888.67 L373.07,891.53 L373.73,894.38 L374.39,897.23 L375.06,900.07 L375.74,902.91 L376.41,905.75 L377.09,908.58 L377.76,911.41 L378.43,914.25 L379.09,917.08 L379.74,919.91 L380.38,922.75 L381.00,925.59 L381.60,928.44 L382.18,931.29 L382.75,934.14 L383.28,937.01 L383.79,939.88 L384.28,942.76 L384.74,945.65 L385.19,948.54 L385.63,951.43 L386.06,954.33 L386.47,957.23 L386.89,960.13 L387.30,963.04 L387.71,965.94 L388.12,968.85 L388.54,971.75 L388.98,974.65 L389.42,977.55 L389.88,980.44 L390.36,983.33 L390.86,986.21 L391.39,989.09 L391.94,991.96 L392.53,994.82 L393.15,997.68 L393.80,1000.52 L394.50,1003.35 L395.24,1006.17 L396.02,1008.98 L396.85,1011.78 L397.73,1014.56 L398.67,1017.33 L399.67,1020.08 L400.72,1022.82 L401.84,1025.54 L403.03,1028.24 L404.29,1030.92 L405.62,1033.56 L407.03,1036.16 L408.53,1038.70 L410.12,1041.17 L411.81,1043.57 L413.61,1045.87 L415.51,1048.08 L417.52,1050.16 L419.65,1052.13 L421.90,1053.96 L424.26,1055.67 L426.71,1057.26 L429.24,1058.73 L431.83,1060.10 L434.47,1061.37 L437.15,1062.54 L439.86,1063.63 L442.60,1064.64 L445.37,1065.57 L448.15,1066.43 L450.96,1067.23 L453.78,1067.97 L456.63,1068.66 L459.48,1069.30 L462.35,1069.90 L465.23,1070.47 L468.11,1071.01 L471.00,1071.52 L473.89,1072.02 L476.79,1072.51 L479.68,1072.99 L482.58,1073.46 L485.47,1073.91 L488.37,1074.36 L491.27,1074.80 L494.16,1075.23 L497.06,1075.65 L499.96,1076.06 L502.86,1076.47 L505.76,1076.86 L508.66,1077.25 L511.56,1077.63 L514.47,1078.00 L517.37,1078.36 L520.27,1078.72 L523.18,1079.07 L526.08,1079.41 L528.99,1079.75 L531.89,1080.08 L534.80,1080.41 L537.70,1080.72 L540.61,1081.04 L543.52,1081.34 L546.43,1081.65 L549.34,1081.94 L552.25,1082.24 L555.16,1082.53 L558.07,1082.81 L560.98,1083.09 L563.89,1083.37 L566.80,1083.64 L569.72,1083.91 L572.63,1084.17 L575.54,1084.43 L578.46,1084.69 L581.37,1084.95 L584.29,1085.20 L587.20,1085.45 L590.12,1085.69 L593.04,1085.93 L595.95,1086.17 L598.87,1086.41 L601.79,1086.64 L604.71,1086.87 L607.62,1087.10 L610.54,1087.32 L613.46,1087.54 L616.38,1087.76 L619.30,1087.98 L622.22,1088.19 L625.14,1088.41 L628.06,1088.62 L630.98,1088.82 L633.90,1089.03 L636.82,1089.23 L639.74,1089.43 L642.66,1089.63 L645.59,1089.83 L648.51,1090.02 L651.43,1090.21 L654.35,1090.41 L657.27,1090.59 L660.19,1090.78 L663.12,1090.97 L666.04,1091.15 L668.96,1091.34 L671.88,1091.52 L674.80,1091.70 L677.73,1091.88 L680.65,1092.05 L683.57,1092.23 L686.49,1092.41 L689.41,1092.58 L692.33,1092.75 L695.26,1092.93 L698.18,1093.10 L701.10,1093.27 L704.02,1093.44 L706.94,1093.61 L709.86,1093.78 L712.78,1093.95 L715.70,1094.11 L718.62,1094.28 L721.54,1094.45 L724.46,1094.62 L727.38,1094.78 L730.30,1094.95 L733.22,1095.12 L736.14,1095.28 L739.06,1095.45 L741.98,1095.62" stroke="#A86CF0"/>
<path d="M106.51,599.97 L106.80,602.80 L107.09,605.63 L107.38,608.47 L107.68,611.30 L107.98,614.13 L108.28,616.96 L108.59,619.79 L108.89,622.62 L109.21,625.45 L109.52,628.28 L109.84,631.11 L110.16,633.94 L110.49,636.77 L110.81,639.60 L111.14,642.42 L111.48,645.25 L111.82,648.08 L112.16,650.90 L112.50,653.73 L112.85,656.55 L113.20,659.38 L113.56,662.20 L113.91,665.02 L114.28,667.85 L114.64,670.67 L115.01,673.49 L115.38,676.31 L115.76,679.13 L116.14,681.95 L116.52,684.77 L116.91,687.59 L117.30,690.41 L117.69,693.22 L118.09,696.04 L118.50,698.86 L118.90,701.67 L119.31,704.49 L119.73,707.30 L120.14,710.11 L120.57,712.93 L120.99,715.74 L121.42,718.55 L121.86,721.36 L122.30,724.17 L122.74,726.98 L123.18,729.79 L123.64,732.60 L124.09,735.41 L124.55,738.21 L125.01,741.02 L125.48,743.82 L125.95,746.63 L126.43,749.43 L126.91,752.24 L127.40,755.04 L127.89,757.84 L128.38,760.64 L128.88,763.44 L129.39,766.24 L129.89,769.04 L130.41,771.84 L130.93,774.63 L131.45,777.43 L131.97,780.23 L132.51,783.02 L133.04,785.81 L133.58,788.61 L134.13,791.40 L134.68,794.19 L135.24,796.98 L135.80,799.77 L136.37,802.56 L136.94,805.35 L137.52,808.13 L138.11,810.92 L138.70,813.70 L139.32,816.48 L139.94,819.26 L140.58,822.03 L141.23,824.80 L141.90,827.56 L142.59,830.32 L143.30,833.08 L144.02,835.83 L144.78,838.57 L145.55,841.31 L146.35,844.05 L147.18,846.77 L148.03,849.49 L148.92,852.20 L149.83,854.91 L150.78,857.60 L151.75,860.29 L152.77,862.96 L153.82,865.62 L154.93,868.26 L156.09,870.87 L157.31,873.44 L158.61,875.96 L159.98,878.43 L161.43,880.85 L162.98,883.19 L164.63,885.46 L166.39,887.65 L168.25,889.76 L170.19,891.83 L172.14,893.92 L174.07,896.10 L175.91,898.42 L177.62,900.93 L179.25,903.53 L180.88,906.01 L182.58,908.16 L184.46,909.79 L186.58,910.72 L188.94,910.98 L191.51,910.72 L194.24,910.10 L197.09,909.28 L200.01,908.39 L202.96,907.60 L205.91,907.06 L208.81,906.86 L211.65,906.86 L214.40,906.84 L217.05,906.58 L219.59,905.93 L222.03,904.94 L224.38,903.63 L226.64,902.05 L228.81,900.24 L230.91,898.25 L232.94,896.12 L234.91,893.88 L236.82,891.57 L238.68,889.25 L240.49,886.94 L242.27,884.64 L244.02,882.35 L245.75,880.08 L247.45,877.82 L249.15,875.57 L250.84,873.33 L252.53,871.10 L254.23,868.88 L255.94,866.67 L257.67,864.47 L259.43,862.28 L261.22,860.09 L263.04,857.91 L264.91,855.74 L266.78,853.56 L268.67,851.37 L270.53,849.17 L272.37,846.95 L274.15,844.71 L275.88,842.42 L277.52,840.11 L279.07,837.74 L280.51,835.33 L281.85,832.87 L283.11,830.37 L284.31,827.84 L285.47,825.30 L286.61,822.74 L287.77,820.18 L288.94,817.62 L290.17,815.08 L291.47,812.57 L292.86,810.08 L294.36,807.64 L295.99,805.25 L297.78,802.91 L299.73,800.66 L301.82,798.54 L304.04,796.59 L306.37,794.85 L308.79,793.36 L311.30,792.16 L313.87,791.30 L316.49,790.82 L319.14,790.76 L321.80,791.15 L324.45,791.96 L327.05,793.15 L329.56,794.66 L331.95,796.45 L334.18,798.48 L336.22,800.70 L338.02,803.05 L339.57,805.50 L340.89,808.01 L342.06,810.56 L343.17,813.11 L344.30,815.64 L345.55,818.13 L346.95,820.57 L348.38,823.01 L349.77,825.47 L351.09,827.97 L352.37,830.49 L353.59,833.04 L354.77,835.61 L355.90,838.20 L356.98,840.82 L358.02,843.46 L359.03,846.11 L360.00,848.78 L360.93,851.47 L361.83,854.17 L362.70,856.88 L363.54,859.61 L364.35,862.34 L365.14,865.08 L365.91,867.83 L366.66,870.58 L367.39,873.34 L368.11,876.09 L368.81,878.86 L369.49,881.62 L370.16,884.39 L370.81,887.16 L371.45,889.94 L372.08,892.72 L372.70,895.50 L373.30,898.28 L373.90,901.07 L374.48,903.85 L375.05,906.64 L375.62,909.43 L376.17,912.22 L376.72,915.02 L377.26,917.81 L377.79,920.61 L378.32,923.41 L378.85,926.21 L379.37,929.00 L379.88,931.80 L380.40,934.60 L380.91,937.40 L381.41,940.21 L381.92,943.01 L382.43,945.81 L382.93,948.61 L383.44,951.41 L383.95,954.21 L384.46,957.01 L384.98,959.80 L385.49,962.60 L386.02,965.40 L386.54,968.19 L387.07,970.98 L387.61,973.78 L388.16,976.56 L388.71,979.35 L389.27,982.14 L389.84,984.92 L390.41,987.70 L391.00,990.48 L391.60,993.26 L392.21,996.03 L392.83,998.80 L393.47,1001.57 L394.12,1004.33 L394.80,1007.09 L395.51,1009.83 L396.26,1012.56 L397.05,1015.28 L397.89,1017.98 L398.79,1020.66 L399.74,1023.32 L400.77,1025.96 L401.87,1028.57 L403.06,1031.15 L404.33,1033.70 L405.69,1036.21 L407.15,1038.69 L408.71,1041.13 L410.37,1043.50 L412.12,1045.81 L413.97,1048.04 L415.91,1050.19 L417.93,1052.23 L420.04,1054.17 L422.24,1055.98 L424.53,1057.66 L426.89,1059.20 L429.33,1060.60 L431.84,1061.88 L434.40,1063.04 L437.02,1064.10 L439.67,1065.08 L442.35,1065.99 L445.05,1066.84 L447.77,1067.64 L450.51,1068.40 L453.25,1069.11 L456.01,1069.79 L458.78,1070.42 L461.56,1071.02 L464.35,1071.59 L467.15,1072.14 L469.95,1072.65 L472.76,1073.15 L475.57,1073.62 L478.39,1074.08 L481.21,1074.52 L484.03,1074.96 L486.85,1075.38 L489.67,1075.80 L492.49,1076.21 L495.31,1076.61 L498.13,1077.00 L500.95,1077.38 L503.78,1077.75 L506.60,1078.12 L509.42,1078.48 L512.25,1078.83 L515.07,1079.18 L517.90,1079.52 L520.72,1079.85 L523.55,1080.17 L526.37,1080.49 L529.20,1080.81 L532.03,1081.12 L534.85,1081.42 L537.68,1081.71 L540.51,1082.01 L543.34,1082.29 L546.17,1082.58 L549.00,1082.85 L551.83,1083.13 L554.66,1083.40 L557.49,1083.66 L560.32,1083.92 L563.15,1084.18 L565.98,1084.43 L568.81,1084.69 L571.65,1084.94 L574.48,1085.18 L577.31,1085.42 L580.15,1085.67 L582.98,1085.90 L585.82,1086.14 L588.65,1086.37 L591.49,1086.60 L594.32,1086.83 L597.16,1087.06 L600.00,1087.28 L602.83,1087.50 L605.67,1087.72 L608.51,1087.94 L611.35,1088.15 L614.18,1088.37 L617.02,1088.58 L619.86,1088.78 L622.70,1088.99 L625.54,1089.19 L628.38,1089.40 L631.22,1089.60 L634.06,1089.79 L636.89,1089.99 L639.73,1090.18 L642.57,1090.37 L645.41,1090.57 L648.25,1090.75 L651.10,1090.94 L653.94,1091.12 L656.78,1091.31 L659.62,1091.49 L662.46,1091.67 L665.30,1091.85 L668.14,1092.02 L670.98,1092.20 L673.82,1092.37 L676.66,1092.54 L679.50,1092.71 L682.34,1092.88 L685.18,1093.05 L688.03,1093.22 L690.87,1093.38 L693.71,1093.55 L696.55,1093.71 L699.39,1093.87 L702.23,1094.03 L705.07,1094.19 L707.91,1094.35 L710.75,1094.50 L713.59,1094.66 L716.43,1094.81 L719.27,1094.97 L722.11,1095.12 L724.95,1095.27 L727.79,1095.42 L730.63,1095.57 L733.47,1095.72 L736.31,1095.87 L739.14,1096.01 L741.98,1096.16" stroke="#D09A20"/>
<path d="M107.07,599.93 L107.35,602.74 L107.63,605.54 L107.92,608.34 L108.21,611.14 L108.50,613.94 L108.80,616.74 L109.11,619.54 L109.41,622.33 L109.73,625.13 L110.04,627.92 L110.36,630.71 L110.69,633.50 L111.02,636.29 L111.35,639.08 L111.69,641.86 L112.03,644.65 L112.38,647.44 L112.73,650.22 L113.08,653.00 L113.44,655.78 L113.81,658.56 L114.17,661.34 L114.54,664.12 L114.92,666.90 L115.30,669.68 L115.69,672.45 L116.07,675.23 L116.47,678.00 L116.86,680.77 L117.26,683.55 L117.67,686.32 L118.08,689.09 L118.49,691.86 L118.91,694.63 L119.33,697.40 L119.76,700.16 L120.19,702.93 L120.62,705.70 L121.06,708.46 L121.50,711.23 L121.95,713.99 L122.40,716.76 L122.85,719.52 L123.31,722.28 L123.77,725.05 L124.24,727.81 L124.71,730.57 L125.18,733.33 L125.66,736.09 L126.14,738.85 L126.63,741.61 L127.12,744.37 L127.62,747.13 L128.11,749.89 L128.62,752.65 L129.12,755.40 L129.63,758.16 L130.15,760.92 L130.67,763.68 L131.19,766.43 L131.71,769.19 L132.24,771.95 L132.78,774.70 L133.31,777.46 L133.86,780.22 L134.40,782.97 L134.95,785.73 L135.50,788.48 L136.06,791.24 L136.62,794.00 L137.18,796.75 L137.75,799.51 L138.33,802.27 L138.90,805.02 L139.49,807.78 L140.08,810.53 L140.68,813.28 L141.29,816.03 L141.91,818.77 L142.55,821.51 L143.20,824.24 L143.87,826.97 L144.56,829.70 L145.27,832.41 L145.99,835.12 L146.74,837.82 L147.52,840.51 L148.32,843.19 L149.14,845.86 L150.00,848.52 L150.88,851.17 L151.80,853.81 L152.74,856.44 L153.73,859.05 L154.74,861.64 L155.80,864.23 L156.89,866.80 L158.02,869.35 L159.18,871.89 L160.39,874.42 L161.63,876.94 L162.92,879.44 L164.24,881.93 L165.61,884.41 L167.02,886.88 L168.47,889.33 L169.97,891.78 L171.51,894.21 L173.09,896.63 L174.73,899.00 L176.43,901.29 L178.21,903.46 L180.08,905.46 L182.06,907.25 L184.14,908.79 L186.36,910.04 L188.71,910.96 L191.21,911.50 L193.87,911.65 L196.66,911.47 L199.55,911.09 L202.49,910.65 L205.45,910.27 L208.39,910.08 L211.27,910.06 L214.10,910.08 L216.85,909.96 L219.53,909.59 L222.11,908.92 L224.62,907.99 L227.04,906.81 L229.37,905.42 L231.63,903.84 L233.79,902.09 L235.88,900.20 L237.88,898.19 L239.80,896.10 L241.64,893.94 L243.40,891.72 L245.11,889.47 L246.76,887.17 L248.37,884.85 L249.94,882.51 L251.50,880.15 L253.05,877.79 L254.61,875.44 L256.17,873.09 L257.76,870.77 L259.39,868.47 L261.06,866.21 L262.78,864.00 L264.56,861.82 L266.37,859.67 L268.20,857.54 L270.04,855.42 L271.87,853.30 L273.68,851.17 L275.45,849.01 L277.18,846.83 L278.84,844.60 L280.42,842.31 L281.92,839.98 L283.36,837.60 L284.76,835.18 L286.12,832.74 L287.46,830.28 L288.81,827.82 L290.18,825.37 L291.58,822.93 L293.03,820.51 L294.54,818.13 L296.14,815.80 L297.84,813.52 L299.65,811.30 L301.59,809.17 L303.67,807.20 L305.90,805.46 L308.29,804.03 L310.84,802.98 L313.51,802.33 L316.27,802.04 L319.06,802.11 L321.85,802.51 L324.57,803.23 L327.19,804.25 L329.65,805.54 L331.93,807.09 L334.01,808.87 L335.93,810.85 L337.69,813.01 L339.31,815.31 L340.83,817.72 L342.25,820.22 L343.59,822.78 L344.88,825.37 L346.12,827.95 L347.35,830.51 L348.55,833.06 L349.74,835.59 L350.90,838.11 L352.03,840.62 L353.15,843.14 L354.25,845.66 L355.32,848.19 L356.38,850.74 L357.41,853.30 L358.42,855.87 L359.41,858.46 L360.39,861.06 L361.34,863.67 L362.27,866.29 L363.18,868.92 L364.08,871.57 L364.95,874.22 L365.81,876.89 L366.65,879.56 L367.46,882.25 L368.27,884.94 L369.05,887.64 L369.81,890.35 L370.56,893.07 L371.29,895.79 L372.00,898.52 L372.70,901.25 L373.38,904.00 L374.04,906.74 L374.69,909.49 L375.32,912.25 L375.93,915.01 L376.53,917.77 L377.12,920.54 L377.68,923.31 L378.24,926.08 L378.78,928.85 L379.30,931.63 L379.81,934.41 L380.30,937.18 L380.79,939.96 L381.26,942.73 L381.72,945.51 L382.17,948.28 L382.62,951.06 L383.06,953.83 L383.50,956.60 L383.94,959.37 L384.38,962.14 L384.83,964.91 L385.28,967.67 L385.74,970.43 L386.20,973.19 L386.68,975.95 L387.17,978.70 L387.68,981.45 L388.20,984.20 L388.74,986.94 L389.29,989.68 L389.88,992.41 L390.48,995.14 L391.11,997.86 L391.77,1000.58 L392.46,1003.30 L393.17,1006.00 L393.93,1008.71 L394.71,1011.40 L395.54,1014.09 L396.41,1016.76 L397.32,1019.42 L398.29,1022.06 L399.31,1024.67 L400.39,1027.26 L401.53,1029.82 L402.74,1032.34 L404.01,1034.83 L405.37,1037.28 L406.80,1039.69 L408.31,1042.05 L409.90,1044.36 L411.59,1046.62 L413.37,1048.82 L415.23,1050.95 L417.18,1053.00 L419.21,1054.96 L421.32,1056.83 L423.51,1058.59 L425.78,1060.24 L428.12,1061.76 L430.53,1063.16 L433.01,1064.41 L435.56,1065.52 L438.16,1066.51 L440.82,1067.38 L443.51,1068.17 L446.23,1068.88 L448.97,1069.53 L451.72,1070.15 L454.47,1070.75 L457.23,1071.33 L459.99,1071.89 L462.75,1072.43 L465.51,1072.96 L468.27,1073.47 L471.03,1073.96 L473.79,1074.45 L476.56,1074.91 L479.33,1075.37 L482.10,1075.81 L484.87,1076.24 L487.64,1076.66 L490.41,1077.07 L493.19,1077.46 L495.96,1077.85 L498.74,1078.23 L501.52,1078.60 L504.30,1078.97 L507.08,1079.32 L509.86,1079.67 L512.64,1080.00 L515.43,1080.33 L518.21,1080.66 L521.00,1080.97 L523.78,1081.28 L526.57,1081.58 L529.36,1081.88 L532.15,1082.17 L534.94,1082.46 L537.73,1082.74 L540.52,1083.01 L543.31,1083.28 L546.11,1083.55 L548.90,1083.81 L551.69,1084.06 L554.49,1084.31 L557.28,1084.56 L560.07,1084.81 L562.87,1085.05 L565.66,1085.29 L568.46,1085.53 L571.26,1085.76 L574.05,1086.00 L576.85,1086.23 L579.64,1086.46 L582.44,1086.69 L585.24,1086.91 L588.03,1087.13 L590.83,1087.36 L593.63,1087.58 L596.42,1087.79 L599.22,1088.01 L602.02,1088.22 L604.81,1088.43 L607.61,1088.64 L610.41,1088.85 L613.20,1089.06 L616.00,1089.26 L618.80,1089.47 L621.60,1089.67 L624.40,1089.87 L627.19,1090.07 L629.99,1090.26 L632.79,1090.45 L635.59,1090.65 L638.39,1090.84 L641.18,1091.03 L643.98,1091.21 L646.78,1091.40 L649.58,1091.58 L652.38,1091.76 L655.18,1091.94 L657.98,1092.12 L660.78,1092.30 L663.58,1092.47 L666.38,1092.64 L669.18,1092.82 L671.98,1092.99 L674.77,1093.15 L677.57,1093.32 L680.37,1093.49 L683.17,1093.65 L685.98,1093.81 L688.78,1093.97 L691.58,1094.13 L694.38,1094.29 L697.18,1094.44 L699.98,1094.59 L702.78,1094.75 L705.58,1094.90 L708.38,1095.05 L711.18,1095.19 L713.98,1095.34 L716.78,1095.48 L719.59,1095.63 L722.39,1095.77 L725.19,1095.91 L727.99,1096.05 L730.79,1096.18 L733.59,1096.32 L736.40,1096.45 L739.20,1096.58 L742.00,1096.72" stroke="#45E0C0"/>
<path d="M107.38,599.92 L107.66,602.68 L107.95,605.43 L108.23,608.17 L108.53,610.92 L108.82,613.67 L109.13,616.41 L109.43,619.16 L109.74,621.90 L110.06,624.64 L110.37,627.38 L110.70,630.11 L111.02,632.85 L111.35,635.59 L111.69,638.32 L112.03,641.05 L112.37,643.78 L112.72,646.51 L113.07,649.24 L113.43,651.97 L113.79,654.70 L114.15,657.42 L114.52,660.15 L114.89,662.87 L115.27,665.59 L115.65,668.31 L116.03,671.04 L116.42,673.75 L116.82,676.47 L117.21,679.19 L117.61,681.91 L118.02,684.62 L118.43,687.34 L118.84,690.05 L119.26,692.77 L119.68,695.48 L120.11,698.19 L120.54,700.90 L120.97,703.61 L121.41,706.32 L121.85,709.03 L122.30,711.74 L122.75,714.45 L123.20,717.16 L123.66,719.86 L124.12,722.57 L124.59,725.28 L125.06,727.98 L125.53,730.69 L126.01,733.39 L126.49,736.09 L126.98,738.80 L127.47,741.50 L127.96,744.20 L128.46,746.90 L128.96,749.61 L129.47,752.31 L129.98,755.01 L130.49,757.71 L131.01,760.41 L131.53,763.11 L132.06,765.81 L132.59,768.51 L133.12,771.22 L133.66,773.92 L134.20,776.62 L134.75,779.32 L135.30,782.02 L135.85,784.72 L136.41,787.42 L136.97,790.12 L137.53,792.82 L138.10,795.52 L138.68,798.22 L139.25,800.92 L139.83,803.62 L140.42,806.32 L141.01,809.02 L141.62,811.71 L142.23,814.41 L142.85,817.10 L143.48,819.79 L144.13,822.47 L144.79,825.15 L145.46,827.82 L146.16,830.48 L146.87,833.14 L147.60,835.79 L148.35,838.43 L149.13,841.07 L149.92,843.69 L150.74,846.31 L151.59,848.91 L152.47,851.50 L153.37,854.08 L154.30,856.65 L155.27,859.20 L156.26,861.74 L157.29,864.27 L158.36,866.78 L159.45,869.27 L160.59,871.75 L161.76,874.22 L162.97,876.68 L164.21,879.12 L165.49,881.56 L166.81,883.98 L168.17,886.40 L169.56,888.81 L170.99,891.21 L172.46,893.61 L173.97,896.00 L175.53,898.37 L177.14,900.68 L178.83,902.91 L180.60,905.00 L182.48,906.93 L184.48,908.66 L186.60,910.14 L188.88,911.35 L191.31,912.25 L193.92,912.81 L196.67,913.10 L199.50,913.27 L202.36,913.46 L205.18,913.81 L207.95,914.32 L210.66,914.86 L213.33,915.32 L215.95,915.56 L218.53,915.48 L221.07,915.05 L223.56,914.32 L226.00,913.31 L228.39,912.06 L230.71,910.61 L232.97,908.97 L235.16,907.18 L237.27,905.29 L239.31,903.31 L241.27,901.27 L243.16,899.17 L244.99,897.04 L246.77,894.88 L248.52,892.69 L250.23,890.49 L251.93,888.29 L253.61,886.09 L255.30,883.91 L257.00,881.76 L258.71,879.64 L260.46,877.57 L262.24,875.55 L264.04,873.57 L265.86,871.61 L267.69,869.67 L269.53,867.73 L271.37,865.78 L273.19,863.82 L275.00,861.83 L276.78,859.79 L278.53,857.71 L280.24,855.56 L281.90,853.33 L283.51,851.02 L285.06,848.61 L286.56,846.13 L288.03,843.59 L289.48,841.04 L290.93,838.48 L292.40,835.96 L293.91,833.51 L295.47,831.13 L297.11,828.88 L298.83,826.77 L300.65,824.83 L302.60,823.09 L304.69,821.58 L306.94,820.32 L309.36,819.35 L311.94,818.67 L314.63,818.28 L317.40,818.18 L320.17,818.36 L322.91,818.81 L325.56,819.53 L328.08,820.51 L330.42,821.75 L332.58,823.22 L334.57,824.90 L336.41,826.78 L338.12,828.82 L339.71,831.01 L341.20,833.33 L342.60,835.74 L343.93,838.24 L345.20,840.79 L346.42,843.37 L347.62,845.97 L348.81,848.56 L349.98,851.15 L351.13,853.73 L352.27,856.31 L353.39,858.89 L354.49,861.46 L355.58,864.03 L356.65,866.60 L357.71,869.17 L358.75,871.74 L359.77,874.30 L360.77,876.87 L361.76,879.43 L362.73,882.00 L363.68,884.57 L364.61,887.13 L365.53,889.70 L366.43,892.27 L367.30,894.85 L368.16,897.43 L369.00,900.01 L369.83,902.59 L370.63,905.18 L371.41,907.77 L372.18,910.37 L372.92,912.97 L373.65,915.58 L374.35,918.20 L375.04,920.82 L375.70,923.45 L376.34,926.08 L376.97,928.73 L377.57,931.38 L378.15,934.04 L378.71,936.71 L379.25,939.39 L379.77,942.08 L380.28,944.77 L380.77,947.48 L381.24,950.18 L381.71,952.90 L382.17,955.62 L382.63,958.34 L383.08,961.06 L383.53,963.79 L383.98,966.52 L384.43,969.25 L384.89,971.98 L385.36,974.71 L385.83,977.44 L386.32,980.16 L386.82,982.88 L387.34,985.60 L387.87,988.31 L388.42,991.02 L389.00,993.72 L389.60,996.42 L390.23,999.11 L390.89,1001.79 L391.57,1004.46 L392.29,1007.11 L393.05,1009.76 L393.84,1012.40 L394.68,1015.02 L395.55,1017.63 L396.48,1020.22 L397.45,1022.79 L398.47,1025.33 L399.55,1027.85 L400.68,1030.35 L401.88,1032.81 L403.14,1035.25 L404.46,1037.65 L405.85,1040.01 L407.32,1042.34 L408.85,1044.63 L410.47,1046.88 L412.16,1049.08 L413.93,1051.22 L415.78,1053.30 L417.70,1055.29 L419.71,1057.19 L421.78,1059.00 L423.94,1060.70 L426.17,1062.28 L428.47,1063.73 L430.85,1065.05 L433.31,1066.22 L435.83,1067.25 L438.41,1068.17 L441.03,1068.99 L443.69,1069.73 L446.38,1070.40 L449.08,1071.03 L451.78,1071.63 L454.49,1072.20 L457.20,1072.76 L459.91,1073.29 L462.62,1073.81 L465.33,1074.31 L468.04,1074.79 L470.75,1075.25 L473.46,1075.70 L476.18,1076.14 L478.89,1076.56 L481.61,1076.97 L484.33,1077.37 L487.05,1077.76 L489.77,1078.14 L492.49,1078.51 L495.21,1078.87 L497.93,1079.23 L500.66,1079.58 L503.39,1079.92 L506.11,1080.25 L508.84,1080.58 L511.57,1080.90 L514.30,1081.21 L517.04,1081.52 L519.77,1081.82 L522.50,1082.12 L525.24,1082.41 L527.97,1082.69 L530.71,1082.97 L533.44,1083.25 L536.18,1083.52 L538.92,1083.78 L541.66,1084.05 L544.40,1084.30 L547.14,1084.56 L549.88,1084.80 L552.62,1085.05 L555.36,1085.29 L558.10,1085.53 L560.84,1085.77 L563.58,1086.00 L566.32,1086.23 L569.06,1086.46 L571.81,1086.69 L574.55,1086.91 L577.29,1087.13 L580.03,1087.35 L582.78,1087.57 L585.52,1087.79 L588.26,1088.00 L591.00,1088.22 L593.75,1088.43 L596.49,1088.64 L599.23,1088.84 L601.97,1089.05 L604.72,1089.25 L607.46,1089.46 L610.20,1089.65 L612.95,1089.85 L615.69,1090.05 L618.43,1090.24 L621.18,1090.44 L623.92,1090.63 L626.67,1090.82 L629.41,1091.00 L632.15,1091.19 L634.90,1091.37 L637.64,1091.55 L640.39,1091.73 L643.13,1091.91 L645.88,1092.09 L648.62,1092.26 L651.36,1092.44 L654.11,1092.61 L656.85,1092.78 L659.60,1092.95 L662.35,1093.12 L665.09,1093.28 L667.84,1093.45 L670.58,1093.61 L673.33,1093.77 L676.07,1093.93 L678.82,1094.09 L681.56,1094.24 L684.31,1094.40 L687.06,1094.55 L689.80,1094.70 L692.55,1094.85 L695.30,1095.00 L698.04,1095.15 L700.79,1095.29 L703.54,1095.44 L706.28,1095.58 L709.03,1095.72 L711.78,1095.86 L714.52,1096.00 L717.27,1096.14 L720.02,1096.28 L722.77,1096.41 L725.51,1096.54 L728.26,1096.68 L731.01,1096.81 L733.76,1096.94 L736.51,1097.07 L739.25,1097.19 L742.00,1097.32" stroke="#6E3A4A"/>
<path d="M107.53,599.95 L107.81,602.67 L108.10,605.38 L108.39,608.09 L108.69,610.80 L108.99,613.51 L109.29,616.22 L109.60,618.93 L109.91,621.64 L110.23,624.34 L110.55,627.05 L110.88,629.76 L111.20,632.46 L111.54,635.17 L111.87,637.87 L112.21,640.58 L112.56,643.28 L112.90,645.98 L113.26,648.69 L113.61,651.39 L113.97,654.09 L114.34,656.79 L114.71,659.49 L115.08,662.19 L115.45,664.88 L115.83,667.58 L116.22,670.28 L116.61,672.97 L117.00,675.67 L117.39,678.36 L117.79,681.06 L118.20,683.75 L118.61,686.44 L119.02,689.14 L119.44,691.83 L119.86,694.52 L120.28,697.21 L120.71,699.90 L121.14,702.59 L121.58,705.27 L122.02,707.96 L122.46,710.65 L122.91,713.33 L123.36,716.02 L123.82,718.70 L124.28,721.39 L124.75,724.07 L125.22,726.75 L125.69,729.43 L126.17,732.11 L126.65,734.79 L127.13,737.47 L127.62,740.15 L128.12,742.83 L128.61,745.51 L129.12,748.18 L129.62,750.86 L130.13,753.53 L130.65,756.21 L131.17,758.88 L131.69,761.55 L132.21,764.22 L132.75,766.90 L133.28,769.57 L133.82,772.24 L134.36,774.90 L134.91,777.57 L135.46,780.24 L136.02,782.90 L136.58,785.57 L137.14,788.24 L137.71,790.90 L138.28,793.56 L138.86,796.22 L139.44,798.89 L140.02,801.55 L140.61,804.21 L141.21,806.86 L141.81,809.52 L142.42,812.18 L143.04,814.83 L143.67,817.48 L144.31,820.12 L144.97,822.77 L145.64,825.40 L146.32,828.04 L147.02,830.67 L147.73,833.29 L148.47,835.91 L149.22,838.53 L149.99,841.14 L150.78,843.74 L151.60,846.33 L152.44,848.92 L153.30,851.50 L154.20,854.07 L155.11,856.64 L156.06,859.19 L157.03,861.74 L158.04,864.28 L159.07,866.80 L160.14,869.32 L161.24,871.82 L162.38,874.32 L163.55,876.79 L164.75,879.25 L165.99,881.69 L167.27,884.11 L168.59,886.50 L169.94,888.88 L171.34,891.23 L172.78,893.55 L174.25,895.85 L175.78,898.11 L177.36,900.32 L179.00,902.46 L180.72,904.51 L182.53,906.47 L184.44,908.31 L186.45,910.01 L188.58,911.56 L190.84,912.94 L193.24,914.13 L195.78,915.14 L198.41,915.98 L201.12,916.69 L203.88,917.27 L206.64,917.76 L209.40,918.15 L212.13,918.43 L214.84,918.54 L217.51,918.47 L220.13,918.17 L222.70,917.64 L225.21,916.89 L227.67,915.93 L230.06,914.78 L232.40,913.47 L234.67,911.99 L236.87,910.39 L239.01,908.66 L241.08,906.83 L243.07,904.92 L245.00,902.93 L246.87,900.89 L248.68,898.79 L250.44,896.66 L252.17,894.49 L253.87,892.31 L255.55,890.13 L257.22,887.94 L258.88,885.77 L260.55,883.62 L262.23,881.50 L263.93,879.43 L265.66,877.41 L267.42,875.45 L269.20,873.52 L271.00,871.61 L272.80,869.71 L274.61,867.80 L276.42,865.88 L278.22,863.92 L280.00,861.92 L281.76,859.86 L283.49,857.73 L285.19,855.52 L286.85,853.22 L288.50,850.86 L290.13,848.47 L291.77,846.07 L293.43,843.70 L295.11,841.37 L296.84,839.13 L298.63,836.99 L300.49,834.98 L302.43,833.14 L304.47,831.48 L306.62,830.05 L308.88,828.85 L311.29,827.93 L313.81,827.29 L316.41,826.95 L319.05,826.91 L321.69,827.17 L324.29,827.75 L326.80,828.65 L329.19,829.88 L331.43,831.41 L333.54,833.19 L335.51,835.18 L337.35,837.32 L339.07,839.56 L340.68,841.84 L342.19,844.14 L343.61,846.46 L344.97,848.79 L346.27,851.14 L347.54,853.50 L348.79,855.88 L350.01,858.27 L351.22,860.68 L352.41,863.10 L353.58,865.53 L354.73,867.98 L355.86,870.43 L356.97,872.90 L358.06,875.39 L359.13,877.88 L360.18,880.39 L361.21,882.90 L362.22,885.43 L363.21,887.97 L364.18,890.52 L365.13,893.07 L366.05,895.64 L366.96,898.22 L367.84,900.80 L368.71,903.39 L369.55,905.99 L370.37,908.60 L371.16,911.22 L371.94,913.84 L372.69,916.47 L373.42,919.11 L374.13,921.75 L374.82,924.40 L375.48,927.05 L376.12,929.71 L376.74,932.37 L377.34,935.04 L377.91,937.71 L378.46,940.39 L378.99,943.07 L379.50,945.75 L379.99,948.43 L380.48,951.12 L380.95,953.81 L381.41,956.49 L381.87,959.18 L382.32,961.87 L382.77,964.56 L383.22,967.25 L383.67,969.94 L384.12,972.63 L384.58,975.31 L385.05,977.99 L385.53,980.67 L386.03,983.35 L386.53,986.02 L387.06,988.69 L387.60,991.35 L388.17,994.01 L388.76,996.67 L389.37,999.31 L390.02,1001.95 L390.69,1004.59 L391.39,1007.21 L392.13,1009.83 L392.91,1012.44 L393.73,1015.04 L394.58,1017.63 L395.48,1020.20 L396.43,1022.75 L397.43,1025.29 L398.48,1027.80 L399.58,1030.29 L400.74,1032.75 L401.96,1035.19 L403.24,1037.59 L404.58,1039.97 L405.99,1042.31 L407.46,1044.61 L409.01,1046.87 L410.64,1049.09 L412.33,1051.26 L414.10,1053.36 L415.94,1055.39 L417.86,1057.33 L419.85,1059.19 L421.92,1060.94 L424.07,1062.57 L426.29,1064.09 L428.60,1065.48 L430.98,1066.72 L433.43,1067.83 L435.95,1068.82 L438.52,1069.71 L441.13,1070.50 L443.78,1071.23 L446.44,1071.89 L449.12,1072.51 L451.80,1073.10 L454.48,1073.67 L457.16,1074.21 L459.84,1074.73 L462.53,1075.22 L465.21,1075.69 L467.90,1076.14 L470.59,1076.58 L473.28,1077.00 L475.97,1077.40 L478.66,1077.79 L481.36,1078.17 L484.05,1078.54 L486.75,1078.90 L489.45,1079.25 L492.15,1079.59 L494.85,1079.93 L497.55,1080.27 L500.25,1080.59 L502.95,1080.91 L505.65,1081.23 L508.36,1081.54 L511.06,1081.84 L513.77,1082.14 L516.48,1082.44 L519.18,1082.73 L521.89,1083.01 L524.60,1083.29 L527.31,1083.57 L530.02,1083.84 L532.73,1084.10 L535.44,1084.37 L538.15,1084.63 L540.86,1084.88 L543.58,1085.13 L546.29,1085.38 L549.00,1085.62 L551.72,1085.87 L554.43,1086.10 L557.15,1086.34 L559.86,1086.57 L562.58,1086.80 L565.29,1087.03 L568.01,1087.25 L570.72,1087.48 L573.44,1087.70 L576.15,1087.91 L578.87,1088.13 L581.58,1088.34 L584.30,1088.56 L587.02,1088.77 L589.73,1088.97 L592.45,1089.18 L595.17,1089.38 L597.88,1089.59 L600.60,1089.79 L603.32,1089.98 L606.03,1090.18 L608.75,1090.37 L611.47,1090.57 L614.18,1090.76 L616.90,1090.94 L619.62,1091.13 L622.34,1091.32 L625.05,1091.50 L627.77,1091.68 L630.49,1091.86 L633.21,1092.04 L635.92,1092.21 L638.64,1092.39 L641.36,1092.56 L644.08,1092.73 L646.80,1092.90 L649.52,1093.07 L652.24,1093.23 L654.95,1093.40 L657.67,1093.56 L660.39,1093.72 L663.11,1093.88 L665.83,1094.04 L668.55,1094.20 L671.27,1094.35 L673.99,1094.50 L676.71,1094.66 L679.43,1094.81 L682.15,1094.96 L684.87,1095.10 L687.59,1095.25 L690.31,1095.40 L693.03,1095.54 L695.75,1095.68 L698.47,1095.83 L701.19,1095.97 L703.91,1096.10 L706.63,1096.24 L709.35,1096.38 L712.07,1096.51 L714.79,1096.65 L717.51,1096.78 L720.23,1096.91 L722.95,1097.04 L725.67,1097.17 L728.39,1097.30 L731.11,1097.43 L733.84,1097.56 L736.56,1097.68 L739.28,1097.80 L742.00,1097.93" stroke="#8C9420"/>
<path d="M107.67,599.94 L107.95,602.64 L108.24,605.34 L108.52,608.03 L108.82,610.73 L109.11,613.43 L109.41,616.12 L109.72,618.82 L110.03,621.51 L110.34,624.20 L110.66,626.89 L110.98,629.58 L111.31,632.27 L111.64,634.96 L111.98,637.64 L112.32,640.33 L112.66,643.02 L113.01,645.70 L113.36,648.38 L113.72,651.07 L114.08,653.75 L114.45,656.43 L114.82,659.11 L115.19,661.79 L115.57,664.46 L115.95,667.14 L116.34,669.82 L116.73,672.49 L117.12,675.17 L117.52,677.84 L117.92,680.51 L118.33,683.19 L118.74,685.86 L119.16,688.53 L119.58,691.20 L120.00,693.87 L120.43,696.54 L120.86,699.20 L121.30,701.87 L121.74,704.54 L122.18,707.20 L122.63,709.87 L123.08,712.53 L123.54,715.20 L124.00,717.86 L124.46,720.52 L124.93,723.18 L125.40,725.84 L125.88,728.50 L126.36,731.16 L126.84,733.82 L127.33,736.48 L127.82,739.14 L128.32,741.79 L128.82,744.45 L129.32,747.11 L129.83,749.76 L130.34,752.42 L130.86,755.07 L131.38,757.73 L131.90,760.38 L132.43,763.03 L132.96,765.68 L133.49,768.34 L134.03,770.99 L134.57,773.64 L135.12,776.29 L135.67,778.94 L136.23,781.59 L136.78,784.24 L137.35,786.89 L137.91,789.53 L138.48,792.18 L139.05,794.83 L139.63,797.48 L140.21,800.12 L140.80,802.77 L141.39,805.42 L141.98,808.06 L142.59,810.70 L143.20,813.34 L143.82,815.98 L144.45,818.61 L145.09,821.25 L145.75,823.87 L146.42,826.49 L147.10,829.11 L147.81,831.72 L148.53,834.33 L149.26,836.93 L150.02,839.52 L150.80,842.11 L151.60,844.69 L152.43,847.26 L153.28,849.82 L154.15,852.37 L155.05,854.91 L155.98,857.45 L156.94,859.97 L157.93,862.48 L158.95,864.98 L160.00,867.47 L161.08,869.95 L162.20,872.41 L163.34,874.86 L164.52,877.30 L165.73,879.73 L166.97,882.14 L168.23,884.54 L169.53,886.93 L170.85,889.31 L172.21,891.67 L173.59,894.01 L174.99,896.35 L176.44,898.66 L177.93,900.92 L179.48,903.13 L181.11,905.25 L182.82,907.27 L184.65,909.17 L186.59,910.94 L188.66,912.54 L190.87,913.97 L193.25,915.20 L195.77,916.25 L198.41,917.16 L201.11,917.99 L203.83,918.80 L206.53,919.63 L209.19,920.48 L211.80,921.29 L214.35,921.94 L216.86,922.35 L219.31,922.43 L221.72,922.10 L224.08,921.41 L226.42,920.43 L228.76,919.24 L231.10,917.90 L233.45,916.49 L235.81,915.03 L238.16,913.50 L240.47,911.91 L242.73,910.24 L244.91,908.50 L246.99,906.67 L248.95,904.76 L250.77,902.76 L252.46,900.68 L254.04,898.54 L255.56,896.35 L257.05,894.16 L258.56,891.97 L260.11,889.82 L261.74,887.71 L263.44,885.65 L265.20,883.63 L267.01,881.64 L268.86,879.68 L270.73,877.73 L272.62,875.79 L274.53,873.85 L276.42,871.91 L278.31,869.95 L280.17,867.98 L282.00,865.98 L283.79,863.95 L285.53,861.88 L287.21,859.77 L288.85,857.63 L290.47,855.48 L292.09,853.32 L293.72,851.17 L295.38,849.04 L297.09,846.94 L298.85,844.88 L300.70,842.87 L302.64,840.94 L304.69,839.14 L306.86,837.54 L309.17,836.21 L311.62,835.20 L314.20,834.56 L316.84,834.28 L319.51,834.38 L322.15,834.84 L324.75,835.63 L327.28,836.71 L329.70,838.06 L331.99,839.64 L334.13,841.41 L336.08,843.34 L337.83,845.41 L339.40,847.58 L340.83,849.83 L342.16,852.16 L343.42,854.53 L344.66,856.93 L345.90,859.33 L347.15,861.75 L348.41,864.17 L349.67,866.59 L350.92,869.02 L352.16,871.46 L353.39,873.90 L354.60,876.36 L355.78,878.82 L356.93,881.29 L358.05,883.77 L359.14,886.26 L360.19,888.76 L361.22,891.27 L362.23,893.78 L363.20,896.30 L364.15,898.83 L365.07,901.37 L365.97,903.91 L366.84,906.46 L367.69,909.02 L368.52,911.59 L369.33,914.16 L370.11,916.74 L370.88,919.32 L371.62,921.91 L372.35,924.50 L373.06,927.10 L373.76,929.71 L374.44,932.31 L375.10,934.93 L375.75,937.55 L376.38,940.17 L377.01,942.79 L377.62,945.42 L378.22,948.06 L378.81,950.69 L379.39,953.33 L379.96,955.98 L380.52,958.62 L381.08,961.27 L381.63,963.92 L382.17,966.57 L382.71,969.22 L383.24,971.88 L383.78,974.53 L384.31,977.19 L384.84,979.85 L385.37,982.50 L385.89,985.16 L386.42,987.82 L386.95,990.48 L387.49,993.14 L388.03,995.80 L388.57,998.45 L389.11,1001.11 L389.68,1003.76 L390.26,1006.40 L390.88,1009.04 L391.54,1011.65 L392.26,1014.25 L393.05,1016.82 L393.90,1019.36 L394.84,1021.88 L395.85,1024.37 L396.93,1026.84 L398.07,1029.29 L399.25,1031.72 L400.48,1034.15 L401.74,1036.57 L403.04,1038.99 L404.37,1041.40 L405.74,1043.78 L407.16,1046.13 L408.63,1048.43 L410.17,1050.68 L411.78,1052.86 L413.47,1054.96 L415.25,1056.96 L417.12,1058.87 L419.10,1060.65 L421.18,1062.32 L423.37,1063.85 L425.66,1065.27 L428.02,1066.58 L430.45,1067.78 L432.93,1068.89 L435.45,1069.92 L438.01,1070.86 L440.58,1071.73 L443.16,1072.53 L445.76,1073.27 L448.37,1073.96 L451.00,1074.58 L453.64,1075.16 L456.28,1075.70 L458.94,1076.19 L461.60,1076.65 L464.27,1077.08 L466.95,1077.48 L469.63,1077.86 L472.31,1078.22 L475.00,1078.57 L477.68,1078.91 L480.37,1079.24 L483.06,1079.57 L485.74,1079.90 L488.43,1080.22 L491.12,1080.54 L493.81,1080.86 L496.50,1081.17 L499.19,1081.47 L501.88,1081.78 L504.56,1082.08 L507.25,1082.37 L509.94,1082.66 L512.63,1082.95 L515.32,1083.24 L518.01,1083.52 L520.70,1083.80 L523.39,1084.07 L526.09,1084.34 L528.78,1084.61 L531.47,1084.87 L534.16,1085.13 L536.85,1085.39 L539.54,1085.64 L542.24,1085.89 L544.93,1086.14 L547.62,1086.39 L550.32,1086.63 L553.01,1086.87 L555.70,1087.10 L558.40,1087.34 L561.09,1087.57 L563.79,1087.79 L566.48,1088.02 L569.18,1088.24 L571.87,1088.46 L574.57,1088.68 L577.27,1088.89 L579.96,1089.10 L582.66,1089.31 L585.36,1089.52 L588.05,1089.72 L590.75,1089.93 L593.45,1090.13 L596.15,1090.32 L598.84,1090.52 L601.54,1090.71 L604.24,1090.90 L606.94,1091.09 L609.64,1091.28 L612.34,1091.46 L615.04,1091.65 L617.74,1091.83 L620.44,1092.00 L623.14,1092.18 L625.84,1092.36 L628.54,1092.53 L631.24,1092.70 L633.94,1092.87 L636.64,1093.04 L639.34,1093.20 L642.04,1093.37 L644.74,1093.53 L647.44,1093.69 L650.14,1093.85 L652.84,1094.00 L655.54,1094.16 L658.25,1094.31 L660.95,1094.47 L663.65,1094.62 L666.35,1094.77 L669.05,1094.92 L671.75,1095.07 L674.45,1095.21 L677.16,1095.36 L679.86,1095.50 L682.56,1095.64 L685.26,1095.79 L687.96,1095.93 L690.67,1096.07 L693.37,1096.20 L696.07,1096.34 L698.77,1096.48 L701.47,1096.61 L704.17,1096.75 L706.88,1096.88 L709.58,1097.01 L712.28,1097.15 L714.98,1097.28 L717.68,1097.41 L720.38,1097.54 L723.08,1097.67 L725.78,1097.80 L728.49,1097.93 L731.19,1098.05 L733.89,1098.18 L736.59,1098.31 L739.29,1098.43 L741.99,1098.56" stroke="#FF4A14"/>
<path d="M107.81,599.91 L108.09,602.60 L108.37,605.28 L108.65,607.96 L108.94,610.64 L109.24,613.32 L109.54,616.00 L109.84,618.68 L110.15,621.35 L110.46,624.02 L110.77,626.69 L111.10,629.36 L111.42,632.03 L111.75,634.70 L112.09,637.36 L112.43,640.03 L112.77,642.69 L113.12,645.35 L113.47,648.01 L113.83,650.67 L114.19,653.33 L114.55,655.99 L114.92,658.64 L115.30,661.30 L115.68,663.95 L116.06,666.60 L116.45,669.25 L116.84,671.90 L117.23,674.55 L117.63,677.20 L118.04,679.84 L118.44,682.49 L118.86,685.14 L119.27,687.78 L119.69,690.42 L120.12,693.07 L120.55,695.71 L120.98,698.35 L121.42,700.99 L121.86,703.63 L122.31,706.26 L122.75,708.90 L123.21,711.54 L123.67,714.18 L124.13,716.81 L124.59,719.45 L125.06,722.08 L125.54,724.72 L126.01,727.35 L126.49,729.98 L126.98,732.62 L127.47,735.25 L127.96,737.88 L128.46,740.51 L128.96,743.14 L129.46,745.77 L129.97,748.40 L130.48,751.03 L131.00,753.66 L131.52,756.29 L132.04,758.92 L132.57,761.55 L133.10,764.18 L133.63,766.81 L134.17,769.44 L134.71,772.07 L135.26,774.70 L135.81,777.33 L136.36,779.96 L136.92,782.59 L137.48,785.21 L138.04,787.84 L138.61,790.47 L139.18,793.10 L139.75,795.73 L140.33,798.36 L140.91,800.99 L141.49,803.62 L142.08,806.25 L142.68,808.88 L143.28,811.51 L143.89,814.13 L144.51,816.75 L145.15,819.37 L145.79,821.98 L146.45,824.59 L147.12,827.19 L147.80,829.79 L148.51,832.38 L149.23,834.97 L149.97,837.54 L150.73,840.11 L151.51,842.67 L152.31,845.22 L153.14,847.76 L153.99,850.29 L154.86,852.81 L155.76,855.31 L156.70,857.81 L157.66,860.29 L158.65,862.75 L159.67,865.21 L160.72,867.65 L161.81,870.07 L162.92,872.48 L164.06,874.89 L165.23,877.29 L166.43,879.68 L167.65,882.06 L168.89,884.45 L170.16,886.83 L171.44,889.21 L172.75,891.60 L174.07,893.99 L175.41,896.38 L176.77,898.77 L178.17,901.12 L179.63,903.43 L181.15,905.66 L182.77,907.78 L184.48,909.78 L186.31,911.64 L188.26,913.33 L190.37,914.82 L192.63,916.09 L195.06,917.15 L197.61,918.07 L200.24,918.93 L202.91,919.80 L205.56,920.79 L208.17,921.93 L210.73,923.15 L213.24,924.32 L215.71,925.30 L218.14,925.95 L220.53,926.14 L222.90,925.79 L225.25,924.96 L227.59,923.80 L229.93,922.43 L232.28,920.98 L234.63,919.51 L236.97,918.04 L239.29,916.54 L241.57,915.01 L243.80,913.44 L245.95,911.81 L248.02,910.11 L249.99,908.34 L251.85,906.48 L253.62,904.55 L255.33,902.57 L257.02,900.57 L258.70,898.55 L260.41,896.53 L262.18,894.54 L263.98,892.56 L265.82,890.60 L267.69,888.65 L269.58,886.71 L271.47,884.78 L273.36,882.85 L275.24,880.92 L277.10,878.98 L278.93,877.04 L280.73,875.09 L282.51,873.12 L284.27,871.14 L286.01,869.13 L287.73,867.11 L289.44,865.06 L291.14,862.98 L292.84,860.86 L294.53,858.72 L296.24,856.58 L297.99,854.47 L299.79,852.45 L301.68,850.53 L303.66,848.78 L305.77,847.21 L308.03,845.88 L310.45,844.82 L313.02,844.05 L315.72,843.58 L318.47,843.42 L321.22,843.56 L323.93,844.01 L326.53,844.77 L328.98,845.83 L331.24,847.20 L333.32,848.82 L335.24,850.66 L337.03,852.66 L338.70,854.79 L340.28,857.00 L341.77,859.24 L343.20,861.52 L344.56,863.82 L345.87,866.15 L347.12,868.50 L348.34,870.88 L349.51,873.27 L350.65,875.68 L351.76,878.11 L352.86,880.54 L353.94,882.99 L355.02,885.44 L356.09,887.90 L357.17,890.36 L358.24,892.82 L359.31,895.29 L360.38,897.76 L361.44,900.24 L362.49,902.72 L363.53,905.21 L364.55,907.70 L365.56,910.19 L366.56,912.69 L367.54,915.20 L368.50,917.71 L369.43,920.23 L370.35,922.75 L371.23,925.28 L372.09,927.81 L372.93,930.35 L373.73,932.90 L374.49,935.45 L375.23,938.01 L375.93,940.58 L376.60,943.15 L377.23,945.73 L377.85,948.31 L378.44,950.90 L379.00,953.50 L379.55,956.10 L380.08,958.70 L380.60,961.31 L381.10,963.92 L381.59,966.54 L382.07,969.16 L382.55,971.79 L383.02,974.42 L383.50,977.05 L383.97,979.69 L384.45,982.33 L384.93,984.97 L385.42,987.61 L385.92,990.26 L386.43,992.91 L386.96,995.56 L387.51,998.21 L388.07,1000.87 L388.66,1003.52 L389.27,1006.17 L389.92,1008.81 L390.59,1011.45 L391.31,1014.07 L392.06,1016.68 L392.86,1019.28 L393.70,1021.85 L394.60,1024.40 L395.55,1026.93 L396.56,1029.43 L397.63,1031.91 L398.76,1034.35 L399.97,1036.75 L401.24,1039.12 L402.59,1041.45 L404.01,1043.73 L405.50,1045.96 L407.06,1048.15 L408.68,1050.28 L410.37,1052.36 L412.13,1054.37 L413.94,1056.32 L415.82,1058.20 L417.76,1060.02 L419.76,1061.76 L421.81,1063.42 L423.91,1065.00 L426.08,1066.50 L428.29,1067.91 L430.55,1069.22 L432.87,1070.45 L435.23,1071.58 L437.63,1072.61 L440.09,1073.54 L442.58,1074.38 L445.10,1075.14 L447.67,1075.81 L450.26,1076.42 L452.88,1076.97 L455.52,1077.46 L458.19,1077.90 L460.87,1078.29 L463.56,1078.65 L466.27,1078.98 L468.98,1079.28 L471.70,1079.57 L474.42,1079.85 L477.13,1080.12 L479.85,1080.40 L482.55,1080.68 L485.26,1080.95 L487.95,1081.23 L490.65,1081.51 L493.34,1081.78 L496.03,1082.06 L498.71,1082.34 L501.39,1082.61 L504.07,1082.89 L506.75,1083.16 L509.42,1083.44 L512.09,1083.71 L514.76,1083.99 L517.43,1084.26 L520.09,1084.53 L522.76,1084.80 L525.42,1085.07 L528.08,1085.33 L530.74,1085.60 L533.39,1085.86 L536.05,1086.12 L538.71,1086.38 L541.36,1086.64 L544.02,1086.89 L546.68,1087.14 L549.33,1087.39 L551.99,1087.64 L554.64,1087.88 L557.30,1088.12 L559.96,1088.36 L562.62,1088.59 L565.28,1088.82 L567.94,1089.05 L570.60,1089.27 L573.26,1089.49 L575.93,1089.71 L578.60,1089.92 L581.26,1090.13 L583.93,1090.34 L586.60,1090.54 L589.27,1090.74 L591.95,1090.94 L594.62,1091.13 L597.30,1091.32 L599.97,1091.51 L602.65,1091.70 L605.32,1091.88 L608.00,1092.06 L610.68,1092.24 L613.36,1092.41 L616.04,1092.58 L618.72,1092.75 L621.40,1092.92 L624.08,1093.09 L626.77,1093.25 L629.45,1093.41 L632.13,1093.57 L634.82,1093.73 L637.50,1093.88 L640.18,1094.04 L642.87,1094.19 L645.55,1094.34 L648.24,1094.49 L650.92,1094.63 L653.61,1094.78 L656.29,1094.92 L658.98,1095.07 L661.66,1095.21 L664.34,1095.35 L667.03,1095.49 L669.71,1095.63 L672.39,1095.76 L675.08,1095.90 L677.76,1096.04 L680.44,1096.17 L683.12,1096.31 L685.81,1096.44 L688.49,1096.57 L691.17,1096.70 L693.85,1096.84 L696.52,1096.97 L699.20,1097.10 L701.88,1097.23 L704.55,1097.36 L707.23,1097.50 L709.90,1097.63 L712.58,1097.76 L715.25,1097.89 L717.92,1098.02 L720.59,1098.16 L723.26,1098.29 L725.93,1098.42 L728.59,1098.56 L731.26,1098.69 L733.92,1098.82 L736.58,1098.96 L739.24,1099.10 L741.90,1099.23" stroke="#6AAEF0"/>
<path d="M107.92,599.93 L108.19,602.59 L108.47,605.25 L108.76,607.91 L109.05,610.57 L109.34,613.23 L109.64,615.89 L109.94,618.54 L110.25,621.20 L110.56,623.85 L110.88,626.50 L111.20,629.15 L111.53,631.80 L111.86,634.45 L112.19,637.10 L112.53,639.74 L112.87,642.39 L113.22,645.03 L113.58,647.68 L113.93,650.32 L114.29,652.96 L114.66,655.60 L115.03,658.24 L115.40,660.88 L115.78,663.52 L116.17,666.15 L116.55,668.79 L116.94,671.42 L117.34,674.06 L117.74,676.69 L118.15,679.32 L118.55,681.95 L118.97,684.58 L119.38,687.21 L119.80,689.84 L120.23,692.47 L120.66,695.10 L121.09,697.72 L121.53,700.35 L121.97,702.97 L122.42,705.60 L122.87,708.22 L123.32,710.84 L123.78,713.46 L124.24,716.08 L124.71,718.70 L125.18,721.32 L125.65,723.94 L126.13,726.56 L126.61,729.18 L127.09,731.80 L127.58,734.41 L128.08,737.03 L128.57,739.65 L129.08,742.26 L129.58,744.88 L130.09,747.49 L130.60,750.10 L131.12,752.72 L131.64,755.33 L132.16,757.94 L132.69,760.55 L133.22,763.17 L133.75,765.78 L134.29,768.39 L134.83,771.00 L135.38,773.61 L135.93,776.22 L136.48,778.83 L137.04,781.44 L137.60,784.04 L138.16,786.65 L138.73,789.26 L139.30,791.87 L139.87,794.48 L140.45,797.08 L141.03,799.69 L141.62,802.30 L142.21,804.90 L142.80,807.51 L143.40,810.11 L144.01,812.71 L144.63,815.31 L145.25,817.91 L145.89,820.50 L146.54,823.09 L147.21,825.68 L147.88,828.26 L148.58,830.83 L149.29,833.40 L150.02,835.96 L150.76,838.52 L151.53,841.07 L152.31,843.61 L153.12,846.14 L153.95,848.67 L154.81,851.18 L155.69,853.69 L156.60,856.18 L157.54,858.67 L158.50,861.14 L159.49,863.61 L160.52,866.06 L161.57,868.50 L162.66,870.92 L163.77,873.34 L164.91,875.75 L166.07,878.15 L167.26,880.54 L168.47,882.92 L169.69,885.29 L170.94,887.66 L172.20,890.02 L173.48,892.38 L174.77,894.73 L176.07,897.07 L177.40,899.40 L178.76,901.70 L180.18,903.96 L181.65,906.16 L183.19,908.30 L184.83,910.35 L186.56,912.30 L188.41,914.15 L190.38,915.88 L192.48,917.47 L194.73,918.91 L197.10,920.24 L199.56,921.48 L202.08,922.66 L204.62,923.81 L207.16,924.95 L209.69,926.05 L212.19,927.06 L214.68,927.89 L217.14,928.48 L219.59,928.76 L222.01,928.66 L224.40,928.19 L226.79,927.43 L229.17,926.44 L231.55,925.29 L233.94,924.05 L236.33,922.73 L238.69,921.33 L241.02,919.85 L243.30,918.30 L245.51,916.68 L247.64,914.99 L249.67,913.24 L251.60,911.43 L253.44,909.57 L255.22,907.67 L256.96,905.76 L258.70,903.83 L260.47,901.92 L262.28,900.02 L264.12,898.13 L265.99,896.25 L267.87,894.37 L269.77,892.50 L271.67,890.62 L273.57,888.73 L275.46,886.83 L277.33,884.92 L279.18,882.98 L280.99,881.03 L282.77,879.04 L284.50,877.03 L286.19,875.00 L287.86,872.95 L289.53,870.90 L291.21,868.86 L292.93,866.84 L294.68,864.85 L296.50,862.91 L298.39,861.01 L300.38,859.18 L302.47,857.42 L304.66,855.78 L306.94,854.29 L309.30,853.00 L311.71,851.96 L314.18,851.20 L316.68,850.77 L319.20,850.71 L321.73,851.04 L324.24,851.72 L326.71,852.70 L329.12,853.95 L331.44,855.44 L333.64,857.12 L335.70,858.94 L337.61,860.89 L339.37,862.93 L341.01,865.04 L342.54,867.22 L343.98,869.44 L345.37,871.70 L346.70,873.97 L347.98,876.26 L349.17,878.59 L350.29,880.97 L351.33,883.39 L352.34,885.83 L353.31,888.29 L354.28,890.76 L355.27,893.23 L356.28,895.69 L357.32,898.15 L358.38,900.59 L359.46,903.03 L360.55,905.47 L361.65,907.91 L362.75,910.35 L363.85,912.79 L364.94,915.23 L366.02,917.67 L367.08,920.12 L368.12,922.58 L369.14,925.04 L370.12,927.52 L371.06,930.01 L371.97,932.51 L372.83,935.02 L373.64,937.56 L374.40,940.10 L375.11,942.67 L375.77,945.24 L376.40,947.83 L377.00,950.43 L377.56,953.04 L378.09,955.66 L378.60,958.28 L379.08,960.91 L379.55,963.55 L380.01,966.19 L380.45,968.83 L380.89,971.48 L381.33,974.12 L381.77,976.77 L382.22,979.41 L382.67,982.05 L383.14,984.68 L383.62,987.31 L384.12,989.93 L384.65,992.54 L385.20,995.14 L385.79,997.74 L386.41,1000.32 L387.07,1002.88 L387.76,1005.44 L388.49,1007.98 L389.26,1010.52 L390.06,1013.04 L390.90,1015.55 L391.77,1018.05 L392.68,1020.54 L393.63,1023.02 L394.60,1025.50 L395.62,1027.96 L396.66,1030.42 L397.75,1032.87 L398.86,1035.31 L400.01,1037.75 L401.19,1040.17 L402.42,1042.58 L403.69,1044.97 L405.01,1047.32 L406.40,1049.62 L407.85,1051.87 L409.38,1054.05 L410.98,1056.16 L412.67,1058.19 L414.46,1060.13 L416.35,1061.96 L418.34,1063.69 L420.43,1065.30 L422.62,1066.80 L424.88,1068.20 L427.22,1069.49 L429.61,1070.69 L432.04,1071.80 L434.52,1072.81 L437.01,1073.74 L439.53,1074.59 L442.07,1075.37 L444.62,1076.08 L447.19,1076.72 L449.78,1077.30 L452.38,1077.83 L454.99,1078.31 L457.62,1078.76 L460.25,1079.16 L462.89,1079.53 L465.54,1079.87 L468.19,1080.20 L470.84,1080.51 L473.50,1080.81 L476.16,1081.10 L478.81,1081.39 L481.47,1081.68 L484.12,1081.97 L486.78,1082.26 L489.43,1082.54 L492.09,1082.82 L494.74,1083.10 L497.40,1083.38 L500.05,1083.65 L502.70,1083.93 L505.36,1084.20 L508.01,1084.46 L510.66,1084.73 L513.31,1085.00 L515.97,1085.26 L518.62,1085.52 L521.27,1085.77 L523.92,1086.03 L526.58,1086.28 L529.23,1086.53 L531.88,1086.78 L534.53,1087.02 L537.19,1087.27 L539.84,1087.51 L542.49,1087.74 L545.14,1087.98 L547.80,1088.21 L550.45,1088.44 L553.10,1088.67 L555.76,1088.89 L558.41,1089.12 L561.06,1089.34 L563.72,1089.55 L566.37,1089.77 L569.03,1089.98 L571.69,1090.19 L574.34,1090.39 L577.00,1090.60 L579.65,1090.80 L582.31,1091.00 L584.97,1091.19 L587.63,1091.39 L590.28,1091.58 L592.94,1091.77 L595.60,1091.95 L598.26,1092.14 L600.92,1092.32 L603.58,1092.50 L606.24,1092.68 L608.90,1092.85 L611.56,1093.02 L614.22,1093.19 L616.88,1093.36 L619.54,1093.53 L622.20,1093.70 L624.86,1093.86 L627.52,1094.02 L630.19,1094.18 L632.85,1094.34 L635.51,1094.49 L638.17,1094.65 L640.83,1094.80 L643.49,1094.95 L646.16,1095.10 L648.82,1095.25 L651.48,1095.40 L654.14,1095.54 L656.81,1095.69 L659.47,1095.83 L662.13,1095.97 L664.79,1096.11 L667.46,1096.25 L670.12,1096.38 L672.78,1096.52 L675.45,1096.65 L678.11,1096.79 L680.77,1096.92 L683.43,1097.05 L686.10,1097.18 L688.76,1097.31 L691.42,1097.44 L694.08,1097.57 L696.75,1097.70 L699.41,1097.82 L702.07,1097.95 L704.73,1098.07 L707.39,1098.20 L710.06,1098.32 L712.72,1098.44 L715.38,1098.56 L718.04,1098.69 L720.70,1098.81 L723.36,1098.93 L726.02,1099.05 L728.68,1099.17 L731.34,1099.29 L734.00,1099.41 L736.66,1099.53 L739.32,1099.65 L741.98,1099.77" stroke="#5CDC1E"/>
<path d="M108.03,599.91 L108.31,602.57 L108.58,605.22 L108.87,607.88 L109.15,610.53 L109.44,613.18 L109.74,615.82 L110.04,618.47 L110.35,621.11 L110.66,623.76 L110.98,626.40 L111.30,629.04 L111.62,631.68 L111.95,634.32 L112.29,636.95 L112.63,639.59 L112.97,642.22 L113.32,644.86 L113.67,647.49 L114.03,650.12 L114.39,652.75 L114.76,655.38 L115.13,658.00 L115.51,660.63 L115.89,663.25 L116.27,665.88 L116.66,668.50 L117.05,671.12 L117.45,673.74 L117.85,676.36 L118.26,678.98 L118.67,681.60 L119.09,684.21 L119.51,686.83 L119.93,689.44 L120.36,692.06 L120.79,694.67 L121.23,697.28 L121.67,699.90 L122.11,702.51 L122.56,705.12 L123.01,707.73 L123.47,710.33 L123.93,712.94 L124.39,715.55 L124.86,718.16 L125.34,720.76 L125.81,723.37 L126.29,725.97 L126.78,728.58 L127.26,731.18 L127.76,733.78 L128.25,736.39 L128.75,738.99 L129.25,741.59 L129.76,744.19 L130.27,746.79 L130.79,749.40 L131.30,752.00 L131.83,754.60 L132.35,757.20 L132.88,759.80 L133.41,762.39 L133.95,764.99 L134.49,767.59 L135.03,770.19 L135.58,772.79 L136.13,775.39 L136.68,777.99 L137.24,780.58 L137.80,783.18 L138.36,785.78 L138.93,788.38 L139.50,790.98 L140.07,793.57 L140.65,796.17 L141.23,798.77 L141.81,801.37 L142.40,803.96 L142.99,806.56 L143.59,809.16 L144.19,811.75 L144.80,814.34 L145.43,816.93 L146.06,819.52 L146.70,822.10 L147.36,824.68 L148.03,827.25 L148.72,829.82 L149.42,832.38 L150.14,834.93 L150.88,837.48 L151.63,840.02 L152.41,842.55 L153.21,845.07 L154.03,847.59 L154.88,850.09 L155.75,852.58 L156.65,855.06 L157.57,857.54 L158.53,860.00 L159.51,862.44 L160.53,864.88 L161.57,867.30 L162.65,869.71 L163.75,872.10 L164.88,874.49 L166.03,876.88 L167.19,879.25 L168.38,881.63 L169.58,884.00 L170.79,886.37 L172.01,888.75 L173.24,891.12 L174.48,893.50 L175.71,895.89 L176.96,898.28 L178.22,900.65 L179.51,903.00 L180.86,905.30 L182.26,907.54 L183.74,909.71 L185.32,911.79 L186.99,913.77 L188.79,915.62 L190.71,917.34 L192.79,918.91 L195.01,920.32 L197.35,921.61 L199.79,922.82 L202.27,923.97 L204.78,925.12 L207.27,926.29 L209.73,927.45 L212.18,928.53 L214.61,929.47 L217.03,930.19 L219.44,930.62 L221.85,930.71 L224.26,930.44 L226.67,929.87 L229.09,929.07 L231.52,928.11 L233.96,927.02 L236.39,925.84 L238.81,924.56 L241.19,923.20 L243.53,921.75 L245.80,920.22 L247.99,918.63 L250.09,916.97 L252.09,915.25 L254.01,913.49 L255.87,911.69 L257.70,909.86 L259.52,908.02 L261.36,906.17 L263.21,904.33 L265.08,902.47 L266.96,900.62 L268.84,898.75 L270.72,896.87 L272.59,894.98 L274.46,893.08 L276.31,891.17 L278.15,889.24 L279.97,887.29 L281.76,885.32 L283.52,883.32 L285.25,881.31 L286.94,879.27 L288.62,877.23 L290.31,875.19 L292.00,873.17 L293.74,871.17 L295.52,869.22 L297.36,867.31 L299.29,865.48 L301.32,863.72 L303.45,862.06 L305.67,860.54 L307.98,859.19 L310.36,858.06 L312.80,857.18 L315.30,856.60 L317.83,856.34 L320.40,856.44 L322.97,856.90 L325.51,857.67 L327.98,858.73 L330.36,860.05 L332.61,861.59 L334.70,863.33 L336.60,865.23 L338.29,867.26 L339.82,869.41 L341.22,871.64 L342.52,873.94 L343.76,876.29 L344.97,878.65 L346.19,881.01 L347.42,883.37 L348.65,885.73 L349.87,888.09 L351.10,890.46 L352.33,892.82 L353.55,895.19 L354.76,897.56 L355.97,899.94 L357.16,902.32 L358.34,904.70 L359.50,907.09 L360.65,909.49 L361.78,911.89 L362.89,914.31 L363.97,916.72 L365.03,919.15 L366.06,921.59 L367.06,924.04 L368.02,926.50 L368.96,928.97 L369.86,931.45 L370.72,933.95 L371.54,936.46 L372.32,938.98 L373.06,941.52 L373.77,944.07 L374.44,946.63 L375.08,949.19 L375.70,951.77 L376.29,954.36 L376.86,956.95 L377.40,959.55 L377.94,962.16 L378.45,964.77 L378.96,967.39 L379.46,970.00 L379.95,972.62 L380.44,975.24 L380.93,977.87 L381.42,980.49 L381.92,983.10 L382.43,985.72 L382.94,988.33 L383.47,990.94 L384.02,993.54 L384.59,996.14 L385.17,998.73 L385.79,1001.31 L386.42,1003.88 L387.09,1006.44 L387.80,1008.99 L388.53,1011.53 L389.30,1014.06 L390.11,1016.58 L390.96,1019.08 L391.85,1021.57 L392.77,1024.05 L393.74,1026.51 L394.74,1028.96 L395.79,1031.39 L396.87,1033.81 L398.00,1036.21 L399.18,1038.60 L400.39,1040.97 L401.66,1043.33 L402.96,1045.67 L404.32,1047.99 L405.72,1050.29 L407.18,1052.55 L408.69,1054.77 L410.27,1056.94 L411.91,1059.03 L413.63,1061.05 L415.42,1062.98 L417.29,1064.81 L419.25,1066.53 L421.31,1068.12 L423.45,1069.58 L425.70,1070.90 L428.03,1072.08 L430.45,1073.13 L432.93,1074.08 L435.45,1074.94 L438.02,1075.71 L440.62,1076.41 L443.23,1077.06 L445.84,1077.66 L448.45,1078.22 L451.07,1078.74 L453.69,1079.22 L456.31,1079.67 L458.93,1080.10 L461.56,1080.49 L464.18,1080.86 L466.81,1081.21 L469.44,1081.54 L472.07,1081.85 L474.70,1082.14 L477.33,1082.43 L479.96,1082.71 L482.60,1082.98 L485.23,1083.25 L487.87,1083.52 L490.50,1083.79 L493.14,1084.05 L495.78,1084.32 L498.41,1084.58 L501.05,1084.84 L503.69,1085.10 L506.33,1085.35 L508.97,1085.61 L511.61,1085.86 L514.25,1086.11 L516.89,1086.36 L519.53,1086.61 L522.18,1086.85 L524.82,1087.10 L527.46,1087.34 L530.11,1087.58 L532.75,1087.81 L535.39,1088.05 L538.04,1088.28 L540.68,1088.51 L543.33,1088.74 L545.97,1088.97 L548.62,1089.19 L551.26,1089.41 L553.91,1089.63 L556.55,1089.85 L559.20,1090.06 L561.85,1090.27 L564.49,1090.48 L567.14,1090.69 L569.79,1090.89 L572.43,1091.09 L575.08,1091.29 L577.73,1091.49 L580.37,1091.68 L583.02,1091.88 L585.67,1092.07 L588.31,1092.25 L590.96,1092.44 L593.61,1092.62 L596.26,1092.80 L598.90,1092.98 L601.55,1093.16 L604.20,1093.33 L606.85,1093.50 L609.50,1093.68 L612.14,1093.84 L614.79,1094.01 L617.44,1094.17 L620.09,1094.34 L622.74,1094.50 L625.39,1094.66 L628.03,1094.81 L630.68,1094.97 L633.33,1095.12 L635.98,1095.27 L638.63,1095.42 L641.28,1095.57 L643.93,1095.72 L646.58,1095.87 L649.23,1096.01 L651.88,1096.15 L654.52,1096.29 L657.17,1096.43 L659.82,1096.57 L662.47,1096.71 L665.12,1096.84 L667.77,1096.98 L670.42,1097.11 L673.07,1097.24 L675.72,1097.37 L678.37,1097.50 L681.02,1097.63 L683.67,1097.76 L686.33,1097.88 L688.98,1098.01 L691.63,1098.13 L694.28,1098.26 L696.93,1098.38 L699.58,1098.50 L702.23,1098.62 L704.88,1098.74 L707.53,1098.86 L710.18,1098.98 L712.83,1099.09 L715.48,1099.21 L718.14,1099.33 L720.79,1099.44 L723.44,1099.56 L726.09,1099.67 L728.74,1099.79 L731.39,1099.90 L734.05,1100.01 L736.70,1100.12 L739.35,1100.24 L742.00,1100.35" stroke="#4E4E4E"/>
<path d="M108.19,599.88 L108.45,602.54 L108.72,605.19 L109.00,607.84 L109.28,610.49 L109.57,613.14 L109.86,615.79 L110.16,618.43 L110.47,621.07 L110.77,623.71 L111.09,626.35 L111.41,628.98 L111.73,631.61 L112.06,634.24 L112.40,636.87 L112.74,639.50 L113.08,642.13 L113.43,644.75 L113.79,647.37 L114.15,649.99 L114.51,652.61 L114.88,655.23 L115.25,657.84 L115.63,660.45 L116.02,663.07 L116.41,665.68 L116.80,668.29 L117.20,670.89 L117.60,673.50 L118.00,676.11 L118.42,678.71 L118.83,681.31 L119.25,683.92 L119.68,686.52 L120.10,689.12 L120.54,691.71 L120.97,694.31 L121.42,696.91 L121.86,699.51 L122.31,702.10 L122.77,704.70 L123.22,707.29 L123.69,709.88 L124.15,712.47 L124.62,715.07 L125.10,717.66 L125.57,720.25 L126.06,722.84 L126.54,725.43 L127.03,728.02 L127.52,730.61 L128.02,733.20 L128.52,735.79 L129.02,738.37 L129.53,740.96 L130.04,743.55 L130.56,746.14 L131.08,748.73 L131.60,751.31 L132.12,753.90 L132.65,756.49 L133.18,759.08 L133.72,761.67 L134.26,764.26 L134.80,766.85 L135.35,769.44 L135.89,772.03 L136.45,774.62 L137.00,777.21 L137.56,779.80 L138.12,782.39 L138.68,784.98 L139.25,787.57 L139.82,790.17 L140.39,792.76 L140.96,795.36 L141.54,797.95 L142.12,800.55 L142.71,803.15 L143.29,805.74 L143.89,808.34 L144.49,810.94 L145.09,813.53 L145.71,816.12 L146.33,818.71 L146.97,821.29 L147.62,823.87 L148.29,826.44 L148.96,829.00 L149.66,831.56 L150.37,834.11 L151.10,836.65 L151.85,839.19 L152.62,841.71 L153.42,844.22 L154.23,846.72 L155.07,849.21 L155.94,851.68 L156.83,854.14 L157.76,856.59 L158.71,859.02 L159.69,861.44 L160.70,863.83 L161.75,866.22 L162.83,868.58 L163.93,870.94 L165.06,873.28 L166.21,875.63 L167.37,877.97 L168.55,880.32 L169.73,882.67 L170.92,885.04 L172.10,887.42 L173.28,889.83 L174.46,892.26 L175.62,894.72 L176.77,897.20 L177.91,899.70 L179.07,902.20 L180.26,904.66 L181.49,907.08 L182.79,909.44 L184.17,911.70 L185.63,913.86 L187.21,915.89 L188.91,917.78 L190.76,919.49 L192.76,921.02 L194.92,922.35 L197.21,923.56 L199.59,924.72 L202.01,925.90 L204.45,927.17 L206.85,928.62 L209.20,930.20 L211.52,931.81 L213.83,933.29 L216.14,934.53 L218.47,935.38 L220.83,935.72 L223.23,935.47 L225.66,934.74 L228.10,933.67 L230.54,932.39 L232.95,931.05 L235.33,929.71 L237.68,928.38 L240.02,927.09 L242.35,925.83 L244.67,924.62 L246.98,923.47 L249.22,922.28 L251.27,920.85 L253.14,919.18 L254.90,917.33 L256.59,915.36 L258.28,913.36 L260.05,911.38 L261.91,909.48 L263.86,907.63 L265.88,905.84 L267.95,904.08 L270.06,902.35 L272.17,900.63 L274.28,898.92 L276.36,897.19 L278.40,895.44 L280.38,893.66 L282.27,891.82 L284.07,889.93 L285.74,887.97 L287.29,885.93 L288.76,883.85 L290.19,881.74 L291.62,879.63 L293.09,877.54 L294.65,875.51 L296.34,873.55 L298.19,871.69 L300.26,869.96 L302.56,868.39 L305.06,866.98 L307.70,865.78 L310.43,864.81 L313.19,864.09 L315.94,863.64 L318.61,863.49 L321.17,863.66 L323.59,864.15 L325.88,864.92 L328.07,865.95 L330.14,867.22 L332.11,868.70 L333.99,870.38 L335.79,872.21 L337.51,874.19 L339.17,876.29 L340.77,878.47 L342.31,880.73 L343.81,883.02 L345.28,885.34 L346.72,887.65 L348.13,889.97 L349.51,892.29 L350.86,894.62 L352.18,896.94 L353.47,899.28 L354.73,901.62 L355.96,903.96 L357.15,906.31 L358.32,908.67 L359.46,911.03 L360.57,913.41 L361.64,915.79 L362.68,918.18 L363.70,920.58 L364.68,923.00 L365.62,925.42 L366.54,927.86 L367.42,930.31 L368.27,932.77 L369.09,935.25 L369.88,937.74 L370.63,940.24 L371.36,942.76 L372.06,945.29 L372.73,947.84 L373.38,950.39 L374.01,952.95 L374.62,955.52 L375.21,958.10 L375.80,960.69 L376.36,963.28 L376.92,965.87 L377.48,968.47 L378.02,971.07 L378.56,973.68 L379.11,976.29 L379.65,978.89 L380.20,981.50 L380.75,984.10 L381.31,986.70 L381.88,989.30 L382.46,991.89 L383.06,994.48 L383.67,997.06 L384.30,999.63 L384.96,1002.20 L385.63,1004.75 L386.33,1007.30 L387.06,1009.83 L387.82,1012.35 L388.61,1014.86 L389.42,1017.36 L390.28,1019.85 L391.16,1022.33 L392.08,1024.79 L393.03,1027.24 L394.02,1029.68 L395.05,1032.10 L396.11,1034.51 L397.22,1036.92 L398.36,1039.30 L399.54,1041.68 L400.77,1044.04 L402.04,1046.39 L403.36,1048.73 L404.72,1051.04 L406.14,1053.33 L407.61,1055.57 L409.15,1057.75 L410.75,1059.87 L412.43,1061.91 L414.19,1063.87 L416.02,1065.72 L417.95,1067.46 L419.97,1069.08 L422.09,1070.56 L424.31,1071.90 L426.62,1073.10 L429.01,1074.18 L431.47,1075.15 L433.98,1076.02 L436.53,1076.81 L439.10,1077.52 L441.70,1078.18 L444.30,1078.78 L446.90,1079.34 L449.50,1079.86 L452.11,1080.34 L454.72,1080.79 L457.33,1081.20 L459.95,1081.58 L462.57,1081.94 L465.18,1082.27 L467.80,1082.58 L470.43,1082.87 L473.05,1083.15 L475.67,1083.42 L478.30,1083.68 L480.92,1083.94 L483.55,1084.19 L486.18,1084.44 L488.81,1084.69 L491.43,1084.94 L494.06,1085.19 L496.69,1085.44 L499.32,1085.69 L501.95,1085.93 L504.58,1086.18 L507.21,1086.42 L509.84,1086.67 L512.47,1086.91 L515.11,1087.15 L517.74,1087.39 L520.37,1087.63 L523.00,1087.87 L525.64,1088.10 L528.27,1088.34 L530.90,1088.57 L533.54,1088.80 L536.17,1089.03 L538.81,1089.26 L541.44,1089.48 L544.08,1089.70 L546.71,1089.92 L549.35,1090.14 L551.98,1090.36 L554.62,1090.57 L557.25,1090.79 L559.89,1091.00 L562.53,1091.20 L565.16,1091.41 L567.80,1091.61 L570.43,1091.81 L573.07,1092.01 L575.71,1092.20 L578.34,1092.39 L580.98,1092.58 L583.62,1092.77 L586.26,1092.95 L588.89,1093.14 L591.53,1093.32 L594.17,1093.49 L596.81,1093.67 L599.44,1093.84 L602.08,1094.01 L604.72,1094.18 L607.36,1094.35 L610.00,1094.51 L612.63,1094.68 L615.27,1094.84 L617.91,1095.00 L620.55,1095.15 L623.19,1095.31 L625.83,1095.46 L628.46,1095.61 L631.10,1095.76 L633.74,1095.91 L636.38,1096.06 L639.02,1096.20 L641.66,1096.34 L644.30,1096.49 L646.94,1096.63 L649.58,1096.76 L652.22,1096.90 L654.86,1097.04 L657.50,1097.17 L660.14,1097.30 L662.78,1097.44 L665.42,1097.57 L668.06,1097.70 L670.70,1097.82 L673.34,1097.95 L675.98,1098.08 L678.62,1098.20 L681.26,1098.32 L683.90,1098.45 L686.54,1098.57 L689.18,1098.69 L691.82,1098.81 L694.46,1098.93 L697.10,1099.04 L699.74,1099.16 L702.38,1099.28 L705.02,1099.39 L707.66,1099.51 L710.30,1099.62 L712.95,1099.73 L715.59,1099.85 L718.23,1099.96 L720.87,1100.07 L723.51,1100.18 L726.15,1100.29 L728.79,1100.40 L731.43,1100.51 L734.08,1100.62 L736.72,1100.73 L739.36,1100.84 L742.00,1100.95" stroke="#F02244"/>
<path d="M108.37,599.92 L108.64,602.55 L108.91,605.17 L109.19,607.80 L109.47,610.42 L109.76,613.04 L110.06,615.66 L110.36,618.28 L110.66,620.90 L110.97,623.52 L111.29,626.13 L111.61,628.75 L111.94,631.36 L112.27,633.97 L112.61,636.58 L112.96,639.19 L113.30,641.80 L113.66,644.41 L114.02,647.01 L114.38,649.62 L114.75,652.22 L115.12,654.83 L115.50,657.43 L115.88,660.03 L116.27,662.63 L116.66,665.23 L117.06,667.83 L117.46,670.42 L117.87,673.02 L118.28,675.61 L118.69,678.21 L119.11,680.80 L119.54,683.39 L119.97,685.99 L120.40,688.58 L120.84,691.17 L121.28,693.75 L121.72,696.34 L122.17,698.93 L122.63,701.52 L123.08,704.10 L123.55,706.69 L124.01,709.27 L124.48,711.86 L124.96,714.44 L125.43,717.02 L125.91,719.60 L126.40,722.18 L126.89,724.76 L127.38,727.34 L127.88,729.92 L128.38,732.50 L128.88,735.08 L129.39,737.66 L129.90,740.23 L130.41,742.81 L130.93,745.38 L131.45,747.96 L131.97,750.53 L132.49,753.11 L133.02,755.68 L133.56,758.26 L134.09,760.83 L134.63,763.40 L135.17,765.97 L135.72,768.55 L136.27,771.12 L136.82,773.69 L137.37,776.26 L137.93,778.83 L138.48,781.40 L139.05,783.97 L139.61,786.54 L140.18,789.11 L140.75,791.68 L141.32,794.25 L141.89,796.82 L142.47,799.39 L143.05,801.96 L143.63,804.52 L144.22,807.09 L144.81,809.66 L145.41,812.22 L146.02,814.78 L146.63,817.34 L147.26,819.90 L147.90,822.45 L148.55,825.00 L149.21,827.54 L149.89,830.08 L150.58,832.61 L151.30,835.13 L152.03,837.65 L152.78,840.16 L153.55,842.67 L154.35,845.16 L155.17,847.65 L156.01,850.13 L156.88,852.60 L157.77,855.06 L158.70,857.50 L159.65,859.94 L160.63,862.37 L161.63,864.79 L162.66,867.19 L163.72,869.59 L164.79,871.99 L165.89,874.37 L167.01,876.75 L168.14,879.12 L169.29,881.48 L170.46,883.84 L171.64,886.19 L172.83,888.54 L174.03,890.88 L175.25,893.22 L176.47,895.56 L177.70,897.90 L178.93,900.23 L180.17,902.56 L181.41,904.90 L182.65,907.23 L183.90,909.56 L185.14,911.89 L186.40,914.20 L187.74,916.44 L189.18,918.58 L190.77,920.58 L192.55,922.39 L194.56,924.00 L196.74,925.45 L199.04,926.80 L201.43,928.11 L203.83,929.44 L206.20,930.84 L208.53,932.31 L210.83,933.75 L213.12,935.09 L215.41,936.25 L217.71,937.16 L220.05,937.73 L222.43,937.90 L224.85,937.68 L227.31,937.13 L229.78,936.30 L232.26,935.26 L234.73,934.06 L237.19,932.76 L239.61,931.42 L242.00,930.09 L244.34,928.82 L246.61,927.68 L248.80,926.59 L250.87,925.31 L252.82,923.80 L254.69,922.10 L256.50,920.27 L258.29,918.37 L260.09,916.46 L261.93,914.57 L263.80,912.72 L265.70,910.90 L267.63,909.11 L269.58,907.34 L271.55,905.58 L273.52,903.83 L275.50,902.09 L277.49,900.35 L279.46,898.60 L281.43,896.84 L283.39,895.07 L285.32,893.28 L287.23,891.46 L289.11,889.62 L290.96,887.73 L292.77,885.81 L294.54,883.85 L296.29,881.89 L298.06,879.96 L299.87,878.11 L301.75,876.38 L303.74,874.80 L305.85,873.43 L308.12,872.28 L310.57,871.42 L313.20,870.84 L315.94,870.56 L318.75,870.56 L321.55,870.83 L324.30,871.37 L326.94,872.17 L329.39,873.21 L331.64,874.50 L333.70,876.00 L335.59,877.69 L337.34,879.53 L338.97,881.51 L340.50,883.60 L341.96,885.76 L343.37,887.98 L344.75,890.22 L346.12,892.48 L347.48,894.74 L348.83,897.01 L350.16,899.30 L351.48,901.59 L352.78,903.89 L354.06,906.20 L355.31,908.52 L356.55,910.85 L357.76,913.19 L358.94,915.55 L360.10,917.92 L361.22,920.29 L362.32,922.68 L363.38,925.09 L364.41,927.50 L365.40,929.93 L366.36,932.37 L367.27,934.83 L368.15,937.30 L368.98,939.78 L369.78,942.28 L370.54,944.78 L371.26,947.30 L371.96,949.83 L372.63,952.37 L373.27,954.92 L373.89,957.47 L374.50,960.03 L375.08,962.60 L375.65,965.17 L376.21,967.75 L376.75,970.33 L377.29,972.91 L377.83,975.49 L378.36,978.07 L378.90,980.65 L379.44,983.24 L379.98,985.81 L380.53,988.39 L381.10,990.96 L381.68,993.53 L382.27,996.09 L382.88,998.64 L383.52,1001.19 L384.18,1003.72 L384.86,1006.25 L385.58,1008.77 L386.32,1011.28 L387.10,1013.77 L387.91,1016.26 L388.76,1018.73 L389.63,1021.20 L390.54,1023.65 L391.48,1026.09 L392.46,1028.52 L393.47,1030.94 L394.51,1033.36 L395.59,1035.76 L396.70,1038.15 L397.85,1040.53 L399.03,1042.90 L400.24,1045.27 L401.49,1047.62 L402.78,1049.97 L404.10,1052.29 L405.48,1054.58 L406.91,1056.82 L408.40,1059.01 L409.96,1061.13 L411.59,1063.18 L413.30,1065.13 L415.10,1066.98 L416.99,1068.72 L418.98,1070.33 L421.08,1071.80 L423.28,1073.14 L425.58,1074.33 L427.96,1075.41 L430.41,1076.38 L432.92,1077.25 L435.46,1078.04 L438.03,1078.76 L440.62,1079.41 L443.21,1080.01 L445.80,1080.56 L448.40,1081.07 L450.99,1081.54 L453.59,1081.97 L456.19,1082.37 L458.80,1082.74 L461.40,1083.07 L464.00,1083.39 L466.61,1083.68 L469.22,1083.95 L471.83,1084.21 L474.44,1084.46 L477.05,1084.70 L479.66,1084.93 L482.28,1085.17 L484.89,1085.40 L487.50,1085.63 L490.12,1085.87 L492.73,1086.10 L495.35,1086.34 L497.96,1086.57 L500.58,1086.81 L503.20,1087.04 L505.81,1087.27 L508.43,1087.51 L511.05,1087.74 L513.67,1087.98 L516.29,1088.21 L518.91,1088.44 L521.52,1088.67 L524.14,1088.90 L526.76,1089.13 L529.38,1089.35 L532.00,1089.58 L534.63,1089.80 L537.25,1090.03 L539.87,1090.25 L542.49,1090.47 L545.11,1090.69 L547.73,1090.90 L550.35,1091.12 L552.98,1091.33 L555.60,1091.54 L558.22,1091.74 L560.84,1091.95 L563.47,1092.15 L566.09,1092.35 L568.71,1092.55 L571.34,1092.74 L573.96,1092.93 L576.58,1093.12 L579.21,1093.31 L581.83,1093.49 L584.45,1093.67 L587.08,1093.85 L589.70,1094.03 L592.32,1094.20 L594.95,1094.37 L597.57,1094.54 L600.19,1094.71 L602.82,1094.88 L605.44,1095.04 L608.07,1095.20 L610.69,1095.36 L613.31,1095.52 L615.94,1095.67 L618.56,1095.82 L621.19,1095.98 L623.81,1096.13 L626.44,1096.27 L629.06,1096.42 L631.69,1096.56 L634.31,1096.70 L636.94,1096.84 L639.56,1096.98 L642.19,1097.12 L644.81,1097.26 L647.44,1097.39 L650.06,1097.52 L652.69,1097.66 L655.32,1097.79 L657.94,1097.91 L660.57,1098.04 L663.19,1098.17 L665.82,1098.29 L668.44,1098.42 L671.07,1098.54 L673.70,1098.66 L676.32,1098.78 L678.95,1098.90 L681.58,1099.02 L684.20,1099.13 L686.83,1099.25 L689.45,1099.37 L692.08,1099.48 L694.71,1099.60 L697.34,1099.71 L699.96,1099.82 L702.59,1099.93 L705.22,1100.04 L707.84,1100.15 L710.47,1100.26 L713.10,1100.37 L715.72,1100.48 L718.35,1100.59 L720.98,1100.70 L723.61,1100.81 L726.24,1100.92 L728.86,1101.02 L731.49,1101.13 L734.12,1101.24 L736.75,1101.34 L739.37,1101.45 L742.00,1101.56" stroke="#3F6FF0"/>
</g>
<rect x="76.0" y="625" width="665.0" height="488" fill="none" stroke="#000" stroke-width="2"/>
<line x1="66.0" y1="1113" x2="76.0" y2="1113" stroke="#000" stroke-width="2"/>
<text x="60" y="1120.0" font-size="24.5" text-anchor="end" >0.0</text>
<line x1="71.0" y1="1045" x2="76.0" y2="1045" stroke="#000" stroke-width="2"/>
<text x="60" y="1052.3" font-size="24.5" text-anchor="end" >0.3</text>
<line x1="66.0" y1="977" x2="76.0" y2="977" stroke="#000" stroke-width="2"/>
<text x="60" y="984.6" font-size="24.5" text-anchor="end" >0.5</text>
<line x1="71.0" y1="910" x2="76.0" y2="910" stroke="#000" stroke-width="2"/>
<text x="60" y="916.9" font-size="24.5" text-anchor="end" >0.8</text>
<line x1="66.0" y1="842" x2="76.0" y2="842" stroke="#000" stroke-width="2"/>
<text x="60" y="849.2" font-size="24.5" text-anchor="end" >1.0</text>
<line x1="71.0" y1="774" x2="76.0" y2="774" stroke="#000" stroke-width="2"/>
<text x="60" y="781.5" font-size="24.5" text-anchor="end" >1.3</text>
<line x1="66.0" y1="707" x2="76.0" y2="707" stroke="#000" stroke-width="2"/>
<text x="60" y="713.8" font-size="24.5" text-anchor="end" >1.5</text>
<line x1="71.0" y1="639" x2="76.0" y2="639" stroke="#000" stroke-width="2"/>
<text x="60" y="646.0999999999999" font-size="24.5" text-anchor="end" >1.8</text>
<line x1="163" y1="1113" x2="163" y2="1122" stroke="#000" stroke-width="2"/>
<text x="162.75" y="1148" font-size="24.3" text-anchor="middle" >250</text>
<line x1="307" y1="1113" x2="307" y2="1118" stroke="#000" stroke-width="2"/>
<text x="307.31" y="1148" font-size="24.3" text-anchor="middle" >275</text>
<line x1="452" y1="1113" x2="452" y2="1122" stroke="#000" stroke-width="2"/>
<text x="451.88" y="1148" font-size="24.3" text-anchor="middle" >300</text>
<line x1="596" y1="1113" x2="596" y2="1118" stroke="#000" stroke-width="2"/>
<text x="596.44" y="1148" font-size="24.3" text-anchor="middle" >325</text>
<line x1="741" y1="1113" x2="741" y2="1122" stroke="#000" stroke-width="2"/>
<text x="741.0" y="1148" font-size="24.3" text-anchor="middle" >350</text>
<text x="400.5" y="1174.5" font-size="23.6" text-anchor="middle" >Wavelength (nm)</text>
<text transform="translate(16.2,869) rotate(-90)" x="0" y="0" font-size="23" text-anchor="middle">Absorbance [A.U.]</text>
<text x="721.5" y="651.8" font-size="23" text-anchor="middle" >(b)</text>
<line x1="127.5" y1="926" x2="127.5" y2="868" stroke="#000" stroke-width="2"/>
<path d="M127.5,854.5 L131.7,870.5 L123.3,870.5 Z" fill="#000"/>
<text x="83" y="925.2" font-size="16.6" text-anchor="start" >Hg(II)</text>
<line x1="385.4" y1="710" x2="385.4" y2="864" stroke="#000" stroke-width="2"/>
<path d="M385.4,877.3 L389.7,862 L381.1,862 Z" fill="#000"/>
<text x="394" y="856.3" font-size="16.8" text-anchor="start" >Hg(II)</text>
<rect x="479.2" y="640.4" width="214.09999999999997" height="175.85000000000002" fill="#fff" stroke="none"/>
<line x1="479.2" y1="640.4" x2="693.3" y2="640.4" stroke="#555" stroke-width="1"/>
<line x1="693.3" y1="640.4" x2="693.3" y2="816.25" stroke="#777" stroke-width="1"/>
<line x1="479.2" y1="640.4" x2="479.2" y2="816.25" stroke="#888" stroke-width="1.3"/>
<line x1="479.2" y1="816.25" x2="693.3" y2="816.25" stroke="#444" stroke-width="1.2"/>
<line x1="476.2" y1="640.35" x2="479.2" y2="640.35" stroke="#555" stroke-width="1"/>
<text x="473.6" y="643.15" font-size="8" text-anchor="end" >1.0</text>
<line x1="476.2" y1="679.65" x2="479.2" y2="679.65" stroke="#555" stroke-width="1"/>
<text x="473.6" y="682.4499999999999" font-size="8" text-anchor="end" >0.9</text>
<line x1="476.2" y1="718.95" x2="479.2" y2="718.95" stroke="#555" stroke-width="1"/>
<text x="473.6" y="721.75" font-size="8" text-anchor="end" >0.8</text>
<line x1="476.2" y1="758.25" x2="479.2" y2="758.25" stroke="#555" stroke-width="1"/>
<text x="473.6" y="761.05" font-size="8" text-anchor="end" >0.7</text>
<line x1="477.7" y1="660.00" x2="479.2" y2="660.00" stroke="#555" stroke-width="1"/>
<line x1="477.7" y1="699.30" x2="479.2" y2="699.30" stroke="#555" stroke-width="1"/>
<line x1="477.7" y1="738.60" x2="479.2" y2="738.60" stroke="#555" stroke-width="1"/>
<line x1="477.7" y1="777.90" x2="479.2" y2="777.90" stroke="#555" stroke-width="1"/>
<line x1="476.2" y1="816.25" x2="479.2" y2="816.25" stroke="#555" stroke-width="1"/>
<line x1="477.7" y1="808.1" x2="479.2" y2="808.1" stroke="#555" stroke-width="1"/>
<text x="473.6" y="819.05" font-size="8" text-anchor="end" >0.0</text>
<rect x="476.2" y="796" width="6" height="6" fill="#fff"/>
<line x1="475.4" y1="799.5" x2="483.0" y2="795" stroke="#333" stroke-width="0.9"/>
<line x1="475.4" y1="803" x2="483.0" y2="798.5" stroke="#333" stroke-width="0.9"/>
<line x1="479.20" y1="816.25" x2="479.20" y2="819.25" stroke="#444" stroke-width="1"/>
<text x="479.2" y="829" font-size="8" text-anchor="middle" >0.0</text>
<line x1="504.80" y1="816.25" x2="504.80" y2="818.05" stroke="#444" stroke-width="1"/>
<line x1="530.40" y1="816.25" x2="530.40" y2="819.25" stroke="#444" stroke-width="1"/>
<text x="530.4" y="829" font-size="8" text-anchor="middle" >0.1</text>
<line x1="556.00" y1="816.25" x2="556.00" y2="818.05" stroke="#444" stroke-width="1"/>
<line x1="581.60" y1="816.25" x2="581.60" y2="819.25" stroke="#444" stroke-width="1"/>
<text x="581.6" y="829" font-size="8" text-anchor="middle" >0.2</text>
<line x1="607.20" y1="816.25" x2="607.20" y2="818.05" stroke="#444" stroke-width="1"/>
<line x1="632.80" y1="816.25" x2="632.80" y2="819.25" stroke="#444" stroke-width="1"/>
<text x="632.8" y="829" font-size="8" text-anchor="middle" >0.3</text>
<line x1="658.40" y1="816.25" x2="658.40" y2="818.05" stroke="#444" stroke-width="1"/>
<line x1="684.00" y1="816.25" x2="684.00" y2="819.25" stroke="#444" stroke-width="1"/>
<text x="684.0" y="829" font-size="8" text-anchor="middle" >0.4</text>
<text x="585.3" y="840" font-size="8.8" text-anchor="middle" >Hg(II) concentration (mM)</text>
<text transform="translate(460.8,722) rotate(-90)" font-size="9.4" text-anchor="middle">An/Ao</text>
<rect x="489.50" y="648.00" width="3.6" height="3.6" fill="#1F3BFF"/>
<rect x="513.10" y="665.80" width="3.6" height="3.6" fill="#1F3BFF"/>
<rect x="533.80" y="680.30" width="3.6" height="3.6" fill="#1F3BFF"/>
<rect x="553.20" y="694.80" width="3.6" height="3.6" fill="#1F3BFF"/>
<rect x="571.00" y="706.80" width="3.6" height="3.6" fill="#1F3BFF"/>
<rect x="587.60" y="726.20" width="3.6" height="3.6" fill="#1F3BFF"/>
<rect x="602.10" y="737.00" width="3.6" height="3.6" fill="#1F3BFF"/>
<rect x="616.60" y="751.50" width="3.6" height="3.6" fill="#1F3BFF"/>
<rect x="629.00" y="759.80" width="3.6" height="3.6" fill="#1F3BFF"/>
<rect x="641.40" y="767.60" width="3.6" height="3.6" fill="#1F3BFF"/>
<rect x="652.60" y="776.30" width="3.6" height="3.6" fill="#1F3BFF"/>
<rect x="663.30" y="783.40" width="3.6" height="3.6" fill="#1F3BFF"/>
<rect x="673.70" y="788.80" width="3.6" height="3.6" fill="#1F3BFF"/>
</svg></body></html>
